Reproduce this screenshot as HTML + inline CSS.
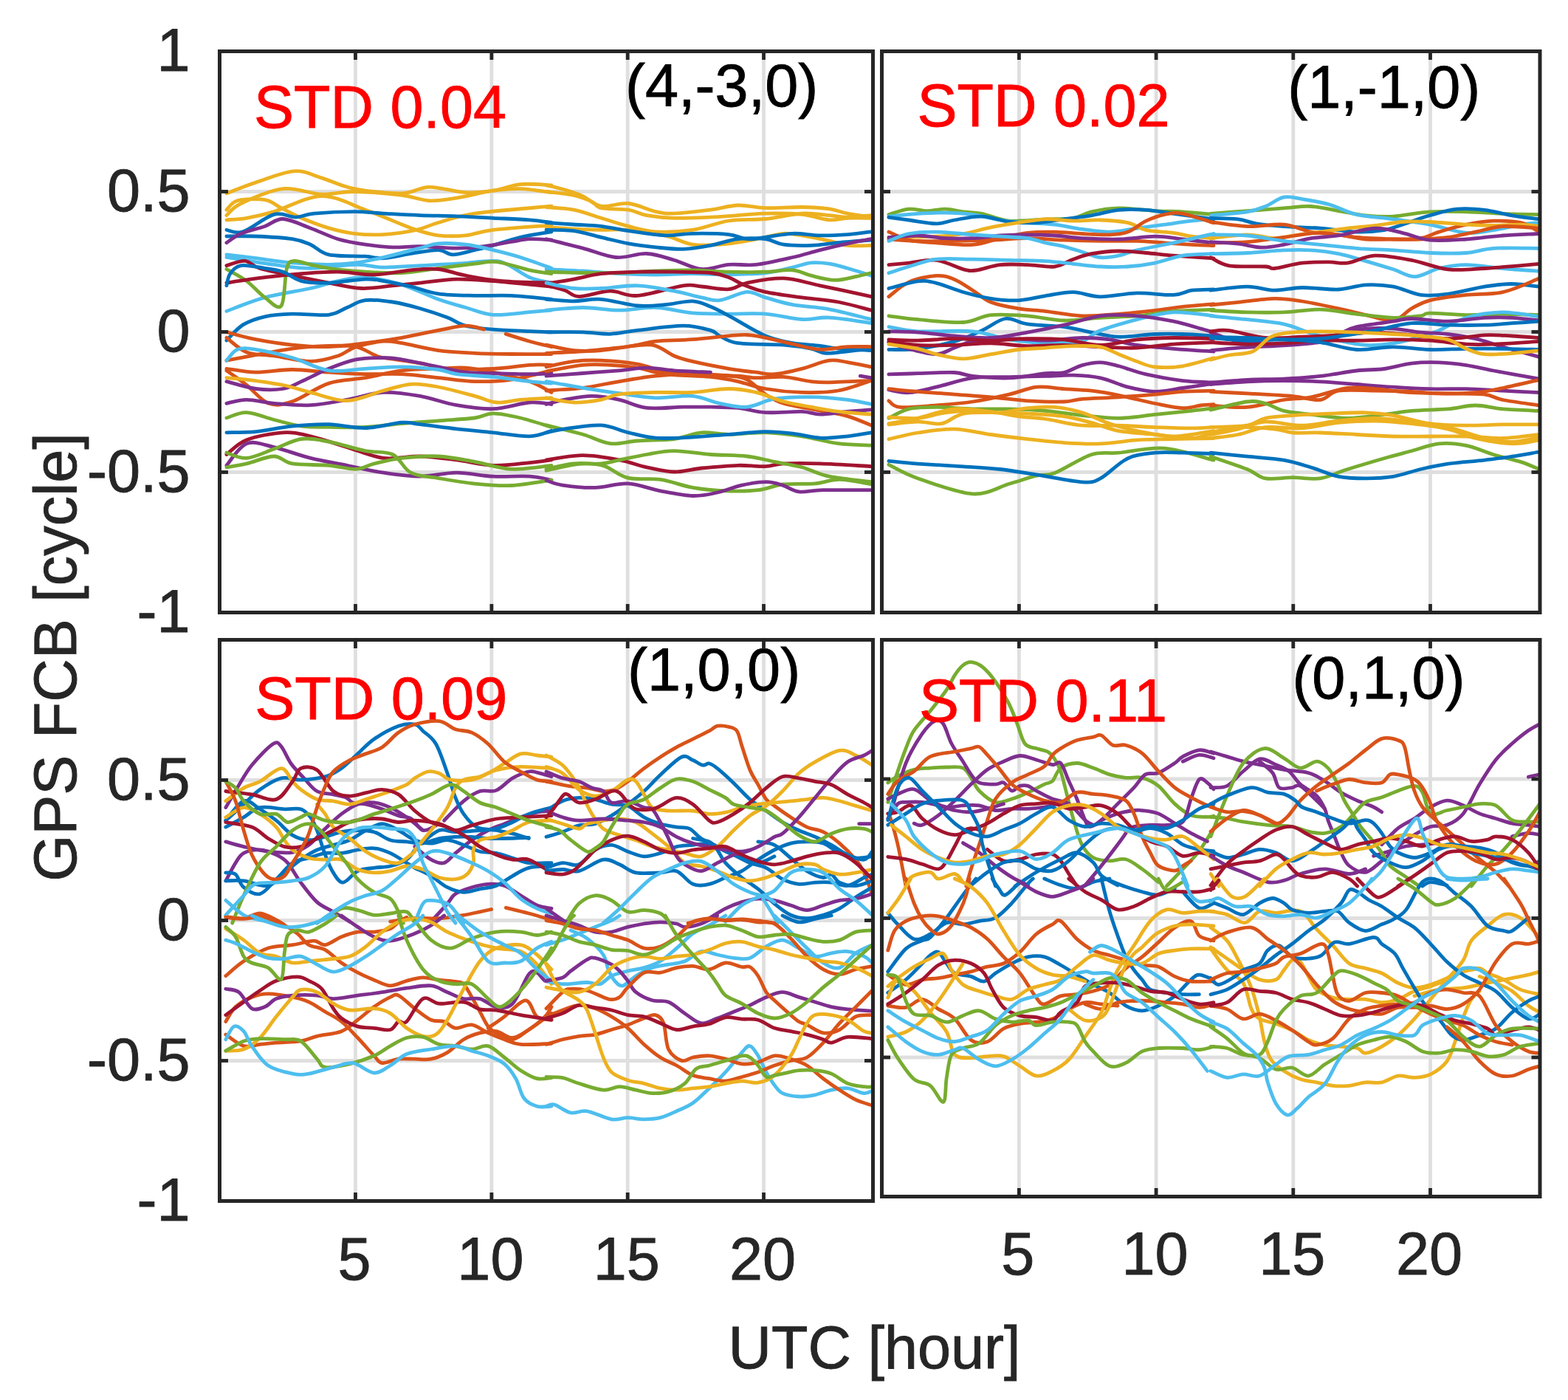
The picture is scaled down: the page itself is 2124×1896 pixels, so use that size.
<!DOCTYPE html><html><head><meta charset="utf-8"><style>html,body{margin:0;padding:0;background:#fff;overflow:hidden;width:2124px;height:1896px;}svg{display:block;}text{font-family:"Liberation Sans",Arial,Helvetica,sans-serif;font-size:81px;stroke-width:0.9px;}</style></head><body>
<svg width="2124" height="1896" viewBox="0 0 2124 1896">
<rect x="0" y="0" width="2124" height="1896" fill="#fff"/>
<clipPath id="clipTL"><rect x="297.5" y="69.5" width="885.0" height="760.0"/></clipPath>
<line x1="481.5" y1="69.5" x2="481.5" y2="829.5" stroke="#dfdfdf" stroke-width="4.8"/>
<line x1="665.9" y1="69.5" x2="665.9" y2="829.5" stroke="#dfdfdf" stroke-width="4.8"/>
<line x1="850.2" y1="69.5" x2="850.2" y2="829.5" stroke="#dfdfdf" stroke-width="4.8"/>
<line x1="1034.5" y1="69.5" x2="1034.5" y2="829.5" stroke="#dfdfdf" stroke-width="4.8"/>
<line x1="297.5" y1="259.5" x2="1182.5" y2="259.5" stroke="#dfdfdf" stroke-width="4.8"/>
<line x1="297.5" y1="449.5" x2="1182.5" y2="449.5" stroke="#dfdfdf" stroke-width="4.8"/>
<line x1="297.5" y1="639.5" x2="1182.5" y2="639.5" stroke="#dfdfdf" stroke-width="4.8"/>
<g clip-path="url(#clipTL)" fill="none" stroke-width="4.8" stroke-linejoin="round" stroke-linecap="round">
<path d="M306.9,261.9C313.5,259.5 331.2,252.1 346.5,247.1C361.7,242.1 383.5,232.8 398.4,231.8C413.2,230.7 421.9,236.9 435.5,240.9C449.1,244.9 461.8,252.2 480.0,255.7C498.1,259.2 527.4,262.3 544.3,261.9C561.2,261.5 566.9,253.5 581.3,253.3C595.8,253.1 616.4,259.9 630.8,260.7C645.2,261.5 655.5,260.1 667.9,258.2C680.2,256.4 691.8,250.8 705.0,249.6C718.2,248.3 740.0,250.6 747.0,250.8" stroke="#EDB120"/>
<path d="M306.9,291.6C310.2,288.9 313.9,281.5 326.7,275.5C339.4,269.5 365.4,257.8 383.5,255.7C401.7,253.7 419.4,262.5 435.5,263.2C451.5,263.8 461.8,259.2 480.0,259.5C498.1,259.7 527.4,262.3 544.3,264.4C561.2,266.5 569.0,271.2 581.3,271.8C593.7,272.4 604.0,270.4 618.4,268.1C632.9,265.8 653.5,260.3 667.9,258.2C682.3,256.2 691.8,255.3 705.0,255.7C718.2,256.2 740.0,259.9 747.0,260.7" stroke="#EDB120"/>
<path d="M306.9,297.8C311.4,297.4 323.4,297.2 334.1,295.3C344.8,293.4 354.3,291.6 371.2,286.6C388.1,281.7 414.9,266.0 435.5,265.6C456.1,265.2 476.7,277.8 494.8,284.2C512.9,290.6 532.7,299.4 544.3,304.0C555.8,308.5 555.8,308.9 564.0,311.4C572.3,313.8 582.6,317.6 593.7,318.8C604.8,320.0 618.4,320.0 630.8,318.8C643.2,317.6 648.5,313.6 667.9,311.4C687.3,309.1 733.8,306.2 747.0,305.2" stroke="#EDB120"/>
<path d="M306.9,284.2C309.4,282.1 313.1,274.1 321.7,271.8C330.4,269.5 348.9,268.9 358.8,270.6C368.7,272.2 372.8,277.6 381.1,281.7C389.3,285.8 397.6,290.8 408.3,295.3C419.0,299.8 433.4,305.4 445.4,308.9C457.3,312.4 467.6,314.9 480.0,316.3C492.3,317.8 505.5,318.4 519.5,317.6C533.5,316.7 551.7,314.1 564.0,311.4C576.4,308.7 580.5,305.2 593.7,301.5C606.9,297.8 617.6,292.8 643.2,289.1C668.7,285.4 729.7,280.9 747.0,279.2" stroke="#EDB120"/>
<path d="M306.9,311.4C310.6,311.8 318.4,317.4 329.1,313.8C339.9,310.3 359.2,293.7 371.2,290.4C383.1,287.1 391.8,294.3 400.8,294.1C409.9,293.9 412.4,290.4 425.6,289.1C438.8,287.9 464.3,286.6 480.0,286.6C495.6,286.6 504.7,288.3 519.5,289.1C534.4,289.9 552.5,291.0 569.0,291.6C585.5,292.2 601.9,292.2 618.4,292.8C634.9,293.4 651.4,294.5 667.9,295.3C684.4,296.1 704.1,296.7 717.3,297.8C730.5,298.8 742.1,300.9 747.0,301.5" stroke="#0072BD"/>
<path d="M306.9,320.0C313.5,320.0 331.6,319.4 346.5,320.0C361.3,320.6 383.5,321.9 395.9,323.7C408.3,325.6 412.4,327.7 420.6,331.2C428.9,334.7 433.0,342.1 445.4,344.8C457.7,347.4 482.4,346.4 494.8,347.2C507.2,348.1 509.2,350.3 519.5,349.7C529.8,349.1 544.3,345.4 556.6,343.5C569.0,341.7 584.2,338.4 593.7,338.6C603.2,338.8 605.2,344.8 613.5,344.8C621.7,344.8 634.1,340.6 643.2,338.6C652.2,336.5 657.6,335.3 667.9,332.4C678.2,329.5 691.8,324.4 705.0,321.3C718.2,318.2 740.0,315.1 747.0,313.8" stroke="#0072BD"/>
<path d="M306.9,328.7C310.2,326.6 318.0,320.0 326.7,316.3C335.3,312.6 349.3,309.7 358.8,306.4C368.3,303.1 373.2,296.1 383.5,296.5C393.8,297.0 408.3,304.4 420.6,308.9C433.0,313.4 445.4,320.0 457.7,323.7C470.1,327.4 482.4,329.3 494.8,331.2C507.2,333.0 519.5,334.5 531.9,334.9C544.3,335.3 554.6,333.4 569.0,333.6C583.4,333.8 604.0,336.1 618.4,336.1C632.9,336.1 643.2,335.1 655.5,333.6C667.9,332.2 682.3,329.1 692.6,327.4C702.9,325.8 708.3,324.1 717.3,323.7C726.4,323.3 742.1,324.8 747.0,325.0" stroke="#7E2F8E"/>
<path d="M306.9,344.8C313.5,345.6 331.6,347.8 346.5,349.7C361.3,351.6 379.4,354.4 395.9,355.9C412.4,357.3 430.9,358.4 445.4,358.4C459.8,358.4 470.1,357.5 482.4,355.9C494.8,354.2 505.1,351.8 519.5,348.5C534.0,345.2 556.6,339.2 569.0,336.1C581.3,333.0 583.4,330.7 593.7,329.9C604.0,329.1 618.4,329.7 630.8,331.2C643.2,332.6 655.5,335.7 667.9,338.6C680.2,341.5 691.8,344.3 705.0,348.5C718.2,352.6 740.0,360.8 747.0,363.3" stroke="#4DBEEE"/>
<path d="M306.9,348.5C317.6,350.1 352.2,355.9 371.2,358.4C390.1,360.8 402.1,363.3 420.6,363.3C439.2,363.3 466.0,358.6 482.4,358.4C498.9,358.1 505.1,361.9 519.5,362.1C534.0,362.3 552.5,360.4 569.0,359.6C585.5,358.8 601.9,358.1 618.4,357.1C634.9,356.1 656.3,353.2 667.9,353.4C679.4,353.6 679.4,354.6 687.7,358.4C695.9,362.1 707.4,371.5 717.3,375.7C727.2,379.8 742.1,381.8 747.0,383.1" stroke="#4DBEEE"/>
<path d="M306.9,421.4C315.5,418.3 339.9,408.0 358.8,402.9C377.8,397.7 404.1,394.2 420.6,390.5C437.1,386.8 445.4,383.1 457.7,380.6C470.1,378.1 480.4,374.8 494.8,375.7C509.2,376.5 527.8,380.6 544.3,385.6C560.7,390.5 579.3,400.2 593.7,405.3C608.1,410.5 618.4,413.0 630.8,416.5C643.2,420.0 653.5,425.3 667.9,426.3C682.3,427.4 704.1,423.7 717.3,422.6C730.5,421.6 742.1,420.6 747.0,420.2" stroke="#4DBEEE"/>
<path d="M306.9,364.5C311.4,367.2 325.4,374.2 334.1,380.6C342.7,387.0 351.0,397.3 358.8,402.9C366.6,408.4 376.1,420.6 381.1,414.0C386.0,407.4 385.6,373.4 388.5,363.3C391.4,353.2 393.0,354.2 398.4,353.4C403.7,352.6 412.8,356.7 420.6,358.4C428.5,360.0 433.0,361.7 445.4,363.3C457.7,364.9 478.3,367.2 494.8,368.2C511.3,369.3 527.8,370.3 544.3,369.5C560.7,368.7 577.2,365.4 593.7,363.3C610.2,361.2 630.0,358.6 643.2,357.1C656.3,355.7 660.5,353.2 672.8,354.6C685.2,356.1 705.0,363.1 717.3,365.8C729.7,368.4 742.1,369.9 747.0,370.7" stroke="#77AC30"/>
<path d="M306.9,359.6C311.0,358.6 324.2,352.8 331.6,353.4C339.0,354.0 340.7,360.0 351.4,363.3C362.1,366.6 380.2,369.9 395.9,373.2C411.6,376.5 429.7,380.2 445.4,383.1C461.0,386.0 475.4,389.9 489.9,390.5C504.3,391.1 518.7,388.0 531.9,386.8C545.1,385.6 554.6,384.5 569.0,383.1C583.4,381.6 601.9,378.5 618.4,378.1C634.9,377.7 646.5,379.0 667.9,380.6C689.3,382.3 733.8,386.8 747.0,388.0" stroke="#A2142F"/>
<path d="M306.9,383.1C315.5,381.8 341.9,377.7 358.8,375.7C375.7,373.6 391.8,372.0 408.3,370.7C424.7,369.5 441.2,368.0 457.7,368.2C474.2,368.4 490.7,372.4 507.2,372.0C523.7,371.5 542.2,367.0 556.6,365.8C571.0,364.5 581.3,363.3 593.7,364.5C606.1,365.8 616.4,370.5 630.8,373.2C645.2,375.9 660.9,379.0 680.2,380.6C699.6,382.3 735.9,382.7 747.0,383.1" stroke="#A2142F"/>
<path d="M306.9,386.8C307.7,384.1 308.5,375.2 311.8,370.7C315.1,366.2 318.8,360.8 326.7,359.6C334.5,358.4 349.3,361.9 358.8,363.3C368.3,364.7 375.3,365.4 383.5,368.2C391.8,371.1 398.0,378.1 408.3,380.6C418.6,383.1 430.9,383.5 445.4,383.1C459.8,382.7 482.4,378.5 494.8,378.1C507.2,377.7 509.2,379.0 519.5,380.6C529.8,382.3 544.3,385.1 556.6,388.0C569.0,390.9 579.3,395.9 593.7,397.9C608.1,400.0 626.7,400.0 643.2,400.4C659.6,400.8 675.3,399.6 692.6,400.4C709.9,401.2 737.9,404.5 747.0,405.3" stroke="#0072BD"/>
<path d="M306.9,461.0C310.6,457.5 320.5,445.3 329.1,439.9C337.8,434.6 347.7,431.3 358.8,428.8C369.9,426.3 381.5,425.5 395.9,425.1C410.3,424.7 433.0,427.8 445.4,426.3C457.7,424.9 461.8,419.8 470.1,416.5C478.3,413.2 484.5,407.8 494.8,406.6C505.1,405.3 519.5,407.2 531.9,409.0C544.3,410.9 556.6,414.2 569.0,417.7C581.3,421.2 595.8,426.1 606.1,430.1C616.4,434.0 620.5,438.5 630.8,441.2C641.1,443.9 653.5,444.9 667.9,446.1C682.3,447.4 704.1,448.0 717.3,448.6C730.5,449.2 742.1,449.6 747.0,449.8" stroke="#0072BD"/>
<path d="M306.9,449.8C313.5,451.5 331.6,456.8 346.5,459.7C361.3,462.6 379.4,465.5 395.9,467.1C412.4,468.8 428.9,470.0 445.4,469.6C461.8,469.2 478.3,466.7 494.8,464.7C511.3,462.6 527.8,460.1 544.3,457.3C560.7,454.4 579.3,450.0 593.7,447.4C608.1,444.7 620.5,441.4 630.8,441.2C641.1,441.0 651.4,445.3 655.5,446.1" stroke="#D95319"/>
<path d="M685.2,452.3C690.5,454.0 707.0,459.3 717.3,462.2C727.6,465.1 742.1,468.4 747.0,469.6" stroke="#D95319"/>
<path d="M306.9,457.3C311.4,460.6 323.4,472.9 334.1,477.0C344.8,481.2 356.8,479.9 371.2,482.0C385.6,484.0 406.2,489.4 420.6,489.4C435.1,489.4 447.4,485.3 457.7,482.0C468.0,478.7 472.1,472.9 482.4,469.6C492.7,466.3 509.2,463.0 519.5,462.2C529.8,461.4 531.9,462.6 544.3,464.7C556.6,466.7 577.2,472.3 593.7,474.6C610.2,476.8 626.7,477.4 643.2,478.3C659.6,479.1 675.3,479.3 692.6,479.5C709.9,479.7 737.9,479.5 747.0,479.5" stroke="#D95319"/>
<path d="M306.9,488.2C313.5,486.9 331.6,483.4 346.5,480.7C361.3,478.1 379.4,474.2 395.9,472.1C412.4,470.0 430.9,468.8 445.4,468.4C459.8,468.0 472.1,467.6 482.4,469.6C492.7,471.7 501.0,478.3 507.2,480.7C513.3,483.2 509.2,482.6 519.5,484.5C529.8,486.3 554.6,489.4 569.0,491.9C583.4,494.3 589.6,498.1 606.1,499.3C622.6,500.5 649.3,500.1 667.9,499.3C686.4,498.5 704.1,495.2 717.3,494.3C730.5,493.5 742.1,494.3 747.0,494.3" stroke="#D95319"/>
<path d="M306.9,499.3C313.5,500.1 331.6,504.0 346.5,504.2C361.3,504.4 379.4,500.5 395.9,500.5C412.4,500.5 428.9,503.2 445.4,504.2C461.8,505.3 478.3,506.3 494.8,506.7C511.3,507.1 527.8,505.9 544.3,506.7C560.7,507.5 577.2,510.0 593.7,511.7C610.2,513.3 626.7,516.2 643.2,516.6C659.6,517.0 675.3,516.6 692.6,514.1C709.9,511.7 737.9,503.8 747.0,501.8" stroke="#D95319"/>
<path d="M306.9,501.8C311.4,505.1 324.6,514.1 334.1,521.5C343.6,529.0 353.5,542.6 363.8,546.3C374.1,550.0 382.3,548.3 395.9,543.8C409.5,539.3 428.9,524.4 445.4,519.1C461.8,513.7 478.3,514.5 494.8,511.7C511.3,508.8 527.8,503.8 544.3,501.8C560.7,499.7 579.3,499.9 593.7,499.3C608.1,498.7 618.4,497.2 630.8,498.1C643.2,498.9 653.5,501.1 667.9,504.2C682.3,507.3 704.1,512.1 717.3,516.6C730.5,521.1 742.1,529.0 747.0,531.4" stroke="#D95319"/>
<path d="M306.9,516.6C313.5,518.2 333.7,524.8 346.5,526.5C359.2,528.1 373.2,528.1 383.5,526.5C393.8,524.8 398.0,521.1 408.3,516.6C418.6,512.1 433.0,504.2 445.4,499.3C457.7,494.3 470.1,489.4 482.4,486.9C494.8,484.5 509.2,484.5 519.5,484.5C529.8,484.5 531.9,484.9 544.3,486.9C556.6,489.0 579.3,493.9 593.7,496.8C608.1,499.7 618.4,502.8 630.8,504.2C643.2,505.7 653.5,505.1 667.9,505.5C682.3,505.9 704.1,506.7 717.3,506.7C730.5,506.7 742.1,505.7 747.0,505.5" stroke="#7E2F8E"/>
<path d="M306.9,546.3C311.4,545.4 323.4,541.3 334.1,541.3C344.8,541.3 356.8,545.0 371.2,546.3C385.6,547.5 404.1,549.6 420.6,548.7C437.1,547.9 453.6,544.2 470.1,541.3C486.6,538.4 503.0,532.3 519.5,531.4C536.0,530.6 552.5,533.5 569.0,536.4C585.5,539.3 601.9,545.9 618.4,548.7C634.9,551.6 651.4,554.3 667.9,553.7C684.4,553.1 704.1,546.1 717.3,545.0C730.5,544.0 742.1,547.1 747.0,547.5" stroke="#7E2F8E"/>
<path d="M306.9,488.2C309.4,485.7 315.1,475.8 321.7,473.3C328.3,470.9 334.1,471.5 346.5,473.3C358.8,475.2 379.4,479.7 395.9,484.5C412.4,489.2 428.9,499.3 445.4,501.8C461.8,504.2 478.3,500.1 494.8,499.3C511.3,498.5 527.8,496.6 544.3,496.8C560.7,497.0 581.3,498.9 593.7,500.5C606.1,502.2 606.1,505.1 618.4,506.7C630.8,508.4 651.4,508.8 667.9,510.4C684.4,512.1 704.1,515.2 717.3,516.6C730.5,518.0 742.1,518.7 747.0,519.1" stroke="#4DBEEE"/>
<path d="M306.9,511.7C311.4,512.1 321.3,512.5 334.1,514.1C346.9,515.8 369.1,518.7 383.5,521.5C398.0,524.4 406.2,527.9 420.6,531.4C435.1,534.9 453.6,543.0 470.1,542.6C486.6,542.1 505.1,532.7 519.5,529.0C534.0,525.3 544.3,521.1 556.6,520.3C569.0,519.5 579.3,521.3 593.7,524.0C608.1,526.7 630.0,532.9 643.2,536.4C656.3,539.9 662.5,544.2 672.8,545.0C683.1,545.9 692.6,542.4 705.0,541.3C717.3,540.3 740.0,539.3 747.0,538.8" stroke="#EDB120"/>
<path d="M306.9,566.0C311.4,564.8 323.4,558.2 334.1,558.6C344.8,559.0 358.8,565.4 371.2,568.5C383.5,571.6 395.9,575.5 408.3,577.2C420.6,578.8 430.9,578.2 445.4,578.4C459.8,578.6 478.3,579.2 494.8,578.4C511.3,577.6 527.8,574.9 544.3,573.5C560.7,572.0 577.2,571.0 593.7,569.8C610.2,568.5 630.8,567.7 643.2,566.0C655.5,564.4 657.6,559.9 667.9,559.9C678.2,559.9 691.8,563.0 705.0,566.0C718.2,569.1 740.0,576.4 747.0,578.4" stroke="#77AC30"/>
<path d="M306.9,585.8C313.5,585.6 331.6,586.0 346.5,584.6C361.3,583.1 379.4,578.8 395.9,577.2C412.4,575.5 428.9,574.3 445.4,574.7C461.8,575.1 478.3,580.1 494.8,579.6C511.3,579.2 531.9,573.1 544.3,572.2C556.6,571.4 556.6,573.3 569.0,574.7C581.3,576.1 601.9,579.0 618.4,580.9C634.9,582.7 651.4,584.2 667.9,585.8C684.4,587.5 704.1,591.2 717.3,590.8C730.5,590.4 742.1,584.6 747.0,583.4" stroke="#0072BD"/>
<path d="M306.9,615.5C311.4,612.2 321.3,600.7 334.1,595.7C346.9,590.8 369.1,586.7 383.5,585.8C398.0,585.0 406.2,587.5 420.6,590.8C435.1,594.1 453.6,600.7 470.1,605.6C486.6,610.6 503.0,618.4 519.5,620.4C536.0,622.5 552.5,617.6 569.0,618.0C585.5,618.4 601.9,620.9 618.4,622.9C634.9,625.0 651.4,629.7 667.9,630.3C684.4,631.0 704.1,627.9 717.3,626.6C730.5,625.4 742.1,623.5 747.0,622.9" stroke="#A2142F"/>
<path d="M306.9,630.3C311.4,625.4 323.4,604.8 334.1,600.7C344.8,596.5 356.8,602.3 371.2,605.6C385.6,608.9 404.1,616.3 420.6,620.4C437.1,624.6 453.6,627.0 470.1,630.3C486.6,633.6 503.0,637.8 519.5,640.2C536.0,642.7 552.5,645.2 569.0,645.2C585.5,645.2 601.9,640.2 618.4,640.2C634.9,640.2 651.4,644.3 667.9,645.2C684.4,646.0 704.1,644.3 717.3,645.2C730.5,646.0 742.1,649.3 747.0,650.1" stroke="#7E2F8E"/>
<path d="M306.9,613.0C311.4,614.3 323.4,621.3 334.1,620.4C344.8,619.6 358.8,612.4 371.2,608.1C383.5,603.8 395.9,596.1 408.3,594.5C420.6,592.8 430.9,595.5 445.4,598.2C459.8,600.9 480.4,607.7 494.8,610.6C509.2,613.4 521.6,610.6 531.9,615.5C542.2,620.4 546.3,634.9 556.6,640.2C566.9,645.6 579.3,645.2 593.7,647.6C608.1,650.1 626.7,653.4 643.2,655.1C659.6,656.7 675.3,658.4 692.6,657.5C709.9,656.7 737.9,651.4 747.0,650.1" stroke="#77AC30"/>
<path d="M306.9,632.8C311.4,632.0 323.4,630.3 334.1,627.9C344.8,625.4 360.9,618.0 371.2,618.0C381.5,618.0 383.5,625.8 395.9,627.9C408.3,629.9 430.9,629.1 445.4,630.3C459.8,631.6 472.1,635.7 482.4,635.3C492.7,634.9 496.9,630.3 507.2,627.9C517.5,625.4 529.8,622.1 544.3,620.4C558.7,618.8 577.2,617.1 593.7,618.0C610.2,618.8 626.7,622.5 643.2,625.4C659.6,628.3 675.3,634.5 692.6,635.3C709.9,636.1 737.9,631.2 747.0,630.3" stroke="#77AC30"/>
<path d="M740.0,250.8C744.1,251.8 756.5,254.5 764.7,257.0C773.0,259.5 781.2,261.9 789.5,265.6C797.7,269.3 803.9,277.6 814.2,279.2C824.5,280.9 838.9,274.3 851.3,275.5C863.6,276.8 878.1,284.4 888.4,286.6C898.7,288.9 900.7,289.5 913.1,289.1C925.4,288.7 948.1,286.0 962.5,284.2C977.0,282.3 987.3,278.4 999.6,278.0C1012.0,277.6 1022.3,281.3 1036.7,281.7C1051.1,282.1 1071.7,280.3 1086.2,280.5C1100.6,280.7 1112.9,281.5 1123.2,282.9C1133.5,284.4 1138.5,287.3 1148.0,289.1C1157.4,291.0 1174.8,293.2 1180.1,294.1" stroke="#EDB120"/>
<path d="M740.0,259.5C746.2,260.3 766.8,262.1 777.1,264.4C787.4,266.7 795.6,270.2 801.8,273.1C808.0,275.9 805.9,279.8 814.2,281.7C822.4,283.6 841.0,282.5 851.3,284.2C861.6,285.8 865.7,289.7 876.0,291.6C886.3,293.4 898.7,294.9 913.1,295.3C927.5,295.7 948.1,294.7 962.5,294.1C977.0,293.4 987.3,292.4 999.6,291.6C1012.0,290.8 1022.3,289.3 1036.7,289.1C1051.1,288.9 1071.7,288.9 1086.2,290.4C1100.6,291.8 1112.9,297.0 1123.2,297.8C1133.5,298.6 1138.5,295.7 1148.0,295.3C1157.4,294.9 1174.8,295.3 1180.1,295.3" stroke="#EDB120"/>
<path d="M740.0,280.5C746.2,281.1 764.7,281.7 777.1,284.2C789.5,286.6 801.8,291.6 814.2,295.3C826.5,299.0 838.9,303.3 851.3,306.4C863.6,309.5 873.9,313.0 888.4,313.8C902.8,314.7 921.3,313.8 937.8,311.4C954.3,308.9 970.8,301.5 987.3,299.0C1003.7,296.5 1020.2,298.2 1036.7,296.5C1053.2,294.9 1071.7,289.9 1086.2,289.1C1100.6,288.3 1112.9,290.8 1123.2,291.6C1133.5,292.4 1138.5,294.1 1148.0,294.1C1157.4,294.1 1174.8,292.0 1180.1,291.6" stroke="#EDB120"/>
<path d="M740.0,307.7C746.2,308.1 764.7,309.5 777.1,310.1C789.5,310.8 801.8,311.2 814.2,311.4C826.5,311.6 836.8,310.1 851.3,311.4C865.7,312.6 886.3,315.5 900.7,318.8C915.1,322.1 925.4,329.1 937.8,331.2C950.2,333.2 962.5,332.0 974.9,331.2C987.3,330.3 1001.7,327.9 1012.0,326.2C1022.3,324.6 1028.5,322.9 1036.7,321.3C1044.9,319.6 1053.2,316.7 1061.4,316.3C1069.7,315.9 1075.9,317.1 1086.2,318.8C1096.5,320.4 1112.9,323.9 1123.2,326.2C1133.5,328.5 1138.5,331.4 1148.0,332.4C1157.4,333.4 1174.8,332.4 1180.1,332.4" stroke="#EDB120"/>
<path d="M740.0,301.5C746.2,301.9 764.7,303.1 777.1,304.0C789.5,304.8 801.8,305.0 814.2,306.4C826.5,307.9 836.8,310.6 851.3,312.6C865.7,314.7 886.3,318.2 900.7,318.8C915.1,319.4 923.4,316.5 937.8,316.3C952.2,316.1 974.9,316.3 987.3,317.6C999.6,318.8 1003.7,323.1 1012.0,323.7C1020.2,324.4 1026.4,322.5 1036.7,321.3C1047.0,320.0 1061.4,316.7 1073.8,316.3C1086.2,315.9 1098.5,318.6 1110.9,318.8C1123.2,319.0 1136.4,318.4 1148.0,317.6C1159.5,316.7 1174.8,314.5 1180.1,313.8" stroke="#0072BD"/>
<path d="M740.0,311.4C746.2,311.6 764.7,311.0 777.1,312.6C789.5,314.3 801.8,318.4 814.2,321.3C826.5,324.1 838.9,327.7 851.3,329.9C863.6,332.2 876.0,333.6 888.4,334.9C900.7,336.1 913.1,337.7 925.4,337.3C937.8,336.9 950.2,334.7 962.5,332.4C974.9,330.1 987.3,325.2 999.6,323.7C1012.0,322.3 1026.4,322.5 1036.7,323.7C1047.0,325.0 1051.1,329.7 1061.4,331.2C1071.7,332.6 1086.2,332.8 1098.5,332.4C1110.9,332.0 1122.0,329.9 1135.6,328.7C1149.2,327.4 1172.7,325.6 1180.1,325.0" stroke="#0072BD"/>
<path d="M740.0,323.7C748.2,325.8 773.8,332.0 789.5,336.1C805.1,340.2 819.5,347.2 834.0,348.5C848.4,349.7 862.8,342.9 876.0,343.5C889.2,344.1 900.7,348.7 913.1,352.2C925.4,355.7 937.8,363.5 950.2,364.5C962.5,365.6 974.9,359.4 987.3,358.4C999.6,357.3 1009.9,360.0 1024.3,358.4C1038.8,356.7 1059.4,351.8 1073.8,348.5C1088.2,345.2 1098.5,341.7 1110.9,338.6C1123.2,335.5 1136.4,332.4 1148.0,329.9C1159.5,327.4 1174.8,324.8 1180.1,323.7" stroke="#7E2F8E"/>
<path d="M740.0,364.5C748.2,364.9 773.0,366.0 789.5,367.0C805.9,368.0 822.4,369.9 838.9,370.7C855.4,371.5 871.9,372.0 888.4,372.0C904.8,372.0 921.3,370.7 937.8,370.7C954.3,370.7 970.8,372.2 987.3,372.0C1003.7,371.7 1022.3,371.1 1036.7,369.5C1051.1,367.8 1063.5,364.3 1073.8,362.1C1084.1,359.8 1090.3,356.7 1098.5,355.9C1106.8,355.1 1115.0,355.9 1123.2,357.1C1131.5,358.4 1138.5,360.6 1148.0,363.3C1157.4,366.0 1174.8,371.5 1180.1,373.2" stroke="#4DBEEE"/>
<path d="M740.0,368.2C748.2,368.4 773.0,369.3 789.5,369.5C805.9,369.7 822.4,369.9 838.9,369.5C855.4,369.1 871.9,367.6 888.4,367.0C904.8,366.4 921.3,365.6 937.8,365.8C954.3,366.0 970.8,367.8 987.3,368.2C1003.7,368.7 1022.3,368.7 1036.7,368.2C1051.1,367.8 1063.5,364.9 1073.8,365.8C1084.1,366.6 1089.0,370.9 1098.5,373.2C1108.0,375.5 1120.4,379.2 1130.7,379.4C1141.0,379.6 1152.1,376.1 1160.3,374.4C1168.6,372.8 1176.8,370.3 1180.1,369.5" stroke="#77AC30"/>
<path d="M740.0,384.3C746.2,383.3 764.7,380.4 777.1,378.1C789.5,375.9 799.8,372.4 814.2,370.7C828.6,369.1 847.1,368.7 863.6,368.2C880.1,367.8 896.6,368.0 913.1,368.2C929.6,368.4 950.2,368.2 962.5,369.5C974.9,370.7 979.8,373.0 987.3,375.7C994.7,378.3 998.8,382.3 1007.0,385.6C1015.3,388.8 1023.5,392.6 1036.7,395.4C1049.9,398.3 1069.7,400.6 1086.2,402.9C1102.6,405.1 1119.9,406.2 1135.6,409.0C1151.3,411.9 1172.7,418.3 1180.1,420.2" stroke="#A2142F"/>
<path d="M740.0,386.8C744.1,387.8 757.3,390.5 764.7,393.0C772.1,395.4 774.2,401.4 784.5,401.6C794.8,401.8 813.4,394.4 826.5,394.2C839.7,394.0 847.1,401.6 863.6,400.4C880.1,399.2 911.0,388.8 925.4,386.8C939.9,384.7 939.9,387.2 950.2,388.0C960.5,388.8 977.0,392.6 987.3,391.7C997.6,390.9 999.6,385.6 1012.0,383.1C1024.3,380.6 1044.9,376.3 1061.4,376.9C1077.9,377.5 1091.1,382.7 1110.9,386.8C1130.7,390.9 1168.6,399.2 1180.1,401.6" stroke="#A2142F"/>
<path d="M740.0,383.1C746.2,384.3 764.7,389.3 777.1,390.5C789.5,391.7 799.8,391.1 814.2,390.5C828.6,389.9 847.1,386.2 863.6,386.8C880.1,387.4 898.7,391.5 913.1,394.2C927.5,396.9 939.9,400.8 950.2,402.9C960.5,404.9 964.6,407.8 974.9,406.6C985.2,405.3 1001.7,396.1 1012.0,395.4C1022.3,394.8 1026.4,400.0 1036.7,402.9C1047.0,405.7 1059.4,410.1 1073.8,412.7C1088.2,415.4 1105.5,415.6 1123.2,418.9C1141.0,422.2 1170.6,430.3 1180.1,432.5" stroke="#4DBEEE"/>
<path d="M740.0,420.2C748.2,419.5 773.0,416.5 789.5,416.5C805.9,416.5 822.4,420.2 838.9,420.2C855.4,420.2 871.9,415.8 888.4,416.5C904.8,417.1 921.3,422.4 937.8,423.9C954.3,425.3 970.8,424.9 987.3,425.1C1003.7,425.3 1020.2,423.9 1036.7,425.1C1053.2,426.3 1071.7,431.7 1086.2,432.5C1100.6,433.4 1107.6,429.2 1123.2,430.1C1138.9,430.9 1170.6,436.2 1180.1,437.5" stroke="#4DBEEE"/>
<path d="M740.0,405.3C746.2,405.7 764.7,407.8 777.1,407.8C789.5,407.8 799.8,404.3 814.2,405.3C828.6,406.4 849.2,412.7 863.6,414.0C878.1,415.2 888.4,413.8 900.7,412.7C913.1,411.7 927.5,407.4 937.8,407.8C948.1,408.2 954.3,411.9 962.5,415.2C970.8,418.5 974.9,421.0 987.3,427.6C999.6,434.2 1022.3,448.6 1036.7,454.8C1051.1,461.0 1061.4,462.4 1073.8,464.7C1086.2,466.9 1100.6,467.1 1110.9,468.4C1121.2,469.6 1124.1,471.1 1135.6,472.1C1147.1,473.1 1172.7,474.2 1180.1,474.6" stroke="#0072BD"/>
<path d="M740.0,449.8C748.2,449.8 775.0,449.4 789.5,449.8C803.9,450.2 814.2,452.7 826.5,452.3C838.9,451.9 847.1,449.2 863.6,447.4C880.1,445.5 909.0,441.2 925.4,441.2C941.9,441.2 954.3,445.1 962.5,447.4C970.8,449.6 968.7,451.9 974.9,454.8C981.1,457.7 985.2,462.6 999.6,464.7C1014.0,466.7 1044.9,465.9 1061.4,467.1C1077.9,468.4 1089.0,470.2 1098.5,472.1C1108.0,473.9 1110.1,477.7 1118.3,478.3C1126.5,478.9 1137.7,476.8 1148.0,475.8C1158.3,474.8 1174.8,472.7 1180.1,472.1" stroke="#0072BD"/>
<path d="M740.0,467.1C746.2,468.4 764.7,473.3 777.1,474.6C789.5,475.8 799.8,475.8 814.2,474.6C828.6,473.3 851.3,469.2 863.6,467.1C876.0,465.1 876.0,463.4 888.4,462.2C900.7,461.0 921.3,461.0 937.8,459.7C954.3,458.5 974.9,455.8 987.3,454.8C999.6,453.8 1003.7,453.1 1012.0,453.5C1020.2,454.0 1026.4,455.2 1036.7,457.3C1047.0,459.3 1061.4,463.2 1073.8,465.9C1086.2,468.6 1098.5,472.7 1110.9,473.3C1123.2,473.9 1136.4,470.2 1148.0,469.6C1159.5,469.0 1174.8,469.6 1180.1,469.6" stroke="#D95319"/>
<path d="M740.0,478.3C748.2,477.9 773.0,477.0 789.5,475.8C805.9,474.6 823.2,472.3 838.9,470.9C854.6,469.4 871.0,465.3 883.4,467.1C895.8,469.0 904.0,478.3 913.1,482.0C922.1,485.7 925.4,486.5 937.8,489.4C950.2,492.3 972.8,496.8 987.3,499.3C1001.7,501.8 1014.0,503.0 1024.3,504.2C1034.6,505.5 1038.8,507.5 1049.1,506.7C1059.4,505.9 1073.8,502.4 1086.2,499.3C1098.5,496.2 1112.9,489.6 1123.2,488.2C1133.5,486.7 1138.5,489.2 1148.0,490.6C1157.4,492.1 1174.8,495.8 1180.1,496.8" stroke="#D95319"/>
<path d="M740.0,496.8C746.2,495.6 764.7,490.8 777.1,489.4C789.5,488.0 799.8,487.5 814.2,488.2C828.6,488.8 849.2,490.6 863.6,493.1C878.1,495.6 886.3,500.7 900.7,503.0C915.1,505.3 933.7,505.7 950.2,506.7C966.7,507.7 987.3,508.4 999.6,509.2C1012.0,510.0 1014.0,511.4 1024.3,511.7C1034.6,511.9 1049.1,509.6 1061.4,510.4C1073.8,511.2 1088.2,515.4 1098.5,516.6C1108.8,517.8 1109.6,518.0 1123.2,517.8C1136.8,517.6 1170.6,515.8 1180.1,515.4" stroke="#D95319"/>
<path d="M740.0,503.0C748.2,501.6 775.0,495.8 789.5,494.3C803.9,492.9 814.2,493.7 826.5,494.3C838.9,495.0 851.3,496.0 863.6,498.1C876.0,500.1 884.2,504.6 900.7,506.7C917.2,508.8 946.0,508.8 962.5,510.4C979.0,512.1 987.3,513.9 999.6,516.6C1012.0,519.3 1022.3,524.0 1036.7,526.5C1051.1,529.0 1069.7,531.0 1086.2,531.4C1102.6,531.8 1119.9,531.6 1135.6,529.0C1151.3,526.3 1172.7,517.6 1180.1,515.4" stroke="#D95319"/>
<path d="M740.0,529.0C748.2,528.3 773.0,527.3 789.5,525.3C805.9,523.2 822.4,519.3 838.9,516.6C855.4,513.9 871.9,510.8 888.4,509.2C904.8,507.5 921.3,506.7 937.8,506.7C954.3,506.7 974.9,507.9 987.3,509.2C999.6,510.4 1003.7,510.0 1012.0,514.1C1020.2,518.2 1028.5,528.5 1036.7,533.9C1044.9,539.3 1049.1,542.6 1061.4,546.3C1073.8,550.0 1096.5,553.3 1110.9,556.2C1125.3,559.0 1136.4,560.3 1148.0,563.6C1159.5,566.9 1174.8,573.9 1180.1,575.9" stroke="#D95319"/>
<path d="M740.0,509.2C748.2,508.6 773.0,506.7 789.5,505.5C805.9,504.2 824.5,503.0 838.9,501.8C853.3,500.5 863.6,498.1 876.0,498.1C888.4,498.1 898.7,500.7 913.1,501.8C927.5,502.8 954.3,503.8 962.5,504.2" stroke="#7E2F8E"/>
<path d="M1165.3,509.2 L1180.1,511.7" stroke="#7E2F8E"/>
<path d="M740.0,547.5C744.1,546.5 754.4,543.2 764.7,541.3C775.0,539.5 789.5,536.4 801.8,536.4C814.2,536.4 826.5,538.6 838.9,541.3C851.3,544.0 861.6,550.8 876.0,552.4C890.4,554.1 911.0,551.4 925.4,551.2C939.9,551.0 950.2,551.0 962.5,551.2C974.9,551.4 987.3,551.2 999.6,552.4C1012.0,553.7 1022.3,557.8 1036.7,558.6C1051.1,559.5 1073.8,557.0 1086.2,557.4C1098.5,557.8 1100.6,561.1 1110.9,561.1C1121.2,561.1 1136.4,558.4 1148.0,557.4C1159.5,556.4 1174.8,555.3 1180.1,554.9" stroke="#7E2F8E"/>
<path d="M740.0,516.6C748.2,518.0 773.0,522.6 789.5,525.3C805.9,527.9 822.4,530.4 838.9,532.7C855.4,534.9 871.9,538.2 888.4,538.8C904.8,539.5 923.4,535.1 937.8,536.4C952.2,537.6 962.5,543.8 974.9,546.3C987.3,548.7 999.6,552.2 1012.0,551.2C1024.3,550.2 1034.6,542.4 1049.1,540.1C1063.5,537.8 1082.0,537.4 1098.5,537.6C1115.0,537.8 1134.4,539.7 1148.0,541.3C1161.6,543.0 1174.8,546.5 1180.1,547.5" stroke="#4DBEEE"/>
<path d="M740.0,538.8C746.2,539.9 764.7,544.6 777.1,545.0C789.5,545.4 803.9,543.2 814.2,541.3C824.5,539.5 826.5,535.6 838.9,533.9C851.3,532.3 871.9,531.8 888.4,531.4C904.8,531.0 921.3,532.3 937.8,531.4C954.3,530.6 972.8,526.5 987.3,526.5C1001.7,526.5 1012.0,528.5 1024.3,531.4C1036.7,534.3 1049.1,540.5 1061.4,543.8C1073.8,547.1 1086.2,548.9 1098.5,551.2C1110.9,553.5 1122.0,555.7 1135.6,557.4C1149.2,559.0 1172.7,560.5 1180.1,561.1" stroke="#EDB120"/>
<path d="M740.0,575.9C748.2,578.0 775.0,584.2 789.5,588.3C803.9,592.4 814.2,599.2 826.5,600.7C838.9,602.1 849.2,598.0 863.6,597.0C878.1,595.9 898.7,596.3 913.1,594.5C927.5,592.6 937.8,586.9 950.2,585.8C962.5,584.8 972.8,588.3 987.3,588.3C1001.7,588.3 1020.2,585.4 1036.7,585.8C1053.2,586.2 1069.7,588.3 1086.2,590.8C1102.6,593.2 1119.9,598.6 1135.6,600.7C1151.3,602.7 1172.7,602.7 1180.1,603.1" stroke="#77AC30"/>
<path d="M740.0,585.8C744.1,585.0 752.4,582.5 764.7,580.9C777.1,579.2 799.8,575.1 814.2,575.9C828.6,576.8 838.9,582.9 851.3,585.8C863.6,588.7 873.9,592.2 888.4,593.2C902.8,594.3 921.3,592.8 937.8,592.0C954.3,591.2 970.8,589.5 987.3,588.3C1003.7,587.1 1022.3,584.8 1036.7,584.6C1051.1,584.4 1061.4,585.6 1073.8,587.1C1086.2,588.5 1098.5,592.6 1110.9,593.2C1123.2,593.9 1136.4,592.0 1148.0,590.8C1159.5,589.5 1174.8,586.7 1180.1,585.8" stroke="#0072BD"/>
<path d="M740.0,622.9C748.2,621.9 773.0,616.7 789.5,616.7C805.9,616.7 824.5,620.2 838.9,622.9C853.3,625.6 863.6,630.1 876.0,632.8C888.4,635.5 900.7,638.8 913.1,639.0C925.4,639.2 935.7,635.5 950.2,634.0C964.6,632.6 985.2,630.7 999.6,630.3C1014.0,629.9 1026.4,632.0 1036.7,631.6C1047.0,631.2 1049.1,628.5 1061.4,627.9C1073.8,627.2 1091.1,627.2 1110.9,627.9C1130.7,628.5 1168.6,631.0 1180.1,631.6" stroke="#A2142F"/>
<path d="M740.0,635.3C746.2,634.0 764.7,629.1 777.1,627.9C789.5,626.6 803.9,628.7 814.2,627.9C824.5,627.0 828.6,625.0 838.9,622.9C849.2,620.9 863.6,617.6 876.0,615.5C888.4,613.4 898.7,610.6 913.1,610.6C927.5,610.6 946.0,614.3 962.5,615.5C979.0,616.7 997.6,616.3 1012.0,618.0C1026.4,619.6 1036.7,622.9 1049.1,625.4C1061.4,627.9 1073.8,629.5 1086.2,632.8C1098.5,636.1 1107.6,641.9 1123.2,645.2C1138.9,648.5 1170.6,651.4 1180.1,652.6" stroke="#77AC30"/>
<path d="M740.0,637.2C747.4,635.8 771.3,629.5 784.1,628.4C797.0,627.3 806.2,627.5 817.2,630.6C828.3,633.8 837.5,644.1 850.4,647.2C863.2,650.3 879.8,647.2 894.5,649.4C909.2,651.6 923.9,657.8 938.6,660.4C953.3,663.0 968.1,664.3 982.8,664.8C997.5,665.4 1014.0,665.2 1026.9,663.7C1039.8,662.3 1047.1,657.5 1060.0,656.0C1072.9,654.5 1091.3,656.0 1104.2,654.9C1117.0,653.8 1124.4,649.2 1137.3,649.4C1150.1,649.6 1174.0,654.9 1181.4,656.0" stroke="#77AC30"/>
<path d="M740.0,650.5C743.7,651.6 751.0,655.5 762.1,657.1C773.1,658.8 791.5,660.8 806.2,660.4C820.9,660.1 835.6,654.2 850.4,654.9C865.1,655.6 879.8,662.1 894.5,664.8C909.2,667.6 925.8,671.1 938.6,671.5C951.5,671.8 960.7,669.4 971.7,667.0C982.8,664.6 993.8,659.5 1004.8,657.1C1015.9,654.7 1028.8,652.7 1037.9,652.7C1047.1,652.7 1052.7,654.9 1060.0,657.1C1067.4,659.3 1072.9,664.8 1082.1,665.9C1091.3,667.0 1098.6,664.1 1115.2,663.7C1131.7,663.4 1170.4,663.7 1181.4,663.7" stroke="#7E2F8E"/>
</g>
<text x="344" y="173.4" fill="#ff0000" stroke="#ff0000" stroke-width="0.9">STD 0.04</text>
<text x="847.1" y="144" fill="#000" stroke="#000" stroke-width="0.9">(4,-3,0)</text>
<line x1="481.5" y1="829.5" x2="481.5" y2="818.0" stroke="#262626" stroke-width="4.8"/>
<line x1="481.5" y1="69.5" x2="481.5" y2="81.0" stroke="#262626" stroke-width="4.8"/>
<line x1="665.9" y1="829.5" x2="665.9" y2="818.0" stroke="#262626" stroke-width="4.8"/>
<line x1="665.9" y1="69.5" x2="665.9" y2="81.0" stroke="#262626" stroke-width="4.8"/>
<line x1="850.2" y1="829.5" x2="850.2" y2="818.0" stroke="#262626" stroke-width="4.8"/>
<line x1="850.2" y1="69.5" x2="850.2" y2="81.0" stroke="#262626" stroke-width="4.8"/>
<line x1="1034.5" y1="829.5" x2="1034.5" y2="818.0" stroke="#262626" stroke-width="4.8"/>
<line x1="1034.5" y1="69.5" x2="1034.5" y2="81.0" stroke="#262626" stroke-width="4.8"/>
<line x1="297.5" y1="69.5" x2="309.0" y2="69.5" stroke="#262626" stroke-width="4.8"/>
<line x1="1182.5" y1="69.5" x2="1171.0" y2="69.5" stroke="#262626" stroke-width="4.8"/>
<line x1="297.5" y1="259.5" x2="309.0" y2="259.5" stroke="#262626" stroke-width="4.8"/>
<line x1="1182.5" y1="259.5" x2="1171.0" y2="259.5" stroke="#262626" stroke-width="4.8"/>
<line x1="297.5" y1="449.5" x2="309.0" y2="449.5" stroke="#262626" stroke-width="4.8"/>
<line x1="1182.5" y1="449.5" x2="1171.0" y2="449.5" stroke="#262626" stroke-width="4.8"/>
<line x1="297.5" y1="639.5" x2="309.0" y2="639.5" stroke="#262626" stroke-width="4.8"/>
<line x1="1182.5" y1="639.5" x2="1171.0" y2="639.5" stroke="#262626" stroke-width="4.8"/>
<line x1="297.5" y1="829.5" x2="309.0" y2="829.5" stroke="#262626" stroke-width="4.8"/>
<line x1="1182.5" y1="829.5" x2="1171.0" y2="829.5" stroke="#262626" stroke-width="4.8"/>
<rect x="297.5" y="69.5" width="885.0" height="760.0" fill="none" stroke="#262626" stroke-width="5" stroke-linejoin="miter"/>
<clipPath id="clipTR"><rect x="1194.5" y="69.5" width="891.5" height="760.0"/></clipPath>
<line x1="1380.4" y1="69.5" x2="1380.4" y2="829.5" stroke="#dfdfdf" stroke-width="4.8"/>
<line x1="1566.1" y1="69.5" x2="1566.1" y2="829.5" stroke="#dfdfdf" stroke-width="4.8"/>
<line x1="1751.8" y1="69.5" x2="1751.8" y2="829.5" stroke="#dfdfdf" stroke-width="4.8"/>
<line x1="1937.5" y1="69.5" x2="1937.5" y2="829.5" stroke="#dfdfdf" stroke-width="4.8"/>
<line x1="1194.5" y1="259.5" x2="2086.0" y2="259.5" stroke="#dfdfdf" stroke-width="4.8"/>
<line x1="1194.5" y1="449.5" x2="2086.0" y2="449.5" stroke="#dfdfdf" stroke-width="4.8"/>
<line x1="1194.5" y1="639.5" x2="2086.0" y2="639.5" stroke="#dfdfdf" stroke-width="4.8"/>
<g clip-path="url(#clipTR)" fill="none" stroke-width="4.8" stroke-linejoin="round" stroke-linecap="round">
<path d="M1203.9,290.6C1208.4,289.3 1222.4,284.0 1231.1,283.2C1239.7,282.3 1247.6,285.6 1255.8,285.6C1264.1,285.6 1272.3,283.0 1280.5,283.2C1288.8,283.4 1297.0,285.8 1305.3,286.9C1313.5,287.9 1319.7,287.3 1330.0,289.3C1340.3,291.4 1352.7,298.0 1367.1,299.2C1381.5,300.5 1402.1,297.4 1416.5,296.8C1431.0,296.1 1443.3,297.2 1453.6,295.5C1463.9,293.9 1468.0,289.1 1478.3,286.9C1488.6,284.6 1501.0,282.1 1515.4,281.9C1529.9,281.7 1550.5,284.8 1564.9,285.6C1579.3,286.5 1588.8,286.0 1602.0,286.9C1615.2,287.7 1637.0,290.0 1644.0,290.6" stroke="#77AC30"/>
<path d="M1203.9,293.1C1210.5,292.4 1230.7,290.2 1243.5,289.3C1256.2,288.5 1268.2,287.9 1280.5,288.1C1292.9,288.3 1305.3,288.9 1317.6,290.6C1330.0,292.2 1342.4,296.1 1354.7,298.0C1367.1,299.8 1379.4,300.7 1391.8,301.7C1404.2,302.7 1416.5,302.7 1428.9,304.2C1441.3,305.6 1453.6,308.7 1466.0,310.4C1478.3,312.0 1490.7,314.3 1503.1,314.1C1515.4,313.9 1527.8,310.8 1540.2,309.1C1552.5,307.5 1564.9,305.8 1577.2,304.2C1589.6,302.5 1603.2,300.5 1614.3,299.2C1625.5,298.0 1639.1,297.2 1644.0,296.8" stroke="#4DBEEE"/>
<path d="M1203.9,294.3C1208.4,294.9 1220.4,296.6 1231.1,298.0C1241.8,299.4 1257.9,302.9 1268.2,302.9C1278.5,302.9 1282.6,299.6 1292.9,298.0C1303.2,296.3 1317.6,292.6 1330.0,293.1C1342.4,293.5 1354.7,299.0 1367.1,300.5C1379.4,301.9 1391.8,302.3 1404.2,301.7C1416.5,301.1 1428.9,298.4 1441.3,296.8C1453.6,295.1 1466.0,293.9 1478.3,291.8C1490.7,289.8 1503.1,285.6 1515.4,284.4C1527.8,283.2 1540.2,283.6 1552.5,284.4C1564.9,285.2 1574.4,287.3 1589.6,289.3C1604.9,291.4 1634.9,295.5 1644.0,296.8" stroke="#0072BD"/>
<path d="M1203.9,321.5C1214.6,321.3 1251.3,321.1 1268.2,320.2C1285.1,319.4 1292.9,318.6 1305.3,316.5C1317.6,314.5 1330.0,310.4 1342.4,307.9C1354.7,305.4 1367.1,303.6 1379.4,301.7C1391.8,299.8 1404.2,297.2 1416.5,296.8C1428.9,296.3 1441.3,299.0 1453.6,299.2C1466.0,299.4 1478.3,297.6 1490.7,298.0C1503.1,298.4 1517.5,299.4 1527.8,301.7C1538.1,304.0 1542.2,309.3 1552.5,311.6C1562.8,313.9 1579.3,313.9 1589.6,315.3C1599.9,316.7 1605.3,319.0 1614.3,320.2C1623.4,321.5 1639.1,322.3 1644.0,322.7" stroke="#EDB120"/>
<path d="M1203.9,314.1C1208.4,315.9 1220.4,322.7 1231.1,325.2C1241.8,327.7 1253.8,327.9 1268.2,328.9C1282.6,329.9 1303.2,332.4 1317.6,331.4C1332.1,330.3 1342.4,325.4 1354.7,322.7C1367.1,320.0 1379.4,316.7 1391.8,315.3C1404.2,313.9 1416.5,313.9 1428.9,314.1C1441.3,314.3 1453.6,315.9 1466.0,316.5C1478.3,317.2 1492.8,318.2 1503.1,317.8C1513.4,317.4 1519.6,317.2 1527.8,314.1C1536.0,311.0 1544.3,303.1 1552.5,299.2C1560.8,295.3 1569.0,292.2 1577.2,290.6C1585.5,288.9 1590.8,287.5 1602.0,289.3C1613.1,291.2 1637.0,299.6 1644.0,301.7" stroke="#D95319"/>
<path d="M1203.9,324.0C1210.5,324.4 1228.6,326.0 1243.5,326.4C1258.3,326.8 1276.4,326.6 1292.9,326.4C1309.4,326.2 1325.9,325.8 1342.4,325.2C1358.8,324.6 1375.3,322.7 1391.8,322.7C1408.3,322.7 1424.8,324.6 1441.3,325.2C1457.7,325.8 1474.2,326.2 1490.7,326.4C1507.2,326.6 1525.7,326.0 1540.2,326.4C1554.6,326.8 1564.9,328.1 1577.2,328.9C1589.6,329.7 1603.2,330.8 1614.3,331.4C1625.5,332.0 1639.1,332.4 1644.0,332.6" stroke="#D95319"/>
<path d="M1203.9,321.5C1210.5,321.1 1230.7,318.8 1243.5,319.0C1256.2,319.2 1268.2,322.1 1280.5,322.7C1292.9,323.3 1305.3,323.3 1317.6,322.7C1330.0,322.1 1342.4,319.8 1354.7,319.0C1367.1,318.2 1379.4,317.8 1391.8,317.8C1404.2,317.8 1416.5,318.2 1428.9,319.0C1441.3,319.8 1451.6,321.9 1466.0,322.7C1480.4,323.5 1498.9,324.4 1515.4,324.0C1531.9,323.5 1550.5,320.2 1564.9,320.2C1579.3,320.2 1588.8,322.5 1602.0,324.0C1615.2,325.4 1637.0,328.1 1644.0,328.9" stroke="#7E2F8E"/>
<path d="M1203.9,326.4C1208.4,324.8 1220.4,318.6 1231.1,316.5C1241.8,314.5 1253.8,313.9 1268.2,314.1C1282.6,314.3 1303.2,316.7 1317.6,317.8C1332.1,318.8 1342.4,319.4 1354.7,320.2C1367.1,321.1 1381.5,321.3 1391.8,322.7C1402.1,324.2 1408.3,327.0 1416.5,328.9C1424.8,330.8 1433.0,331.8 1441.3,333.8C1449.5,335.9 1457.7,338.8 1466.0,341.3C1474.2,343.7 1482.5,347.9 1490.7,348.7C1498.9,349.5 1507.2,347.9 1515.4,346.2C1523.7,344.6 1527.8,341.7 1540.2,338.8C1552.5,335.9 1572.3,332.6 1589.6,328.9C1606.9,325.2 1634.9,318.6 1644.0,316.5" stroke="#4DBEEE"/>
<path d="M1203.9,358.6C1208.4,358.2 1220.4,357.1 1231.1,356.1C1241.8,355.1 1255.8,350.9 1268.2,352.4C1280.5,353.8 1296.2,362.5 1305.3,364.8C1314.3,367.0 1314.3,367.0 1322.6,366.0C1330.8,365.0 1343.2,359.8 1354.7,358.6C1366.3,357.3 1379.4,358.2 1391.8,358.6C1404.2,359.0 1418.6,362.3 1428.9,361.0C1439.2,359.8 1445.4,354.0 1453.6,351.2C1461.9,348.3 1468.0,345.6 1478.3,343.7C1488.6,341.9 1503.1,340.2 1515.4,340.0C1527.8,339.8 1540.2,341.5 1552.5,342.5C1564.9,343.5 1574.4,345.0 1589.6,346.2C1604.9,347.4 1634.9,349.3 1644.0,349.9" stroke="#A2142F"/>
<path d="M1203.9,369.7C1208.4,368.3 1220.4,364.1 1231.1,361.0C1241.8,358.0 1253.8,352.8 1268.2,351.2C1282.6,349.5 1301.1,350.9 1317.6,351.2C1334.1,351.4 1350.6,352.0 1367.1,352.4C1383.6,352.8 1402.1,352.8 1416.5,353.6C1431.0,354.5 1441.3,356.1 1453.6,357.3C1466.0,358.6 1478.3,360.4 1490.7,361.0C1503.1,361.7 1515.4,361.9 1527.8,361.0C1540.2,360.2 1552.5,358.6 1564.9,356.1C1577.2,353.6 1588.8,348.3 1602.0,346.2C1615.2,344.1 1637.0,344.1 1644.0,343.7" stroke="#4DBEEE"/>
<path d="M1203.9,401.8C1208.4,398.5 1220.4,386.8 1231.1,382.1C1241.8,377.3 1257.9,374.0 1268.2,373.4C1278.5,372.8 1284.7,375.1 1292.9,378.4C1301.1,381.7 1309.4,388.0 1317.6,393.2C1325.9,398.3 1332.1,405.1 1342.4,409.3C1352.7,413.4 1367.1,415.9 1379.4,417.9C1391.8,420.0 1402.1,420.0 1416.5,421.6C1431.0,423.3 1449.5,427.2 1466.0,427.8C1482.5,428.4 1498.9,426.6 1515.4,425.3C1531.9,424.1 1550.5,422.0 1564.9,420.4C1579.3,418.7 1588.8,416.9 1602.0,415.4C1615.2,414.0 1637.0,412.4 1644.0,411.7" stroke="#D95319"/>
<path d="M1203.9,390.7C1210.5,389.1 1232.7,382.1 1243.5,380.8C1254.2,379.6 1257.9,380.8 1268.2,383.3C1278.5,385.8 1292.9,392.2 1305.3,395.7C1317.6,399.2 1330.0,402.5 1342.4,404.3C1354.7,406.2 1367.1,407.4 1379.4,406.8C1391.8,406.2 1404.2,402.5 1416.5,400.6C1428.9,398.8 1441.3,395.5 1453.6,395.7C1466.0,395.9 1476.3,401.6 1490.7,401.8C1505.1,402.0 1523.7,397.3 1540.2,396.9C1556.6,396.5 1577.2,400.0 1589.6,399.4C1602.0,398.8 1605.3,394.4 1614.3,393.2C1623.4,392.0 1639.1,392.2 1644.0,392.0" stroke="#0072BD"/>
<path d="M1203.9,427.8C1210.5,428.6 1226.6,431.3 1243.5,432.7C1260.3,434.2 1288.8,437.5 1305.3,436.5C1321.7,435.4 1327.9,428.0 1342.4,426.6C1356.8,425.1 1375.3,426.6 1391.8,427.8C1408.3,429.0 1424.8,433.6 1441.3,434.0C1457.7,434.4 1474.2,431.3 1490.7,430.3C1507.2,429.2 1523.7,429.2 1540.2,427.8C1556.6,426.4 1572.3,423.1 1589.6,421.6C1606.9,420.2 1634.9,419.6 1644.0,419.2" stroke="#77AC30"/>
<path d="M1203.9,473.5C1210.5,473.3 1228.6,474.2 1243.5,472.3C1258.3,470.5 1278.5,466.5 1292.9,462.4C1307.3,458.3 1318.5,452.7 1330.0,447.6C1341.5,442.4 1351.8,433.0 1362.1,431.5C1372.4,430.1 1378.6,437.1 1391.8,438.9C1405.0,440.8 1426.8,440.8 1441.3,442.6C1455.7,444.5 1466.0,447.8 1478.3,450.1C1490.7,452.3 1501.0,455.8 1515.4,456.2C1529.9,456.7 1550.5,453.1 1564.9,452.5C1579.3,451.9 1588.8,452.1 1602.0,452.5C1615.2,452.9 1637.0,454.6 1644.0,455.0" stroke="#0072BD"/>
<path d="M1203.9,442.6C1210.5,443.7 1224.5,447.8 1243.5,448.8C1262.4,449.9 1297.0,447.0 1317.6,448.8C1338.2,450.7 1350.6,457.3 1367.1,459.9C1383.6,462.6 1404.2,464.3 1416.5,464.9C1428.9,465.5 1433.0,464.1 1441.3,463.7C1449.5,463.2 1457.7,465.1 1466.0,462.4C1474.2,459.7 1478.3,452.5 1490.7,447.6C1503.1,442.6 1523.7,436.9 1540.2,432.7C1556.6,428.6 1572.3,423.7 1589.6,422.9C1606.9,422.0 1634.9,427.0 1644.0,427.8" stroke="#4DBEEE"/>
<path d="M1203.9,448.8C1210.5,449.0 1228.6,449.0 1243.5,450.1C1258.3,451.1 1276.4,453.8 1292.9,455.0C1309.4,456.2 1325.9,458.3 1342.4,457.5C1358.8,456.7 1375.3,452.9 1391.8,450.1C1408.3,447.2 1424.8,443.9 1441.3,440.2C1457.7,436.5 1474.2,429.9 1490.7,427.8C1507.2,425.7 1523.7,426.6 1540.2,427.8C1556.6,429.0 1575.2,432.3 1589.6,435.2C1604.0,438.1 1617.6,442.6 1626.7,445.1C1635.8,447.6 1641.1,449.2 1644.0,450.1" stroke="#7E2F8E"/>
<path d="M1203.9,463.7C1208.4,465.1 1220.4,469.6 1231.1,472.3C1241.8,475.0 1257.9,479.9 1268.2,479.7C1278.5,479.5 1284.7,474.0 1292.9,471.1C1301.1,468.2 1305.3,464.5 1317.6,462.4C1330.0,460.4 1350.6,458.9 1367.1,458.7C1383.6,458.5 1400.0,461.4 1416.5,461.2C1433.0,461.0 1451.6,457.7 1466.0,457.5C1480.4,457.3 1490.7,458.3 1503.1,459.9C1515.4,461.6 1525.7,465.3 1540.2,467.4C1554.6,469.4 1572.3,470.9 1589.6,472.3C1606.9,473.8 1634.9,475.4 1644.0,476.0" stroke="#7E2F8E"/>
<path d="M1203.9,459.9C1210.5,460.2 1228.6,461.4 1243.5,461.2C1258.3,461.0 1276.4,458.7 1292.9,458.7C1309.4,458.7 1325.9,461.2 1342.4,461.2C1358.8,461.2 1375.3,458.9 1391.8,458.7C1408.3,458.5 1424.8,458.5 1441.3,459.9C1457.7,461.4 1474.2,467.4 1490.7,467.4C1507.2,467.4 1523.7,461.6 1540.2,459.9C1556.6,458.3 1572.3,457.7 1589.6,457.5C1606.9,457.3 1634.9,458.5 1644.0,458.7" stroke="#A2142F"/>
<path d="M1203.9,462.4C1210.5,463.2 1228.6,466.5 1243.5,467.4C1258.3,468.2 1276.4,467.8 1292.9,467.4C1309.4,467.0 1325.9,464.7 1342.4,464.9C1358.8,465.1 1375.3,468.2 1391.8,468.6C1408.3,469.0 1424.8,467.2 1441.3,467.4C1457.7,467.6 1474.2,469.2 1490.7,469.8C1507.2,470.5 1523.7,471.7 1540.2,471.1C1556.6,470.5 1572.3,467.4 1589.6,466.1C1606.9,464.9 1634.9,464.1 1644.0,463.7" stroke="#A2142F"/>
<path d="M1203.9,466.1C1210.5,467.2 1232.7,470.0 1243.5,472.3C1254.2,474.6 1257.9,477.5 1268.2,479.7C1278.5,482.0 1292.9,485.9 1305.3,485.9C1317.6,485.9 1330.0,481.8 1342.4,479.7C1354.7,477.7 1367.1,475.0 1379.4,473.5C1391.8,472.1 1404.2,471.9 1416.5,471.1C1428.9,470.2 1441.3,468.8 1453.6,468.6C1466.0,468.4 1480.4,468.0 1490.7,469.8C1501.0,471.7 1507.2,476.4 1515.4,479.7C1523.7,483.0 1531.9,486.7 1540.2,489.6C1548.4,492.5 1554.6,496.0 1564.9,497.0C1575.2,498.1 1588.8,497.9 1602.0,495.8C1615.2,493.7 1637.0,486.5 1644.0,484.7" stroke="#EDB120"/>
<path d="M1203.9,506.9C1210.5,506.7 1228.6,506.1 1243.5,505.7C1258.3,505.3 1280.5,503.8 1292.9,504.5C1305.3,505.1 1305.3,508.2 1317.6,509.4C1330.0,510.6 1350.6,512.5 1367.1,511.9C1383.6,511.3 1404.2,506.9 1416.5,505.7C1428.9,504.5 1433.0,506.3 1441.3,504.5C1449.5,502.6 1457.7,496.8 1466.0,494.6C1474.2,492.3 1482.5,490.6 1490.7,490.9C1498.9,491.1 1505.1,493.1 1515.4,495.8C1525.7,498.5 1538.1,503.6 1552.5,506.9C1566.9,510.2 1586.7,513.7 1602.0,515.6C1617.2,517.4 1637.0,517.6 1644.0,518.1" stroke="#7E2F8E"/>
<path d="M1203.9,527.9C1208.4,528.6 1220.4,532.3 1231.1,531.7C1241.8,531.0 1253.8,527.5 1268.2,524.2C1282.6,520.9 1301.1,514.1 1317.6,511.9C1334.1,509.6 1350.6,511.0 1367.1,510.6C1383.6,510.2 1402.1,509.8 1416.5,509.4C1431.0,509.0 1441.3,507.8 1453.6,508.2C1466.0,508.6 1478.3,509.2 1490.7,511.9C1503.1,514.5 1515.4,521.1 1527.8,524.2C1540.2,527.3 1552.5,530.2 1564.9,530.4C1577.2,530.6 1588.8,527.3 1602.0,525.5C1615.2,523.6 1637.0,520.3 1644.0,519.3" stroke="#7E2F8E"/>
<path d="M1203.9,526.7C1210.5,527.3 1228.6,529.2 1243.5,530.4C1258.3,531.7 1276.4,532.9 1292.9,534.1C1309.4,535.4 1325.9,536.4 1342.4,537.8C1358.8,539.3 1375.3,541.7 1391.8,542.8C1408.3,543.8 1428.9,544.4 1441.3,544.0C1453.6,543.6 1453.6,541.3 1466.0,540.3C1478.3,539.3 1498.9,538.9 1515.4,537.8C1531.9,536.8 1550.5,535.4 1564.9,534.1C1579.3,532.9 1588.8,531.2 1602.0,530.4C1615.2,529.6 1637.0,529.4 1644.0,529.2" stroke="#D95319"/>
<path d="M1203.9,542.8C1206.4,544.2 1208.0,550.4 1218.7,551.4C1229.4,552.5 1251.7,550.2 1268.2,549.0C1284.7,547.7 1301.1,546.5 1317.6,544.0C1334.1,541.5 1352.7,537.4 1367.1,534.1C1381.5,530.8 1391.8,525.5 1404.2,524.2C1416.5,523.0 1428.9,525.9 1441.3,526.7C1453.6,527.5 1466.0,527.7 1478.3,529.2C1490.7,530.6 1501.0,532.5 1515.4,535.4C1529.9,538.2 1550.5,543.6 1564.9,546.5C1579.3,549.4 1591.7,552.3 1602.0,552.7C1612.3,553.1 1619.7,549.8 1626.7,549.0C1633.7,548.1 1641.1,547.9 1644.0,547.7" stroke="#D95319"/>
<path d="M1203.9,566.3C1208.4,564.2 1220.4,556.4 1231.1,553.9C1241.8,551.4 1253.8,551.4 1268.2,551.4C1282.6,551.4 1301.1,553.5 1317.6,553.9C1334.1,554.3 1350.6,553.5 1367.1,553.9C1383.6,554.3 1400.0,554.9 1416.5,556.4C1433.0,557.8 1449.5,560.9 1466.0,562.6C1482.5,564.2 1498.9,566.5 1515.4,566.3C1531.9,566.1 1548.4,563.0 1564.9,561.3C1581.4,559.7 1601.1,557.8 1614.3,556.4C1627.5,554.9 1639.1,553.3 1644.0,552.7" stroke="#77AC30"/>
<path d="M1203.9,565.0C1210.5,565.2 1230.7,567.3 1243.5,566.3C1256.2,565.2 1268.2,560.5 1280.5,558.8C1292.9,557.2 1305.3,556.4 1317.6,556.4C1330.0,556.4 1342.4,559.5 1354.7,558.8C1367.1,558.2 1379.4,553.9 1391.8,552.7C1404.2,551.4 1416.5,550.4 1428.9,551.4C1441.3,552.5 1453.6,555.1 1466.0,558.8C1478.3,562.6 1490.7,569.6 1503.1,573.7C1515.4,577.8 1525.7,580.7 1540.2,583.6C1554.6,586.5 1572.3,591.0 1589.6,591.0C1606.9,591.0 1634.9,584.8 1644.0,583.6" stroke="#EDB120"/>
<path d="M1203.9,573.7C1210.5,572.4 1228.6,569.6 1243.5,566.3C1258.3,563.0 1276.4,555.3 1292.9,553.9C1309.4,552.5 1327.9,556.0 1342.4,557.6C1356.8,559.3 1367.1,562.1 1379.4,563.8C1391.8,565.4 1402.1,565.4 1416.5,567.5C1431.0,569.6 1449.5,574.7 1466.0,576.2C1482.5,577.6 1498.9,575.7 1515.4,576.2C1531.9,576.6 1548.4,578.0 1564.9,578.6C1581.4,579.2 1601.1,579.9 1614.3,579.9C1627.5,579.9 1639.1,578.8 1644.0,578.6" stroke="#EDB120"/>
<path d="M1203.9,574.9C1210.5,574.3 1231.5,571.4 1243.5,571.2C1255.4,571.0 1265.3,575.5 1275.6,573.7C1285.9,571.8 1292.1,562.6 1305.3,560.1C1318.5,557.6 1340.3,558.8 1354.7,558.8C1369.1,558.8 1377.4,559.3 1391.8,560.1C1406.2,560.9 1426.8,561.7 1441.3,563.8C1455.7,565.9 1466.0,569.2 1478.3,572.4C1490.7,575.7 1501.0,580.9 1515.4,583.6C1529.9,586.3 1548.4,586.9 1564.9,588.5C1581.4,590.2 1601.1,593.9 1614.3,593.5C1627.5,593.1 1639.1,587.3 1644.0,586.0" stroke="#EDB120"/>
<path d="M1203.9,594.7C1210.5,593.3 1228.6,588.3 1243.5,586.0C1258.3,583.8 1276.4,580.7 1292.9,581.1C1309.4,581.5 1325.9,586.3 1342.4,588.5C1358.8,590.8 1375.3,592.8 1391.8,594.7C1408.3,596.6 1424.8,598.6 1441.3,599.6C1457.7,600.7 1474.2,601.5 1490.7,600.9C1507.2,600.3 1523.7,597.0 1540.2,595.9C1556.6,594.9 1572.3,595.1 1589.6,594.7C1606.9,594.3 1634.9,593.7 1644.0,593.5" stroke="#EDB120"/>
<path d="M1203.9,629.3C1210.5,632.4 1224.5,641.3 1243.5,647.9C1262.4,654.5 1297.0,667.6 1317.6,668.9C1338.2,670.1 1352.7,659.4 1367.1,655.3C1381.5,651.2 1393.9,646.6 1404.2,644.2C1414.5,641.7 1416.5,645.2 1428.9,640.4C1441.3,635.7 1463.9,620.3 1478.3,615.7C1492.8,611.2 1498.9,614.7 1515.4,613.2C1531.9,611.8 1555.8,605.4 1577.2,607.1C1598.7,608.7 1632.9,620.5 1644.0,623.1" stroke="#77AC30"/>
<path d="M1203.9,624.4C1210.5,625.0 1226.6,626.8 1243.5,628.1C1260.3,629.3 1286.7,630.6 1305.3,631.8C1323.8,633.0 1338.2,633.6 1354.7,635.5C1371.2,637.4 1385.6,640.0 1404.2,642.9C1422.7,645.8 1451.6,652.0 1466.0,652.8C1480.4,653.6 1480.4,653.2 1490.7,647.9C1501.0,642.5 1515.4,626.4 1527.8,620.7C1540.2,614.9 1552.5,614.5 1564.9,613.2C1577.2,612.0 1588.8,613.0 1602.0,613.2C1615.2,613.5 1637.0,614.3 1644.0,614.5" stroke="#0072BD"/>
<path d="M1640.0,289.3C1648.2,288.7 1673.0,286.9 1689.5,285.6C1705.9,284.4 1724.5,283.0 1738.9,281.9C1753.3,280.9 1763.6,278.8 1776.0,279.5C1788.4,280.1 1800.7,283.6 1813.1,285.6C1825.4,287.7 1837.8,290.6 1850.2,291.8C1862.5,293.1 1872.8,293.9 1887.3,293.1C1901.7,292.2 1920.2,287.9 1936.7,286.9C1953.2,285.8 1969.7,286.5 1986.2,286.9C2002.6,287.3 2019.1,288.7 2035.6,289.3C2052.1,290.0 2076.8,290.4 2085.1,290.6" stroke="#77AC30"/>
<path d="M1640.0,291.8C1648.2,291.0 1677.1,288.9 1689.5,286.9C1701.8,284.8 1705.9,282.7 1714.2,279.5C1722.4,276.2 1730.7,268.7 1738.9,267.1C1747.1,265.4 1753.3,267.9 1763.6,269.6C1773.9,271.2 1788.4,273.5 1800.7,277.0C1813.1,280.5 1823.4,287.3 1837.8,290.6C1852.2,293.9 1870.8,294.5 1887.3,296.8C1903.7,299.0 1920.2,301.1 1936.7,304.2C1953.2,307.3 1971.7,314.1 1986.2,315.3C2000.6,316.5 2010.9,313.4 2023.2,311.6C2035.6,309.7 2050.0,305.8 2060.3,304.2C2070.6,302.5 2080.9,302.1 2085.1,301.7" stroke="#4DBEEE"/>
<path d="M1640.0,295.5C1646.2,295.7 1666.8,295.5 1677.1,296.8C1687.4,298.0 1691.5,301.3 1701.8,302.9C1712.1,304.6 1724.5,305.6 1738.9,306.6C1753.3,307.7 1771.9,307.9 1788.4,309.1C1804.8,310.4 1823.4,313.7 1837.8,314.1C1852.2,314.5 1864.6,313.2 1874.9,311.6C1885.2,309.9 1889.3,307.5 1899.6,304.2C1909.9,300.9 1924.3,295.3 1936.7,291.8C1949.1,288.3 1961.4,284.4 1973.8,283.2C1986.2,281.9 1998.5,283.0 2010.9,284.4C2023.2,285.8 2035.6,289.8 2048.0,291.8C2060.3,293.9 2078.9,295.9 2085.1,296.8" stroke="#0072BD"/>
<path d="M1640.0,300.5C1648.2,301.5 1673.0,306.0 1689.5,306.6C1705.9,307.3 1724.5,302.9 1738.9,304.2C1753.3,305.4 1763.6,311.8 1776.0,314.1C1788.4,316.3 1800.7,316.1 1813.1,317.8C1825.4,319.4 1837.8,322.9 1850.2,324.0C1862.5,325.0 1874.9,324.2 1887.3,324.0C1899.6,323.8 1914.0,324.4 1924.3,322.7C1934.6,321.1 1938.8,317.2 1949.1,314.1C1959.4,311.0 1973.8,306.6 1986.2,304.2C1998.5,301.7 2010.9,299.6 2023.2,299.2C2035.6,298.8 2050.0,299.2 2060.3,301.7C2070.6,304.2 2080.9,312.0 2085.1,314.1" stroke="#D95319"/>
<path d="M1640.0,322.7C1648.2,321.9 1675.0,317.8 1689.5,317.8C1703.9,317.8 1716.2,322.5 1726.5,322.7C1736.8,322.9 1741.0,320.5 1751.3,319.0C1761.6,317.6 1776.0,315.7 1788.4,314.1C1800.7,312.4 1813.1,310.6 1825.4,309.1C1837.8,307.7 1850.2,306.9 1862.5,305.4C1874.9,304.0 1887.3,301.3 1899.6,300.5C1912.0,299.6 1922.3,299.8 1936.7,300.5C1951.1,301.1 1971.7,303.4 1986.2,304.2C2000.6,305.0 2010.9,305.4 2023.2,305.4C2035.6,305.4 2050.0,304.0 2060.3,304.2C2070.6,304.4 2080.9,306.2 2085.1,306.6" stroke="#EDB120"/>
<path d="M1640.0,328.9C1648.2,328.7 1673.0,328.9 1689.5,327.7C1705.9,326.4 1722.4,323.5 1738.9,321.5C1755.4,319.4 1771.9,315.3 1788.4,315.3C1804.8,315.3 1821.3,320.0 1837.8,321.5C1854.3,322.9 1872.8,323.5 1887.3,324.0C1901.7,324.4 1912.0,324.4 1924.3,324.0C1936.7,323.5 1949.1,323.1 1961.4,321.5C1973.8,319.8 1986.2,316.5 1998.5,314.1C2010.9,311.6 2021.2,307.5 2035.6,306.6C2050.0,305.8 2076.8,308.7 2085.1,309.1" stroke="#D95319"/>
<path d="M1640.0,327.7C1646.2,328.1 1665.5,328.9 1677.1,330.1C1688.6,331.4 1698.9,334.9 1709.2,335.1C1719.5,335.3 1727.8,333.4 1738.9,331.4C1750.0,329.3 1763.6,324.8 1776.0,322.7C1788.4,320.7 1798.7,321.3 1813.1,319.0C1827.5,316.7 1848.1,309.7 1862.5,309.1C1877.0,308.5 1887.3,312.6 1899.6,315.3C1912.0,318.0 1922.3,323.8 1936.7,325.2C1951.1,326.6 1969.7,325.0 1986.2,324.0C2002.6,322.9 2019.1,320.2 2035.6,319.0C2052.1,317.8 2076.8,317.0 2085.1,316.5" stroke="#7E2F8E"/>
<path d="M1640.0,317.8C1648.2,318.0 1673.0,317.6 1689.5,319.0C1705.9,320.5 1722.4,324.4 1738.9,326.4C1755.4,328.5 1771.9,329.7 1788.4,331.4C1804.8,333.0 1821.3,335.1 1837.8,336.3C1854.3,337.6 1870.8,337.8 1887.3,338.8C1903.7,339.8 1920.2,341.9 1936.7,342.5C1953.2,343.1 1971.7,343.5 1986.2,342.5C2000.6,341.5 2006.8,337.4 2023.2,336.3C2039.7,335.3 2074.8,336.3 2085.1,336.3" stroke="#4DBEEE"/>
<path d="M1640.0,343.7C1648.2,343.5 1673.0,343.3 1689.5,342.5C1705.9,341.7 1724.5,339.4 1738.9,338.8C1753.3,338.2 1763.6,338.0 1776.0,338.8C1788.4,339.6 1800.7,341.3 1813.1,343.7C1825.4,346.2 1837.8,350.1 1850.2,353.6C1862.5,357.1 1876.1,361.3 1887.3,364.8C1898.4,368.3 1906.6,374.9 1916.9,374.6C1927.2,374.4 1937.5,366.2 1949.1,363.5C1960.6,360.8 1971.7,358.6 1986.2,358.6C2000.6,358.6 2019.1,362.1 2035.6,363.5C2052.1,365.0 2076.8,366.6 2085.1,367.2" stroke="#4DBEEE"/>
<path d="M1640.0,348.7C1644.1,350.5 1652.4,357.7 1664.7,359.8C1677.1,361.9 1703.9,360.4 1714.2,361.0C1724.5,361.7 1718.3,364.3 1726.5,363.5C1734.8,362.7 1751.3,357.5 1763.6,356.1C1776.0,354.7 1790.4,354.9 1800.7,354.9C1811.0,354.9 1815.1,357.5 1825.4,356.1C1835.7,354.7 1848.1,346.8 1862.5,346.2C1877.0,345.6 1895.5,349.3 1912.0,352.4C1928.5,355.5 1944.9,362.9 1961.4,364.8C1977.9,366.6 1990.3,364.8 2010.9,363.5C2031.5,362.3 2072.7,358.4 2085.1,357.3" stroke="#A2142F"/>
<path d="M1640.0,393.2C1648.2,392.4 1675.0,388.2 1689.5,388.2C1703.9,388.2 1714.2,393.0 1726.5,393.2C1738.9,393.4 1749.2,389.7 1763.6,389.5C1778.1,389.3 1798.7,392.6 1813.1,392.0C1827.5,391.3 1837.8,386.4 1850.2,385.8C1862.5,385.2 1874.9,386.0 1887.3,388.2C1899.6,390.5 1912.0,397.7 1924.3,399.4C1936.7,401.0 1947.0,400.0 1961.4,398.1C1975.9,396.3 1996.5,390.5 2010.9,388.2C2025.3,386.0 2035.6,384.5 2048.0,384.5C2060.3,384.5 2078.9,387.6 2085.1,388.2" stroke="#0072BD"/>
<path d="M1640.0,413.0C1646.2,412.4 1662.7,410.7 1677.1,409.3C1691.5,407.8 1712.1,404.5 1726.5,404.3C1741.0,404.1 1749.2,405.8 1763.6,408.0C1778.1,410.3 1798.7,414.8 1813.1,417.9C1827.5,421.0 1837.8,423.9 1850.2,426.6C1862.5,429.2 1877.0,435.4 1887.3,434.0C1897.6,432.5 1903.7,422.4 1912.0,417.9C1920.2,413.4 1924.3,409.9 1936.7,406.8C1949.1,403.7 1969.7,401.2 1986.2,399.4C2002.6,397.5 2019.1,399.4 2035.6,395.7C2052.1,392.0 2076.8,380.2 2085.1,377.1" stroke="#D95319"/>
<path d="M1640.0,420.4C1648.2,420.8 1673.0,422.4 1689.5,422.9C1705.9,423.3 1722.4,423.5 1738.9,422.9C1755.4,422.2 1771.9,418.7 1788.4,419.2C1804.8,419.6 1821.3,423.5 1837.8,425.3C1854.3,427.2 1872.8,429.9 1887.3,430.3C1901.7,430.7 1916.1,428.8 1924.3,427.8C1932.6,426.8 1926.4,424.3 1936.7,424.1C1947.0,423.9 1969.7,426.4 1986.2,426.6C2002.6,426.8 2019.1,425.3 2035.6,425.3C2052.1,425.3 2076.8,426.4 2085.1,426.6" stroke="#77AC30"/>
<path d="M1640.0,427.8C1648.2,428.6 1673.0,430.9 1689.5,432.7C1705.9,434.6 1724.5,435.8 1738.9,438.9C1753.3,442.0 1763.6,447.6 1776.0,451.3C1788.4,455.0 1800.7,458.5 1813.1,461.2C1825.4,463.9 1837.8,466.7 1850.2,467.4C1862.5,468.0 1874.9,466.7 1887.3,464.9C1899.6,463.0 1914.0,459.1 1924.3,456.2C1934.6,453.4 1938.8,451.9 1949.1,447.6C1959.4,443.3 1971.7,434.4 1986.2,430.3C2000.6,426.2 2019.1,423.1 2035.6,422.9C2052.1,422.7 2076.8,428.0 2085.1,429.0" stroke="#4DBEEE"/>
<path d="M1640.0,450.1C1646.2,452.1 1662.7,459.7 1677.1,462.4C1691.5,465.1 1710.1,465.9 1726.5,466.1C1743.0,466.3 1761.6,465.9 1776.0,463.7C1790.4,461.4 1802.8,456.0 1813.1,452.5C1823.4,449.0 1825.4,445.5 1837.8,442.6C1850.2,439.8 1874.9,437.1 1887.3,435.2C1899.6,433.4 1899.6,431.5 1912.0,431.5C1924.3,431.5 1944.9,435.4 1961.4,435.2C1977.9,435.0 1996.5,431.1 2010.9,430.3C2025.3,429.5 2035.6,429.7 2048.0,430.3C2060.3,430.9 2078.9,433.4 2085.1,434.0" stroke="#7E2F8E"/>
<path d="M1640.0,474.8C1646.2,474.2 1662.7,472.1 1677.1,471.1C1691.5,470.0 1712.1,469.4 1726.5,468.6C1741.0,467.8 1751.3,467.4 1763.6,466.1C1776.0,464.9 1790.4,463.9 1800.7,461.2C1811.0,458.5 1817.2,452.7 1825.4,450.1C1833.7,447.4 1839.9,445.9 1850.2,445.1C1860.5,444.3 1874.9,444.3 1887.3,445.1C1899.6,445.9 1912.0,448.8 1924.3,450.1C1936.7,451.3 1949.1,451.1 1961.4,452.5C1973.8,454.0 1986.2,455.8 1998.5,458.7C2010.9,461.6 2021.2,465.7 2035.6,469.8C2050.0,474.0 2076.8,481.2 2085.1,483.4" stroke="#7E2F8E"/>
<path d="M1640.0,448.8C1644.1,448.6 1652.4,446.1 1664.7,447.6C1677.1,449.0 1697.7,456.0 1714.2,457.5C1730.7,458.9 1747.1,456.9 1763.6,456.2C1780.1,455.6 1796.6,454.8 1813.1,453.8C1829.6,452.7 1846.0,450.1 1862.5,450.1C1879.0,450.1 1895.5,452.3 1912.0,453.8C1928.5,455.2 1944.9,458.7 1961.4,458.7C1977.9,458.7 1996.5,454.4 2010.9,453.8C2025.3,453.1 2035.6,454.4 2048.0,455.0C2060.3,455.6 2078.9,457.1 2085.1,457.5" stroke="#A2142F"/>
<path d="M1640.0,463.7C1648.2,464.1 1673.0,465.9 1689.5,466.1C1705.9,466.3 1722.4,465.7 1738.9,464.9C1755.4,464.1 1771.9,461.8 1788.4,461.2C1804.8,460.6 1821.3,461.4 1837.8,461.2C1854.3,461.0 1870.8,459.9 1887.3,459.9C1903.7,459.9 1920.2,460.2 1936.7,461.2C1953.2,462.2 1971.7,465.3 1986.2,466.1C2000.6,467.0 2006.8,466.7 2023.2,466.1C2039.7,465.5 2074.8,463.0 2085.1,462.4" stroke="#A2142F"/>
<path d="M1640.0,457.5C1648.2,458.1 1673.0,460.8 1689.5,461.2C1705.9,461.6 1722.4,459.5 1738.9,459.9C1755.4,460.4 1771.9,461.4 1788.4,463.7C1804.8,465.9 1821.3,472.5 1837.8,473.5C1854.3,474.6 1870.8,469.8 1887.3,469.8C1903.7,469.8 1920.2,473.1 1936.7,473.5C1953.2,474.0 1969.7,472.5 1986.2,472.3C2002.6,472.1 2019.1,472.1 2035.6,472.3C2052.1,472.5 2076.8,473.3 2085.1,473.5" stroke="#0072BD"/>
<path d="M1640.0,456.2C1648.2,456.4 1673.0,456.9 1689.5,457.5C1705.9,458.1 1722.4,459.7 1738.9,459.9C1755.4,460.2 1773.9,459.7 1788.4,458.7C1802.8,457.7 1813.1,455.6 1825.4,453.8C1837.8,451.9 1848.1,450.3 1862.5,447.6C1877.0,444.9 1895.5,438.9 1912.0,437.7C1928.5,436.5 1944.9,439.8 1961.4,440.2C1977.9,440.6 1996.5,440.6 2010.9,440.2C2025.3,439.8 2035.6,438.5 2048.0,437.7C2060.3,436.9 2078.9,435.6 2085.1,435.2" stroke="#0072BD"/>
<path d="M1640.0,487.1C1644.1,486.1 1655.2,482.8 1664.7,481.0C1674.2,479.1 1687.4,480.1 1696.9,476.0C1706.3,471.9 1712.5,460.6 1721.6,456.2C1730.7,451.9 1740.1,451.3 1751.3,450.1C1762.4,448.8 1773.9,448.8 1788.4,448.8C1802.8,448.8 1821.3,449.4 1837.8,450.1C1854.3,450.7 1872.8,451.7 1887.3,452.5C1901.7,453.4 1912.0,453.8 1924.3,455.0C1936.7,456.2 1951.1,457.1 1961.4,459.9C1971.7,462.8 1977.9,469.0 1986.2,472.3C1994.4,475.6 2000.6,478.7 2010.9,479.7C2021.2,480.8 2035.6,479.3 2048.0,478.5C2060.3,477.7 2078.9,475.4 2085.1,474.8" stroke="#EDB120"/>
<path d="M1640.0,518.1C1648.2,517.4 1673.0,515.2 1689.5,514.3C1705.9,513.5 1722.4,513.9 1738.9,513.1C1755.4,512.3 1771.9,511.3 1788.4,509.4C1804.8,507.5 1823.4,503.6 1837.8,502.0C1852.2,500.3 1862.5,501.2 1874.9,499.5C1887.3,497.9 1899.6,493.5 1912.0,492.1C1924.3,490.6 1936.7,490.4 1949.1,490.9C1961.4,491.3 1973.8,492.7 1986.2,494.6C1998.5,496.4 2006.8,498.9 2023.2,502.0C2039.7,505.1 2074.8,511.3 2085.1,513.1" stroke="#7E2F8E"/>
<path d="M1640.0,520.5C1648.2,519.9 1673.0,517.6 1689.5,516.8C1705.9,516.0 1722.4,515.6 1738.9,515.6C1755.4,515.6 1771.9,516.0 1788.4,516.8C1804.8,517.6 1821.3,519.3 1837.8,520.5C1854.3,521.8 1870.8,523.2 1887.3,524.2C1903.7,525.3 1920.2,526.3 1936.7,526.7C1953.2,527.1 1969.7,526.3 1986.2,526.7C2002.6,527.1 2019.1,528.4 2035.6,529.2C2052.1,530.0 2076.8,531.2 2085.1,531.7" stroke="#7E2F8E"/>
<path d="M1640.0,530.4C1648.2,530.8 1670.9,531.9 1689.5,532.9C1708.0,533.9 1734.8,535.2 1751.3,536.6C1767.7,538.0 1778.1,542.8 1788.4,541.5C1798.7,540.3 1800.7,531.2 1813.1,529.2C1825.4,527.1 1846.0,529.0 1862.5,529.2C1879.0,529.4 1897.6,529.8 1912.0,530.4C1926.4,531.0 1934.6,532.7 1949.1,532.9C1963.5,533.1 1984.1,532.9 1998.5,531.7C2012.9,530.4 2021.2,528.4 2035.6,525.5C2050.0,522.6 2076.8,516.2 2085.1,514.3" stroke="#D95319"/>
<path d="M1640.0,549.0C1648.2,549.4 1673.0,552.7 1689.5,551.4C1705.9,550.2 1724.5,543.8 1738.9,541.5C1753.3,539.3 1761.6,540.5 1776.0,537.8C1790.4,535.2 1811.0,527.3 1825.4,525.5C1839.9,523.6 1848.1,525.7 1862.5,526.7C1877.0,527.7 1895.5,530.6 1912.0,531.7C1928.5,532.7 1944.9,532.5 1961.4,532.9C1977.9,533.3 1998.5,532.7 2010.9,534.1C2023.2,535.6 2023.2,539.1 2035.6,541.5C2048.0,544.0 2076.8,547.7 2085.1,549.0" stroke="#D95319"/>
<path d="M1640.0,555.1C1648.2,553.3 1677.1,545.5 1689.5,544.0C1701.8,542.6 1705.9,544.4 1714.2,546.5C1722.4,548.5 1728.6,553.9 1738.9,556.4C1749.2,558.8 1761.6,559.7 1776.0,561.3C1790.4,563.0 1809.0,566.3 1825.4,566.3C1841.9,566.3 1860.5,563.0 1874.9,561.3C1889.3,559.7 1897.6,557.6 1912.0,556.4C1926.4,555.1 1947.0,555.1 1961.4,553.9C1975.9,552.7 1986.2,549.0 1998.5,549.0C2010.9,549.0 2021.2,552.7 2035.6,553.9C2050.0,555.1 2076.8,556.0 2085.1,556.4" stroke="#77AC30"/>
<path d="M1640.0,578.6C1648.2,578.2 1677.1,578.2 1689.5,576.2C1701.8,574.1 1703.9,568.5 1714.2,566.3C1724.5,564.0 1736.8,563.6 1751.3,562.6C1765.7,561.5 1784.2,560.7 1800.7,560.1C1817.2,559.5 1835.7,558.4 1850.2,558.8C1864.6,559.3 1872.8,560.1 1887.3,562.6C1901.7,565.0 1920.2,571.4 1936.7,573.7C1953.2,576.0 1969.7,576.0 1986.2,576.2C2002.6,576.4 2019.1,575.1 2035.6,574.9C2052.1,574.7 2076.8,574.9 2085.1,574.9" stroke="#EDB120"/>
<path d="M1640.0,588.5C1646.2,587.3 1664.7,584.0 1677.1,581.1C1689.5,578.2 1699.8,572.0 1714.2,571.2C1728.6,570.4 1747.1,576.4 1763.6,576.2C1780.1,576.0 1796.6,571.6 1813.1,570.0C1829.6,568.3 1846.0,566.1 1862.5,566.3C1879.0,566.5 1895.5,569.2 1912.0,571.2C1928.5,573.3 1944.9,574.9 1961.4,578.6C1977.9,582.3 1996.5,590.2 2010.9,593.5C2025.3,596.8 2035.6,598.6 2048.0,598.4C2060.3,598.2 2078.9,593.3 2085.1,592.2" stroke="#EDB120"/>
<path d="M1640.0,586.0C1646.2,584.8 1662.7,579.5 1677.1,578.6C1691.5,577.8 1714.2,579.9 1726.5,581.1C1738.9,582.3 1741.0,585.2 1751.3,586.0C1761.6,586.9 1773.9,585.6 1788.4,586.0C1802.8,586.5 1821.3,587.7 1837.8,588.5C1854.3,589.3 1870.8,590.6 1887.3,591.0C1903.7,591.4 1920.2,591.0 1936.7,591.0C1953.2,591.0 1969.7,590.6 1986.2,591.0C2002.6,591.4 2019.1,593.9 2035.6,593.5C2052.1,593.1 2076.8,589.3 2085.1,588.5" stroke="#EDB120"/>
<path d="M1640.0,593.5C1646.2,592.6 1664.7,591.0 1677.1,588.5C1689.5,586.0 1699.8,580.1 1714.2,578.6C1728.6,577.2 1747.1,580.9 1763.6,579.9C1780.1,578.8 1796.6,574.1 1813.1,572.4C1829.6,570.8 1846.0,569.8 1862.5,570.0C1879.0,570.2 1895.5,571.8 1912.0,573.7C1928.5,575.5 1947.0,577.8 1961.4,581.1C1975.9,584.4 1984.1,590.2 1998.5,593.5C2012.9,596.8 2033.5,600.5 2048.0,600.9C2062.4,601.3 2078.9,596.8 2085.1,595.9" stroke="#EDB120"/>
<path d="M1640.0,618.2C1648.2,621.1 1677.1,630.6 1689.5,635.5C1701.8,640.4 1703.9,646.0 1714.2,647.9C1724.5,649.7 1738.9,646.6 1751.3,646.6C1763.6,646.6 1776.0,649.7 1788.4,647.9C1800.7,646.0 1811.0,640.0 1825.4,635.5C1839.9,631.0 1860.5,624.8 1874.9,620.7C1889.3,616.5 1899.6,614.1 1912.0,610.8C1924.3,607.5 1936.7,602.1 1949.1,600.9C1961.4,599.6 1973.8,600.9 1986.2,603.4C1998.5,605.8 2010.9,612.0 2023.2,615.7C2035.6,619.4 2050.0,622.3 2060.3,625.6C2070.6,628.9 2080.9,633.9 2085.1,635.5" stroke="#77AC30"/>
<path d="M1640.0,613.2C1648.2,614.1 1673.0,616.5 1689.5,618.2C1705.9,619.8 1724.5,620.7 1738.9,623.1C1753.3,625.6 1763.6,629.3 1776.0,633.0C1788.4,636.7 1800.7,642.9 1813.1,645.4C1825.4,647.9 1837.8,647.9 1850.2,647.9C1862.5,647.9 1874.9,647.4 1887.3,645.4C1899.6,643.3 1912.0,638.4 1924.3,635.5C1936.7,632.6 1947.0,630.1 1961.4,628.1C1975.9,626.0 1996.5,624.8 2010.9,623.1C2025.3,621.5 2035.6,620.0 2048.0,618.2C2060.3,616.3 2078.9,613.0 2085.1,612.0" stroke="#0072BD"/>
</g>
<text x="1242.4" y="171" fill="#ff0000" stroke="#ff0000" stroke-width="0.9">STD 0.02</text>
<text x="1744.2" y="146.2" fill="#000" stroke="#000" stroke-width="0.9">(1,-1,0)</text>
<line x1="1380.4" y1="829.5" x2="1380.4" y2="818.0" stroke="#262626" stroke-width="4.8"/>
<line x1="1380.4" y1="69.5" x2="1380.4" y2="81.0" stroke="#262626" stroke-width="4.8"/>
<line x1="1566.1" y1="829.5" x2="1566.1" y2="818.0" stroke="#262626" stroke-width="4.8"/>
<line x1="1566.1" y1="69.5" x2="1566.1" y2="81.0" stroke="#262626" stroke-width="4.8"/>
<line x1="1751.8" y1="829.5" x2="1751.8" y2="818.0" stroke="#262626" stroke-width="4.8"/>
<line x1="1751.8" y1="69.5" x2="1751.8" y2="81.0" stroke="#262626" stroke-width="4.8"/>
<line x1="1937.5" y1="829.5" x2="1937.5" y2="818.0" stroke="#262626" stroke-width="4.8"/>
<line x1="1937.5" y1="69.5" x2="1937.5" y2="81.0" stroke="#262626" stroke-width="4.8"/>
<line x1="1194.5" y1="69.5" x2="1206.0" y2="69.5" stroke="#262626" stroke-width="4.8"/>
<line x1="2086.0" y1="69.5" x2="2074.5" y2="69.5" stroke="#262626" stroke-width="4.8"/>
<line x1="1194.5" y1="259.5" x2="1206.0" y2="259.5" stroke="#262626" stroke-width="4.8"/>
<line x1="2086.0" y1="259.5" x2="2074.5" y2="259.5" stroke="#262626" stroke-width="4.8"/>
<line x1="1194.5" y1="449.5" x2="1206.0" y2="449.5" stroke="#262626" stroke-width="4.8"/>
<line x1="2086.0" y1="449.5" x2="2074.5" y2="449.5" stroke="#262626" stroke-width="4.8"/>
<line x1="1194.5" y1="639.5" x2="1206.0" y2="639.5" stroke="#262626" stroke-width="4.8"/>
<line x1="2086.0" y1="639.5" x2="2074.5" y2="639.5" stroke="#262626" stroke-width="4.8"/>
<line x1="1194.5" y1="829.5" x2="1206.0" y2="829.5" stroke="#262626" stroke-width="4.8"/>
<line x1="2086.0" y1="829.5" x2="2074.5" y2="829.5" stroke="#262626" stroke-width="4.8"/>
<rect x="1194.5" y="69.5" width="891.5" height="760.0" fill="none" stroke="#262626" stroke-width="5" stroke-linejoin="miter"/>
<clipPath id="clipBL"><rect x="297.5" y="866.5" width="885.0" height="760.0"/></clipPath>
<line x1="481.5" y1="866.5" x2="481.5" y2="1626.5" stroke="#dfdfdf" stroke-width="4.8"/>
<line x1="665.9" y1="866.5" x2="665.9" y2="1626.5" stroke="#dfdfdf" stroke-width="4.8"/>
<line x1="850.2" y1="866.5" x2="850.2" y2="1626.5" stroke="#dfdfdf" stroke-width="4.8"/>
<line x1="1034.5" y1="866.5" x2="1034.5" y2="1626.5" stroke="#dfdfdf" stroke-width="4.8"/>
<line x1="297.5" y1="1056.5" x2="1182.5" y2="1056.5" stroke="#dfdfdf" stroke-width="4.8"/>
<line x1="297.5" y1="1246.5" x2="1182.5" y2="1246.5" stroke="#dfdfdf" stroke-width="4.8"/>
<line x1="297.5" y1="1436.5" x2="1182.5" y2="1436.5" stroke="#dfdfdf" stroke-width="4.8"/>
<g clip-path="url(#clipBL)" fill="none" stroke-width="4.8" stroke-linejoin="round" stroke-linecap="round">
<path d="M305.8,1093.6C308.4,1089.2 315.4,1076.7 321.3,1067.1C327.2,1057.5 333.0,1046.1 341.1,1036.2C349.2,1026.3 363.2,1011.7 369.8,1007.5C376.5,1003.3 376.8,1006.4 380.9,1010.8C384.9,1015.2 389.0,1026.8 394.1,1034.0C399.3,1041.2 405.9,1047.6 411.8,1053.9C417.7,1060.1 422.8,1067.8 429.4,1071.5C436.0,1075.2 444.9,1074.5 451.5,1075.9C458.1,1077.4 464.7,1078.5 469.1,1080.4C473.6,1082.2 473.6,1085.5 478.0,1087.0C482.4,1088.4 489.0,1087.7 495.6,1089.2C502.3,1090.7 510.3,1093.2 517.7,1095.8C525.1,1098.4 533.2,1102.4 539.8,1104.6C546.4,1106.8 551.9,1105.7 557.4,1109.0C562.9,1112.4 567.4,1123.0 572.9,1124.5C578.4,1126.0 587.6,1119.0 590.5,1117.9" stroke="#7E2F8E"/>
<path d="M601.6,1111.2C606.0,1106.8 620.0,1091.4 628.1,1084.8C636.1,1078.1 642.8,1073.9 650.1,1071.5C657.5,1069.1 664.8,1073.4 672.2,1070.4C679.5,1067.5 686.9,1058.1 694.3,1053.9C701.6,1049.6 710.8,1046.3 716.3,1045.0C721.9,1043.8 722.3,1045.0 727.4,1046.1C732.5,1047.2 743.7,1050.7 747.0,1051.7" stroke="#7E2F8E"/>
<path d="M305.8,1139.9C309.9,1141.0 320.5,1144.4 330.1,1146.6C339.7,1148.8 352.2,1151.9 363.2,1153.2C374.2,1154.5 387.1,1155.8 396.3,1154.3C405.5,1152.8 411.0,1149.7 418.4,1144.4C425.7,1139.0 433.1,1129.3 440.5,1122.3C447.8,1115.3 455.2,1107.9 462.5,1102.4C469.9,1096.9 477.2,1091.8 484.6,1089.2C492.0,1086.6 499.3,1086.2 506.7,1087.0C514.0,1087.7 521.4,1090.3 528.7,1093.6C536.1,1096.9 543.5,1101.7 550.8,1106.8C558.2,1112.0 569.2,1121.5 572.9,1124.5" stroke="#7E2F8E"/>
<path d="M305.8,1192.9C308.0,1188.9 315.0,1174.9 319.1,1168.6C323.1,1162.4 324.6,1158.3 330.1,1155.4C335.6,1152.4 344.8,1150.6 352.2,1151.0C359.5,1151.3 368.0,1154.7 374.2,1157.6C380.5,1160.5 384.2,1162.4 389.7,1168.6C395.2,1174.9 400.7,1186.3 407.4,1195.1C414.0,1203.9 422.1,1215.0 429.4,1221.6C436.8,1228.2 444.1,1230.4 451.5,1234.8C458.8,1239.3 469.9,1245.9 473.6,1248.1" stroke="#7E2F8E"/>
<path d="M561.8,1146.6C565.5,1149.5 577.3,1160.5 583.9,1164.2C590.5,1167.9 596.1,1170.1 601.6,1168.6C607.1,1167.2 610.8,1160.5 617.0,1155.4C623.3,1150.2 631.7,1142.9 639.1,1137.7C646.4,1132.6 653.8,1128.2 661.2,1124.5C668.5,1120.8 675.9,1118.6 683.2,1115.7C690.6,1112.7 697.9,1109.4 705.3,1106.8C712.7,1104.3 720.4,1101.7 727.4,1100.2C734.3,1098.7 743.7,1098.4 747.0,1098.0" stroke="#7E2F8E"/>
<path d="M583.9,1248.1C587.6,1244.0 600.5,1230.1 606.0,1223.8C611.5,1217.6 611.5,1214.2 617.0,1210.6C622.5,1206.9 631.7,1203.9 639.1,1201.7C646.4,1199.5 653.8,1197.7 661.2,1197.3C668.5,1197.0 675.9,1197.0 683.2,1199.5C690.6,1202.1 697.9,1208.4 705.3,1212.8C712.7,1217.2 720.4,1223.1 727.4,1226.0C734.3,1229.0 743.7,1229.7 747.0,1230.4" stroke="#7E2F8E"/>
<path d="M305.8,1111.2C309.9,1107.6 322.4,1096.2 330.1,1089.2C337.8,1082.2 343.7,1075.2 352.2,1069.3C360.6,1063.4 371.7,1056.1 380.9,1053.9C390.1,1051.7 397.4,1056.4 407.4,1056.1C417.3,1055.7 431.3,1054.2 440.5,1051.7C449.7,1049.1 455.2,1045.8 462.5,1040.6C469.9,1035.5 477.2,1027.4 484.6,1020.8C492.0,1014.1 497.5,1007.2 506.7,1000.9C515.9,994.6 530.6,986.6 539.8,983.2C549.0,979.9 556.3,979.9 561.8,981.0C567.4,982.1 568.1,985.4 572.9,989.9C577.7,994.3 585.0,998.0 590.5,1007.5C596.1,1017.1 601.6,1035.1 606.0,1047.2C610.4,1059.4 613.3,1071.2 617.0,1080.4C620.7,1089.5 623.3,1095.8 628.1,1102.4C632.8,1109.0 638.4,1116.4 645.7,1120.1C653.1,1123.8 664.1,1123.0 672.2,1124.5C680.3,1126.0 686.9,1127.1 694.3,1128.9C701.6,1130.7 712.7,1134.4 716.3,1135.5" stroke="#0072BD"/>
<path d="M305.8,1120.1C309.9,1117.9 322.4,1111.2 330.1,1106.8C337.8,1102.4 343.0,1095.4 352.2,1093.6C361.4,1091.8 376.1,1095.4 385.3,1095.8C394.5,1096.2 401.5,1094.0 407.4,1095.8C413.2,1097.6 416.9,1102.1 420.6,1106.8C424.3,1111.6 426.1,1116.0 429.4,1124.5C432.7,1133.0 436.8,1148.0 440.5,1157.6C444.1,1167.2 447.4,1175.6 451.5,1181.9C455.5,1188.1 459.2,1195.5 464.7,1195.1C470.3,1194.7 477.6,1183.0 484.6,1179.7C491.6,1176.4 499.3,1176.4 506.7,1175.3C514.0,1174.1 521.4,1174.9 528.7,1173.0C536.1,1171.2 545.3,1167.9 550.8,1164.2C556.3,1160.5 560.0,1153.2 561.8,1151.0" stroke="#0072BD"/>
<path d="M305.8,1192.9C309.9,1192.9 320.5,1191.8 330.1,1192.9C339.7,1194.0 354.0,1201.4 363.2,1199.5C372.4,1197.7 377.9,1187.8 385.3,1181.9C392.6,1176.0 400.0,1169.4 407.4,1164.2C414.7,1159.1 422.1,1154.3 429.4,1151.0C436.8,1147.7 444.1,1146.6 451.5,1144.4C458.8,1142.1 466.2,1141.0 473.6,1137.7C480.9,1134.4 488.3,1128.2 495.6,1124.5C503.0,1120.8 510.3,1115.7 517.7,1115.7C525.1,1115.7 532.4,1120.8 539.8,1124.5C547.1,1128.2 554.5,1134.8 561.8,1137.7C569.2,1140.7 576.6,1142.1 583.9,1142.1C591.3,1142.1 598.6,1137.4 606.0,1137.7C613.3,1138.1 620.7,1141.8 628.1,1144.4C635.4,1146.9 642.8,1151.3 650.1,1153.2C657.5,1155.0 664.8,1153.9 672.2,1155.4C679.5,1156.9 686.9,1159.8 694.3,1162.0C701.6,1164.2 707.5,1167.5 716.3,1168.6C725.1,1169.7 741.9,1168.6 747.0,1168.6" stroke="#0072BD"/>
<path d="M305.8,1181.9C308.0,1182.2 315.0,1180.8 319.1,1184.1C323.1,1187.4 324.6,1197.3 330.1,1201.7C335.6,1206.2 344.8,1212.4 352.2,1210.6C359.5,1208.7 366.9,1197.7 374.2,1190.7C381.6,1183.7 389.0,1173.4 396.3,1168.6C403.7,1163.8 411.0,1164.2 418.4,1162.0C425.7,1159.8 433.1,1156.5 440.5,1155.4C447.8,1154.3 455.2,1156.1 462.5,1155.4C469.9,1154.7 477.2,1152.1 484.6,1151.0C492.0,1149.9 499.3,1148.0 506.7,1148.8C514.0,1149.5 521.4,1152.1 528.7,1155.4C536.1,1158.7 545.3,1165.3 550.8,1168.6C556.3,1171.9 556.3,1172.3 561.8,1175.3C567.4,1178.2 576.6,1181.9 583.9,1186.3C591.3,1190.7 598.6,1198.1 606.0,1201.7C613.3,1205.4 620.7,1208.0 628.1,1208.4C635.4,1208.7 642.8,1205.4 650.1,1203.9C657.5,1202.5 664.8,1202.5 672.2,1199.5C679.5,1196.6 686.9,1190.3 694.3,1186.3C701.6,1182.2 707.5,1177.5 716.3,1175.3C725.1,1173.0 741.9,1173.4 747.0,1173.0" stroke="#0072BD"/>
<path d="M305.8,1111.2C309.9,1106.8 322.4,1087.3 330.1,1084.8C337.8,1082.2 344.8,1091.4 352.2,1095.8C359.5,1100.2 366.9,1105.4 374.2,1111.2C381.6,1117.1 389.0,1126.7 396.3,1131.1C403.7,1135.5 411.0,1137.4 418.4,1137.7C425.7,1138.1 433.1,1135.2 440.5,1133.3C447.8,1131.5 455.2,1128.2 462.5,1126.7C469.9,1125.2 477.2,1124.5 484.6,1124.5C492.0,1124.5 499.3,1124.5 506.7,1126.7C514.0,1128.9 521.4,1135.5 528.7,1137.7C536.1,1139.9 543.5,1139.2 550.8,1139.9C558.2,1140.7 565.5,1142.9 572.9,1142.1C580.2,1141.4 587.6,1137.0 594.9,1135.5C602.3,1134.1 609.7,1133.7 617.0,1133.3C624.4,1133.0 631.7,1133.0 639.1,1133.3C646.4,1133.7 653.8,1135.2 661.2,1135.5C668.5,1135.9 674.0,1135.7 683.2,1135.5C692.4,1135.3 710.8,1134.6 716.3,1134.4" stroke="#0072BD"/>
<path d="M570.7,1142.1C574.7,1139.2 587.2,1127.1 594.9,1124.5C602.7,1121.9 607.8,1126.7 617.0,1126.7C626.2,1126.7 640.9,1125.2 650.1,1124.5C659.3,1123.8 664.8,1124.1 672.2,1122.3C679.5,1120.4 686.9,1116.8 694.3,1113.5C701.6,1110.1 707.5,1105.7 716.3,1102.4C725.1,1099.1 741.9,1095.1 747.0,1093.6" stroke="#0072BD"/>
<path d="M305.8,1084.8C309.9,1081.8 322.4,1071.5 330.1,1067.1C337.8,1062.7 343.7,1062.7 352.2,1058.3C360.6,1053.9 373.5,1040.6 380.9,1040.6C388.2,1040.6 391.9,1053.5 396.3,1058.3C400.7,1063.1 401.8,1065.3 407.4,1069.3C412.9,1073.4 422.1,1080.0 429.4,1082.6C436.8,1085.1 444.1,1083.7 451.5,1084.8C458.8,1085.9 466.2,1089.5 473.6,1089.2C480.9,1088.8 486.4,1085.5 495.6,1082.6C504.8,1079.6 519.5,1074.8 528.7,1071.5C537.9,1068.2 545.3,1065.6 550.8,1062.7C556.3,1059.8 557.1,1056.8 561.8,1053.9C566.6,1050.9 574.0,1046.1 579.5,1045.0C585.0,1043.9 589.8,1045.4 594.9,1047.2C600.1,1049.1 603.0,1054.6 610.4,1056.1C617.8,1057.5 630.6,1057.5 639.1,1056.1C647.5,1054.6 653.8,1050.9 661.2,1047.2C668.5,1043.6 675.9,1038.4 683.2,1034.0C690.6,1029.6 697.9,1022.6 705.3,1020.8C712.7,1018.9 720.4,1022.2 727.4,1023.0C734.3,1023.7 743.7,1024.8 747.0,1025.2" stroke="#EDB120"/>
<path d="M305.8,1106.8C309.9,1104.6 322.4,1094.3 330.1,1093.6C337.8,1092.9 344.8,1098.0 352.2,1102.4C359.5,1106.8 368.7,1114.2 374.2,1120.1C379.8,1126.0 381.6,1132.6 385.3,1137.7C389.0,1142.9 390.8,1146.9 396.3,1151.0C401.8,1155.0 411.0,1159.8 418.4,1162.0C425.7,1164.2 433.1,1163.8 440.5,1164.2C447.8,1164.6 455.2,1162.0 462.5,1164.2C469.9,1166.4 477.2,1174.5 484.6,1177.5C492.0,1180.4 499.3,1181.5 506.7,1181.9C514.0,1182.2 521.4,1181.1 528.7,1179.7C536.1,1178.2 543.5,1173.4 550.8,1173.0C558.2,1172.7 565.5,1174.9 572.9,1177.5C580.2,1180.0 587.6,1186.3 594.9,1188.5C602.3,1190.7 610.8,1191.4 617.0,1190.7C623.3,1190.0 628.4,1187.8 632.5,1184.1C636.5,1180.4 639.8,1174.1 641.3,1168.6C642.8,1163.1 639.8,1156.1 641.3,1151.0C642.8,1145.8 645.0,1140.7 650.1,1137.7C655.3,1134.8 664.8,1135.5 672.2,1133.3C679.5,1131.1 686.9,1127.8 694.3,1124.5C701.6,1121.2 707.5,1115.7 716.3,1113.5C725.1,1111.2 741.9,1111.6 747.0,1111.2" stroke="#EDB120"/>
<path d="M561.8,1151.0C565.5,1146.6 576.6,1134.1 583.9,1124.5C591.3,1114.9 600.5,1103.2 606.0,1093.6C611.5,1084.0 613.3,1073.4 617.0,1067.1C620.7,1060.9 622.5,1058.6 628.1,1056.1C633.6,1053.5 642.8,1053.9 650.1,1051.7C657.5,1049.5 663.0,1045.0 672.2,1042.8C681.4,1040.6 692.8,1038.8 705.3,1038.4C717.8,1038.0 740.1,1040.3 747.0,1040.6" stroke="#EDB120"/>
<path d="M429.4,1089.2C431.3,1091.4 436.8,1097.3 440.5,1102.4C444.1,1107.6 446.0,1114.6 451.5,1120.1C457.0,1125.6 466.2,1130.0 473.6,1135.5C480.9,1141.0 488.3,1148.4 495.6,1153.2C503.0,1158.0 510.3,1161.6 517.7,1164.2C525.1,1166.8 532.4,1170.5 539.8,1168.6C547.1,1166.8 558.2,1155.8 561.8,1153.2" stroke="#EDB120"/>
<path d="M305.8,1071.5C311.7,1072.3 329.7,1074.1 341.1,1075.9C352.5,1077.8 365.0,1085.5 374.2,1082.6C383.4,1079.6 390.8,1065.3 396.3,1058.3C401.8,1051.3 401.8,1043.2 407.4,1040.6C412.9,1038.0 422.1,1037.7 429.4,1042.8C436.8,1048.0 444.1,1065.6 451.5,1071.5C458.8,1077.4 466.2,1077.8 473.6,1078.1C480.9,1078.5 488.3,1075.2 495.6,1073.7C503.0,1072.3 510.3,1068.9 517.7,1069.3C525.1,1069.7 532.4,1071.2 539.8,1075.9C547.1,1080.7 554.5,1091.8 561.8,1098.0C569.2,1104.3 576.6,1109.8 583.9,1113.5C591.3,1117.1 598.6,1117.1 606.0,1120.1C613.3,1123.0 620.7,1126.7 628.1,1131.1C635.4,1135.5 642.8,1142.1 650.1,1146.6C657.5,1151.0 664.8,1154.7 672.2,1157.6C679.5,1160.5 686.9,1163.1 694.3,1164.2C701.6,1165.3 707.5,1161.3 716.3,1164.2C725.1,1167.2 741.9,1178.9 747.0,1181.9" stroke="#A2142F"/>
<path d="M305.8,1113.5C311.7,1114.6 331.6,1116.4 341.1,1120.1C350.7,1123.8 355.9,1131.1 363.2,1135.5C370.6,1139.9 377.9,1144.7 385.3,1146.6C392.6,1148.4 400.0,1148.4 407.4,1146.6C414.7,1144.7 422.1,1139.2 429.4,1135.5C436.8,1131.8 444.1,1128.2 451.5,1124.5C458.8,1120.8 466.2,1116.0 473.6,1113.5C480.9,1110.9 488.3,1109.8 495.6,1109.0C503.0,1108.3 510.3,1108.3 517.7,1109.0C525.1,1109.8 532.4,1113.1 539.8,1113.5C547.1,1113.8 552.6,1110.9 561.8,1111.2C571.0,1111.6 585.8,1113.5 594.9,1115.7C604.1,1117.9 609.7,1124.1 617.0,1124.5C624.4,1124.9 629.9,1120.4 639.1,1117.9C648.3,1115.3 661.2,1110.9 672.2,1109.0C683.2,1107.2 692.8,1107.6 705.3,1106.8C717.8,1106.1 740.1,1105.0 747.0,1104.6" stroke="#A2142F"/>
<path d="M305.8,1058.3C308.0,1062.7 315.0,1073.7 319.1,1084.8C323.1,1095.8 326.4,1112.4 330.1,1124.5C333.8,1136.6 336.7,1148.0 341.1,1157.6C345.6,1167.2 351.8,1176.4 356.6,1181.9C361.4,1187.4 365.0,1190.0 369.8,1190.7C374.6,1191.4 380.9,1190.0 385.3,1186.3C389.7,1182.6 392.6,1174.5 396.3,1168.6C400.0,1162.7 403.7,1157.6 407.4,1151.0C411.0,1144.4 414.7,1138.5 418.4,1128.9C422.1,1119.3 425.7,1104.3 429.4,1093.6C433.1,1082.9 436.8,1073.0 440.5,1064.9C444.1,1056.8 446.0,1050.9 451.5,1045.0C457.0,1039.2 466.2,1033.6 473.6,1029.6C480.9,1025.5 488.3,1023.7 495.6,1020.8C503.0,1017.8 510.3,1016.7 517.7,1011.9C525.1,1007.2 532.4,997.2 539.8,992.1C547.1,986.9 552.6,983.6 561.8,981.0C571.0,978.5 585.8,975.5 594.9,976.6C604.1,977.7 609.7,985.1 617.0,987.7C624.4,990.2 631.7,988.8 639.1,992.1C646.4,995.4 653.8,1000.9 661.2,1007.5C668.5,1014.1 675.9,1025.5 683.2,1031.8C690.6,1038.0 697.9,1041.0 705.3,1045.0C712.7,1049.1 720.4,1053.9 727.4,1056.1C734.3,1058.3 743.7,1057.9 747.0,1058.3" stroke="#D95319"/>
<path d="M305.8,1241.5C309.9,1241.8 322.4,1244.4 330.1,1243.7C337.8,1242.9 344.8,1236.7 352.2,1237.0C359.5,1237.4 368.7,1243.3 374.2,1245.9C379.8,1248.5 383.4,1251.4 385.3,1252.5" stroke="#D95319"/>
<path d="M528.7,1248.1C534.3,1247.3 550.8,1244.4 561.8,1243.7C572.9,1242.9 583.9,1244.4 594.9,1243.7C606.0,1242.9 618.9,1240.7 628.1,1239.3C637.2,1237.8 643.9,1236.1 650.1,1234.8C656.4,1233.6 663.0,1232.1 665.6,1231.5" stroke="#D95319"/>
<path d="M685.4,1229.3C690.6,1230.6 706.1,1234.3 716.3,1237.0C726.6,1239.8 741.9,1244.4 747.0,1245.9" stroke="#D95319"/>
<path d="M305.8,1058.3C308.0,1059.8 315.0,1062.7 319.1,1067.1C323.1,1071.5 324.6,1078.9 330.1,1084.8C335.6,1090.7 344.8,1099.5 352.2,1102.4C359.5,1105.4 368.0,1100.6 374.2,1102.4C380.5,1104.3 384.2,1112.7 389.7,1113.5C395.2,1114.2 402.6,1108.7 407.4,1106.8C412.1,1105.0 412.9,1101.7 418.4,1102.4C423.9,1103.2 431.3,1109.4 440.5,1111.2C449.7,1113.1 462.5,1114.9 473.6,1113.5C484.6,1112.0 497.5,1105.4 506.7,1102.4C515.9,1099.5 519.5,1098.7 528.7,1095.8C537.9,1092.9 552.6,1088.1 561.8,1084.8C571.0,1081.5 575.8,1079.6 583.9,1075.9C592.0,1072.3 603.0,1063.4 610.4,1062.7C617.8,1062.0 621.4,1067.5 628.1,1071.5C634.7,1075.6 642.8,1083.3 650.1,1087.0C657.5,1090.7 664.8,1091.0 672.2,1093.6C679.5,1096.2 686.9,1099.5 694.3,1102.4C701.6,1105.4 707.5,1108.3 716.3,1111.2C725.1,1114.2 741.9,1118.6 747.0,1120.1" stroke="#77AC30"/>
<path d="M314.7,1250.1C317.2,1243.9 323.9,1226.3 330.1,1212.8C336.4,1199.2 344.8,1179.7 352.2,1168.6C359.5,1157.6 366.9,1153.9 374.2,1146.6C381.6,1139.2 389.0,1129.6 396.3,1124.5C403.7,1119.3 412.1,1115.7 418.4,1115.7C424.6,1115.7 428.3,1119.3 433.8,1124.5C439.4,1129.6 445.6,1139.2 451.5,1146.6C457.4,1153.9 463.6,1161.3 469.1,1168.6C474.7,1176.0 478.3,1184.1 484.6,1190.7C490.8,1197.3 499.3,1203.9 506.7,1208.4C514.0,1212.8 523.2,1212.8 528.7,1217.2C534.3,1221.6 536.8,1229.4 539.8,1234.8C542.7,1240.3 545.3,1247.5 546.4,1250.1" stroke="#77AC30"/>
<path d="M429.4,1250.1C434.9,1246.8 453.3,1233.3 462.5,1230.4C471.7,1227.5 477.2,1231.2 484.6,1232.6C492.0,1234.1 499.3,1238.5 506.7,1239.3C514.0,1240.0 521.4,1237.8 528.7,1237.0C536.1,1236.3 545.3,1232.7 550.8,1234.8C556.3,1237.0 560.0,1247.5 561.8,1250.1" stroke="#77AC30"/>
<path d="M305.8,1239.3C309.9,1234.8 323.5,1219.8 330.1,1212.8C336.7,1205.8 338.2,1200.3 345.6,1197.3C352.9,1194.4 365.8,1195.9 374.2,1195.1C382.7,1194.4 389.0,1194.0 396.3,1192.9C403.7,1191.8 411.0,1191.8 418.4,1188.5C425.7,1185.2 433.1,1181.5 440.5,1173.0C447.8,1164.6 455.2,1146.2 462.5,1137.7C469.9,1129.3 477.2,1125.2 484.6,1122.3C492.0,1119.3 499.3,1120.1 506.7,1120.1C514.0,1120.1 521.4,1121.5 528.7,1122.3C536.1,1123.0 545.3,1122.3 550.8,1124.5C556.3,1126.7 559.3,1131.8 561.8,1135.5C564.4,1139.2 564.4,1141.0 566.3,1146.6C568.1,1152.1 569.9,1161.3 572.9,1168.6C575.8,1176.0 580.2,1183.3 583.9,1190.7C587.6,1198.1 591.3,1205.4 594.9,1212.8C598.6,1220.1 602.3,1228.6 606.0,1234.8C609.7,1241.1 615.2,1247.5 617.0,1250.1" stroke="#4DBEEE"/>
<path d="M305.8,1219.4C309.9,1222.7 322.4,1234.8 330.1,1239.3C337.8,1243.7 344.8,1244.1 352.2,1245.9C359.5,1247.7 370.6,1249.4 374.2,1250.1" stroke="#4DBEEE"/>
<path d="M429.4,1250.1C433.1,1247.5 444.1,1239.6 451.5,1234.8C458.8,1230.1 466.2,1225.3 473.6,1221.6C480.9,1217.9 488.3,1215.3 495.6,1212.8C503.0,1210.2 510.3,1210.2 517.7,1206.2C525.1,1202.1 532.4,1194.7 539.8,1188.5C547.1,1182.2 554.5,1174.5 561.8,1168.6C569.2,1162.7 576.6,1155.4 583.9,1153.2C591.3,1151.0 596.8,1152.8 606.0,1155.4C615.2,1158.0 629.9,1164.6 639.1,1168.6C648.3,1172.7 653.8,1175.3 661.2,1179.7C668.5,1184.1 675.9,1188.9 683.2,1195.1C690.6,1201.4 697.9,1211.3 705.3,1217.2C712.7,1223.1 720.4,1227.1 727.4,1230.4C734.3,1233.7 743.7,1235.9 747.0,1237.0" stroke="#4DBEEE"/>
<path d="M561.8,1250.1C563.7,1245.7 569.2,1228.9 572.9,1223.8C576.6,1218.7 578.4,1219.4 583.9,1219.4C589.4,1219.4 600.5,1221.2 606.0,1223.8C611.5,1226.4 613.3,1230.5 617.0,1234.8C620.7,1239.2 626.2,1247.5 628.1,1250.1" stroke="#4DBEEE"/>
<path d="M305.8,1242.2C309.9,1242.6 322.4,1244.8 330.1,1244.4C337.8,1244.0 348.5,1240.7 352.2,1240.0" stroke="#D95319"/>
<path d="M305.8,1321.7C309.9,1318.3 320.5,1308.0 330.1,1301.8C339.7,1295.5 352.2,1287.8 363.2,1284.1C374.2,1280.5 386.0,1281.4 396.3,1279.7C406.6,1278.1 417.7,1274.2 425.0,1274.2C432.4,1274.2 434.2,1280.6 440.5,1279.7C446.7,1278.8 455.2,1271.6 462.5,1268.7C469.9,1265.7 477.2,1263.2 484.6,1262.1C492.0,1261.0 499.3,1262.8 506.7,1262.1C514.0,1261.3 523.2,1259.9 528.7,1257.7C534.3,1255.4 536.1,1251.4 539.8,1248.8C543.5,1246.3 549.0,1243.3 550.8,1242.2" stroke="#D95319"/>
<path d="M352.2,1240.0C357.7,1242.2 376.8,1249.2 385.3,1253.2C393.7,1257.3 397.4,1259.9 402.9,1264.3C408.5,1268.7 412.1,1276.0 418.4,1279.7C424.6,1283.4 433.1,1282.3 440.5,1286.3C447.8,1290.4 455.2,1298.9 462.5,1304.0C469.9,1309.2 477.2,1313.4 484.6,1317.2C492.0,1321.1 499.3,1324.2 506.7,1327.2C514.0,1330.1 521.4,1334.7 528.7,1334.9C536.1,1335.1 543.5,1330.1 550.8,1328.3C558.2,1326.4 565.5,1324.1 572.9,1323.9C580.2,1323.7 587.6,1326.3 594.9,1327.2C602.3,1328.1 611.5,1328.5 617.0,1329.4C622.5,1330.3 624.4,1329.2 628.1,1332.7C631.7,1336.2 635.4,1344.1 639.1,1350.4C642.8,1356.6 646.4,1363.6 650.1,1370.2C653.8,1376.8 657.5,1385.3 661.2,1390.1C664.8,1394.9 666.7,1396.0 672.2,1398.9C677.7,1401.8 686.9,1408.5 694.3,1407.7C701.6,1407.0 709.0,1399.3 716.3,1394.5C723.7,1389.7 733.3,1382.7 738.4,1379.0C743.5,1375.4 745.6,1373.5 747.0,1372.4" stroke="#D95319"/>
<path d="M305.8,1383.5C308.0,1380.1 313.2,1369.1 319.1,1363.6C325.0,1358.1 333.8,1353.3 341.1,1350.4C348.5,1347.4 354.0,1345.9 363.2,1345.9C372.4,1345.9 387.1,1348.5 396.3,1350.4C405.5,1352.2 411.0,1353.7 418.4,1357.0C425.7,1360.3 433.1,1365.8 440.5,1370.2C447.8,1374.6 455.2,1377.6 462.5,1383.5C469.9,1389.3 477.2,1397.8 484.6,1405.5C492.0,1413.3 501.1,1424.1 506.7,1429.8C512.2,1435.5 512.2,1439.0 517.7,1439.7C523.2,1440.5 532.4,1435.1 539.8,1434.2C547.1,1433.3 554.5,1434.2 561.8,1434.2C569.2,1434.2 576.6,1435.7 583.9,1434.2C591.3,1432.7 598.6,1429.8 606.0,1425.4C613.3,1421.0 620.7,1412.1 628.1,1407.7C635.4,1403.3 642.8,1400.7 650.1,1398.9C657.5,1397.1 664.8,1395.6 672.2,1396.7C679.5,1397.8 686.9,1405.9 694.3,1405.5C701.6,1405.2 709.0,1399.3 716.3,1394.5C723.7,1389.7 733.3,1382.0 738.4,1376.8C743.5,1371.7 745.6,1365.8 747.0,1363.6" stroke="#D95319"/>
<path d="M305.8,1401.1C309.9,1403.7 322.4,1414.4 330.1,1416.6C337.8,1418.8 344.8,1415.1 352.2,1414.4C359.5,1413.6 365.0,1412.9 374.2,1412.1C383.4,1411.4 398.2,1411.4 407.4,1409.9C416.5,1408.5 420.2,1405.5 429.4,1403.3C438.6,1401.1 453.3,1400.4 462.5,1396.7C471.7,1393.0 477.2,1386.8 484.6,1381.2C492.0,1375.7 499.3,1368.7 506.7,1363.6C514.0,1358.4 523.2,1352.9 528.7,1350.4C534.3,1347.8 534.3,1345.6 539.8,1348.1C545.3,1350.7 554.5,1360.3 561.8,1365.8C569.2,1371.3 577.3,1378.3 583.9,1381.2C590.5,1384.2 596.1,1381.6 601.6,1383.5C607.1,1385.3 610.8,1391.5 617.0,1392.3C623.3,1393.0 631.7,1386.8 639.1,1387.9C646.4,1389.0 653.8,1395.6 661.2,1398.9C668.5,1402.2 675.9,1405.2 683.2,1407.7C690.6,1410.3 694.7,1413.4 705.3,1414.4C715.9,1415.3 740.1,1413.4 747.0,1413.3" stroke="#D95319"/>
<path d="M661.2,1392.3C664.8,1389.7 674.8,1383.1 683.2,1376.8C691.7,1370.6 704.6,1354.8 711.9,1354.8C719.3,1354.8 721.5,1372.4 727.4,1376.8C733.2,1381.2 743.7,1380.5 747.0,1381.2" stroke="#D95319"/>
<path d="M305.8,1374.6C309.9,1371.7 322.4,1362.5 330.1,1357.0C337.8,1351.5 344.8,1346.3 352.2,1341.5C359.5,1336.7 365.8,1331.4 374.2,1328.3C382.7,1325.2 395.6,1322.8 402.9,1322.8C410.3,1322.8 412.9,1325.5 418.4,1328.3C423.9,1331.0 430.5,1333.1 436.0,1339.3C441.6,1345.6 447.1,1359.2 451.5,1365.8C455.9,1372.4 457.0,1375.0 462.5,1379.0C468.0,1383.1 477.2,1387.9 484.6,1390.1C492.0,1392.3 499.3,1391.5 506.7,1392.3C514.0,1393.0 523.2,1396.0 528.7,1394.5C534.3,1393.0 536.1,1385.3 539.8,1383.5C543.5,1381.6 545.3,1388.6 550.8,1383.5C556.3,1378.3 565.5,1356.6 572.9,1352.6C580.2,1348.5 585.8,1358.4 594.9,1359.2C604.1,1359.9 618.9,1355.7 628.1,1357.0C637.2,1358.3 642.8,1365.1 650.1,1366.9C657.5,1368.7 663.0,1366.7 672.2,1368.0C681.4,1369.3 692.8,1372.4 705.3,1374.6C717.8,1376.8 740.1,1380.1 747.0,1381.2" stroke="#A2142F"/>
<path d="M305.8,1339.3C308.8,1340.1 317.6,1339.3 323.5,1343.7C329.4,1348.1 335.3,1362.5 341.1,1365.8C347.0,1369.1 353.3,1365.8 358.8,1363.6C364.3,1361.4 368.0,1355.1 374.2,1352.6C380.5,1350.0 387.1,1348.9 396.3,1348.1C405.5,1347.4 420.2,1347.4 429.4,1348.1C438.6,1348.9 442.3,1352.6 451.5,1352.6C460.7,1352.6 473.6,1349.6 484.6,1348.1C495.6,1346.7 506.7,1345.4 517.7,1343.7C528.7,1342.1 539.8,1339.7 550.8,1338.2C561.8,1336.7 574.7,1334.0 583.9,1334.9C593.1,1335.8 598.6,1340.8 606.0,1343.7C613.3,1346.7 620.7,1351.1 628.1,1352.6C635.4,1354.0 642.8,1350.7 650.1,1352.6C657.5,1354.4 664.8,1362.5 672.2,1363.6C679.5,1364.7 686.9,1366.5 694.3,1359.2C701.6,1351.8 710.8,1326.4 716.3,1319.5C721.9,1312.5 723.7,1315.8 727.4,1317.2C731.0,1318.7 735.1,1326.4 738.4,1328.3C741.7,1330.1 745.6,1328.3 747.0,1328.3" stroke="#7E2F8E"/>
<path d="M462.5,1240.0C466.2,1242.6 477.2,1250.7 484.6,1255.4C492.0,1260.2 499.3,1265.6 506.7,1268.7C514.0,1271.8 519.5,1274.9 528.7,1274.2C537.9,1273.5 552.6,1267.8 561.8,1264.3C571.0,1260.8 577.3,1257.3 583.9,1253.2C590.5,1249.2 598.6,1242.2 601.6,1240.0" stroke="#7E2F8E"/>
<path d="M305.8,1257.7C309.9,1260.2 322.4,1267.6 330.1,1273.1C337.8,1278.6 344.8,1287.1 352.2,1290.8C359.5,1294.4 366.9,1293.0 374.2,1295.2C381.6,1297.4 389.0,1302.9 396.3,1304.0C403.7,1305.1 411.0,1302.5 418.4,1301.8C425.7,1301.1 431.3,1300.7 440.5,1299.6C449.7,1298.5 464.4,1298.1 473.6,1295.2C482.8,1292.2 488.3,1287.5 495.6,1281.9C503.0,1276.4 510.3,1267.6 517.7,1262.1C525.1,1256.6 532.4,1251.8 539.8,1248.8C547.1,1245.9 554.5,1244.4 561.8,1244.4C569.2,1244.4 576.6,1245.9 583.9,1248.8C591.3,1251.8 596.8,1257.7 606.0,1262.1C615.2,1266.5 628.1,1271.6 639.1,1275.3C650.1,1279.0 661.2,1281.9 672.2,1284.1C683.2,1286.3 696.1,1284.9 705.3,1288.6C714.5,1292.2 720.4,1298.9 727.4,1306.2C734.3,1313.6 743.7,1328.3 747.0,1332.7" stroke="#EDB120"/>
<path d="M305.8,1423.2C309.9,1422.8 322.4,1423.9 330.1,1421.0C337.8,1418.0 344.8,1412.9 352.2,1405.5C359.5,1398.2 366.9,1386.0 374.2,1376.8C381.6,1367.6 390.8,1356.4 396.3,1350.4C401.8,1344.3 401.8,1341.5 407.4,1340.4C412.9,1339.3 422.1,1340.6 429.4,1343.7C436.8,1346.9 444.1,1355.1 451.5,1359.2C458.8,1363.2 464.4,1366.9 473.6,1368.0C482.8,1369.1 497.5,1365.1 506.7,1365.8C515.9,1366.5 521.4,1368.0 528.7,1372.4C536.1,1376.8 543.5,1387.1 550.8,1392.3C558.2,1397.4 566.3,1401.8 572.9,1403.3C579.5,1404.8 585.0,1404.8 590.5,1401.1C596.1,1397.4 599.7,1391.5 606.0,1381.2C612.2,1370.9 620.7,1352.6 628.1,1339.3C635.4,1326.1 642.8,1311.0 650.1,1301.8C657.5,1292.6 663.0,1287.8 672.2,1284.1C681.4,1280.5 696.1,1278.3 705.3,1279.7C714.5,1281.2 720.4,1287.5 727.4,1293.0C734.3,1298.5 743.7,1309.5 747.0,1312.8" stroke="#EDB120"/>
<path d="M305.8,1255.4C308.0,1257.7 315.0,1262.1 319.1,1268.7C323.1,1275.3 326.4,1289.3 330.1,1295.2C333.8,1301.1 335.6,1301.4 341.1,1304.0C346.7,1306.6 356.6,1306.9 363.2,1310.6C369.8,1314.3 377.2,1329.4 380.9,1326.1C384.5,1322.8 383.8,1300.7 385.3,1290.8C386.8,1280.8 386.8,1271.6 389.7,1266.5C392.6,1261.3 398.2,1260.6 402.9,1259.9C407.7,1259.1 412.1,1263.5 418.4,1262.1C424.6,1260.6 434.2,1254.7 440.5,1251.0C446.7,1247.4 453.3,1241.8 455.9,1240.0" stroke="#77AC30"/>
<path d="M539.8,1240.0C541.6,1245.5 545.3,1261.0 550.8,1273.1C556.3,1285.2 565.5,1303.6 572.9,1312.8C580.2,1322.0 587.6,1325.0 594.9,1328.3C602.3,1331.6 609.7,1332.0 617.0,1332.7C624.4,1333.4 631.7,1329.4 639.1,1332.7C646.4,1336.0 654.9,1347.4 661.2,1352.6C667.4,1357.7 671.1,1363.6 676.6,1363.6C682.1,1363.6 687.6,1358.4 694.3,1352.6C700.9,1346.7 709.0,1337.5 716.3,1328.3C723.7,1319.1 733.3,1304.7 738.4,1297.4C743.5,1290.0 745.6,1286.3 747.0,1284.1" stroke="#77AC30"/>
<path d="M561.8,1246.6C565.5,1251.0 575.8,1266.9 583.9,1273.1C592.0,1279.4 601.2,1284.5 610.4,1284.1C619.6,1283.8 628.8,1274.6 639.1,1270.9C649.4,1267.2 661.2,1263.5 672.2,1262.1C683.2,1260.6 696.1,1261.3 705.3,1262.1C714.5,1262.8 720.4,1266.5 727.4,1266.5C734.3,1266.5 743.7,1262.8 747.0,1262.1" stroke="#77AC30"/>
<path d="M305.8,1423.2C309.9,1421.0 322.4,1412.7 330.1,1409.9C337.8,1407.2 343.0,1407.0 352.2,1406.6C361.4,1406.3 376.1,1407.2 385.3,1407.7C394.5,1408.3 400.0,1405.5 407.4,1409.9C414.7,1414.4 423.9,1428.3 429.4,1434.2C434.9,1440.1 433.1,1444.1 440.5,1445.3C447.8,1446.4 462.5,1443.4 473.6,1440.8C484.6,1438.3 497.5,1433.8 506.7,1429.8C515.9,1425.8 521.4,1420.6 528.7,1416.6C536.1,1412.5 543.5,1407.5 550.8,1405.5C558.2,1403.5 565.5,1403.0 572.9,1404.4C580.2,1405.9 587.6,1412.3 594.9,1414.4C602.3,1416.4 609.7,1415.5 617.0,1416.6C624.4,1417.7 631.7,1421.0 639.1,1421.0C646.4,1421.0 653.8,1414.7 661.2,1416.6C668.5,1418.4 675.9,1426.5 683.2,1432.0C690.6,1437.5 697.9,1444.9 705.3,1449.7C712.7,1454.4 720.4,1459.0 727.4,1460.7C734.3,1462.4 743.7,1459.8 747.0,1459.6" stroke="#77AC30"/>
<path d="M305.8,1273.1C308.0,1273.8 313.2,1274.9 319.1,1277.5C325.0,1280.1 333.8,1285.2 341.1,1288.6C348.5,1291.9 355.9,1295.7 363.2,1297.4C370.6,1299.0 377.9,1298.9 385.3,1298.5C392.6,1298.1 400.0,1293.9 407.4,1295.2C414.7,1296.5 422.1,1302.7 429.4,1306.2C436.8,1309.7 444.1,1315.8 451.5,1316.1C458.8,1316.5 466.2,1311.9 473.6,1308.4C480.9,1304.9 488.3,1300.0 495.6,1295.2C503.0,1290.4 510.3,1284.9 517.7,1279.7C525.1,1274.6 532.4,1269.1 539.8,1264.3C547.1,1259.5 556.3,1255.1 561.8,1251.0C567.4,1247.0 571.0,1241.8 572.9,1240.0" stroke="#4DBEEE"/>
<path d="M341.1,1240.0C344.8,1241.5 355.9,1246.3 363.2,1248.8C370.6,1251.4 377.9,1254.5 385.3,1255.4C392.6,1256.4 400.0,1255.4 407.4,1254.3C414.7,1253.2 422.1,1251.2 429.4,1248.8C436.8,1246.4 447.8,1241.5 451.5,1240.0" stroke="#4DBEEE"/>
<path d="M305.8,1407.7C307.7,1404.8 312.8,1391.9 316.9,1390.1C320.9,1388.2 326.1,1392.3 330.1,1396.7C334.2,1401.1 335.6,1408.8 341.1,1416.6C346.7,1424.3 354.0,1436.8 363.2,1443.0C372.4,1449.3 387.1,1452.2 396.3,1454.1C405.5,1455.9 409.2,1455.6 418.4,1454.1C427.6,1452.6 441.6,1447.6 451.5,1445.3C461.4,1442.9 468.8,1438.4 478.0,1439.7C487.2,1441.0 498.2,1452.4 506.7,1453.0C515.1,1453.5 521.4,1447.3 528.7,1443.0C536.1,1438.8 541.6,1431.3 550.8,1427.6C560.0,1423.9 572.9,1422.8 583.9,1421.0C594.9,1419.1 607.8,1416.2 617.0,1416.6C626.2,1416.9 631.7,1421.0 639.1,1423.2C646.4,1425.4 653.8,1426.9 661.2,1429.8C668.5,1432.7 677.0,1435.7 683.2,1440.8C689.5,1446.0 694.3,1453.0 698.7,1460.7C703.1,1468.4 704.9,1480.9 709.7,1487.2C714.5,1493.4 721.2,1496.4 727.4,1498.2C733.6,1500.1 743.7,1498.2 747.0,1498.2" stroke="#4DBEEE"/>
<path d="M617.0,1240.0C620.7,1244.8 631.7,1258.4 639.1,1268.7C646.4,1279.0 653.8,1295.9 661.2,1301.8C668.5,1307.7 675.9,1304.0 683.2,1304.0C690.6,1304.0 697.9,1305.1 705.3,1301.8C712.7,1298.5 720.4,1288.6 727.4,1284.1C734.3,1279.7 743.7,1276.8 747.0,1275.3" stroke="#4DBEEE"/>
<path d="M623.6,1242.2C628.1,1245.5 640.2,1255.8 650.1,1262.1C660.1,1268.3 674.0,1274.9 683.2,1279.7C692.4,1284.5 697.9,1285.2 705.3,1290.8C712.7,1296.3 720.4,1306.6 727.4,1312.8C734.3,1319.1 743.7,1325.7 747.0,1328.3" stroke="#4DBEEE"/>
<path d="M740.0,1058.3C745.5,1059.4 763.9,1063.4 773.1,1064.9C782.3,1066.4 787.8,1066.0 795.2,1067.1C802.5,1068.2 811.0,1071.2 817.2,1071.5C823.5,1071.9 827.2,1071.5 832.7,1069.3C838.2,1067.1 843.7,1063.1 850.4,1058.3C857.0,1053.5 865.1,1046.1 872.4,1040.6C879.8,1035.1 887.1,1030.0 894.5,1025.2C901.8,1020.4 909.2,1016.0 916.6,1011.9C923.9,1007.9 931.3,1004.6 938.6,1000.9C946.0,997.2 955.2,992.8 960.7,989.9C966.2,986.9 967.3,984.2 971.7,983.2C976.2,982.3 982.8,983.2 987.2,984.3C991.6,985.4 995.3,985.6 998.2,989.9C1001.2,994.1 1001.9,1000.9 1004.8,1009.7C1007.8,1018.6 1012.2,1034.0 1015.9,1042.8C1019.6,1051.7 1023.2,1056.1 1026.9,1062.7C1030.6,1069.3 1034.3,1077.8 1037.9,1082.6C1041.6,1087.3 1043.5,1087.3 1049.0,1091.4C1054.5,1095.4 1063.7,1102.1 1071.1,1106.8C1078.4,1111.6 1085.8,1116.8 1093.1,1120.1C1100.5,1123.4 1107.8,1123.0 1115.2,1126.7C1122.5,1130.4 1129.9,1135.9 1137.3,1142.1C1144.6,1148.4 1153.8,1157.6 1159.3,1164.2C1164.9,1170.8 1166.7,1174.1 1170.4,1181.9C1174.0,1189.6 1179.6,1205.8 1181.4,1210.6" stroke="#D95319"/>
<path d="M740.0,1098.0C743.7,1095.8 754.7,1087.7 762.1,1084.8C769.4,1081.8 776.8,1080.7 784.1,1080.4C791.5,1080.0 798.9,1081.1 806.2,1082.6C813.6,1084.0 820.9,1087.7 828.3,1089.2C835.6,1090.7 843.0,1088.4 850.4,1091.4C857.7,1094.3 865.1,1102.8 872.4,1106.8C879.8,1110.9 887.1,1113.5 894.5,1115.7C901.8,1117.9 909.9,1119.0 916.6,1120.1C923.2,1121.2 928.7,1119.7 934.2,1122.3C939.7,1124.9 943.4,1131.5 949.7,1135.5C955.9,1139.6 966.2,1143.6 971.7,1146.6C977.3,1149.5 977.3,1150.6 982.8,1153.2C988.3,1155.8 997.5,1159.4 1004.8,1162.0C1012.2,1164.6 1019.6,1169.0 1026.9,1168.6C1034.3,1168.3 1045.3,1161.3 1049.0,1159.8" stroke="#0072BD"/>
<path d="M740.0,1133.3C743.7,1132.2 754.7,1129.3 762.1,1126.7C769.4,1124.1 776.8,1119.7 784.1,1117.9C791.5,1116.0 798.9,1117.9 806.2,1115.7C813.6,1113.5 820.9,1109.0 828.3,1104.6C835.6,1100.2 843.0,1094.7 850.4,1089.2C857.7,1083.7 865.1,1078.1 872.4,1071.5C879.8,1064.9 886.0,1057.2 894.5,1049.5C903.0,1041.7 915.8,1028.5 923.2,1025.2C930.5,1021.9 933.8,1027.8 938.6,1029.6C943.4,1031.4 948.2,1035.5 951.9,1036.2C955.6,1036.9 957.4,1033.3 960.7,1034.0C964.0,1034.7 966.2,1036.2 971.7,1040.6C977.3,1045.0 986.5,1053.5 993.8,1060.5C1001.2,1067.5 1008.5,1076.3 1015.9,1082.6C1023.2,1088.8 1030.6,1092.9 1037.9,1098.0C1045.3,1103.2 1052.7,1109.0 1060.0,1113.5C1067.4,1117.9 1074.7,1121.2 1082.1,1124.5C1089.4,1127.8 1096.8,1130.0 1104.2,1133.3C1111.5,1136.6 1118.9,1140.3 1126.2,1144.4C1133.6,1148.4 1140.9,1154.3 1148.3,1157.6C1155.7,1160.9 1164.9,1165.0 1170.4,1164.2C1175.9,1163.5 1179.6,1155.0 1181.4,1153.2" stroke="#0072BD"/>
<path d="M740.0,1175.3C743.7,1174.1 754.7,1169.4 762.1,1168.6C769.4,1167.9 776.8,1173.8 784.1,1170.8C791.5,1167.9 798.9,1155.4 806.2,1151.0C813.6,1146.6 820.9,1144.0 828.3,1144.4C835.6,1144.7 843.0,1150.6 850.4,1153.2C857.7,1155.8 865.1,1159.4 872.4,1159.8C879.8,1160.2 887.1,1157.6 894.5,1155.4C901.8,1153.2 909.2,1148.4 916.6,1146.6C923.9,1144.7 931.3,1145.1 938.6,1144.4C946.0,1143.6 955.2,1141.8 960.7,1142.1C966.2,1142.5 966.2,1144.0 971.7,1146.6C977.3,1149.1 986.5,1153.9 993.8,1157.6C1001.2,1161.3 1008.5,1165.7 1015.9,1168.6C1023.2,1171.6 1030.6,1171.6 1037.9,1175.3C1045.3,1178.9 1052.7,1187.0 1060.0,1190.7C1067.4,1194.4 1074.7,1196.6 1082.1,1197.3C1089.4,1198.1 1096.8,1195.5 1104.2,1195.1C1111.5,1194.7 1118.9,1194.4 1126.2,1195.1C1133.6,1195.9 1140.9,1200.6 1148.3,1199.5C1155.7,1198.4 1164.9,1191.1 1170.4,1188.5C1175.9,1185.9 1179.6,1184.8 1181.4,1184.1" stroke="#0072BD"/>
<path d="M740.0,1179.7C743.7,1179.3 754.7,1177.5 762.1,1177.5C769.4,1177.5 774.9,1181.9 784.1,1179.7C793.3,1177.5 808.0,1165.7 817.2,1164.2C826.4,1162.7 832.0,1167.9 839.3,1170.8C846.7,1173.8 852.2,1180.0 861.4,1181.9C870.6,1183.7 885.3,1182.2 894.5,1181.9C903.7,1181.5 909.2,1177.1 916.6,1179.7C923.9,1182.2 931.3,1194.4 938.6,1197.3C946.0,1200.3 953.3,1198.8 960.7,1197.3C968.1,1195.9 975.4,1191.4 982.8,1188.5C990.1,1185.6 997.5,1183.7 1004.8,1179.7C1012.2,1175.6 1019.6,1169.0 1026.9,1164.2C1034.3,1159.4 1041.6,1154.7 1049.0,1151.0C1056.3,1147.3 1063.7,1144.0 1071.1,1142.1C1078.4,1140.3 1085.8,1139.9 1093.1,1139.9C1100.5,1139.9 1107.8,1139.6 1115.2,1142.1C1122.5,1144.7 1129.9,1152.1 1137.3,1155.4C1144.6,1158.7 1152.0,1161.3 1159.3,1162.0C1166.7,1162.7 1177.7,1160.2 1181.4,1159.8" stroke="#0072BD"/>
<path d="M938.6,1135.5C942.3,1136.3 955.2,1137.4 960.7,1139.9C966.2,1142.5 968.1,1146.2 971.7,1151.0C975.4,1155.8 977.3,1162.4 982.8,1168.6C988.3,1174.9 997.5,1182.6 1004.8,1188.5C1012.2,1194.4 1019.6,1198.1 1026.9,1203.9C1034.3,1209.8 1041.6,1217.9 1049.0,1223.8C1056.3,1229.7 1063.7,1235.9 1071.1,1239.3C1078.4,1242.6 1085.8,1243.7 1093.1,1243.7C1100.5,1243.7 1107.8,1241.5 1115.2,1239.3C1122.5,1237.0 1129.9,1234.5 1137.3,1230.4C1144.6,1226.4 1152.0,1219.8 1159.3,1215.0C1166.7,1210.2 1177.7,1203.9 1181.4,1201.7" stroke="#0072BD"/>
<path d="M1026.9,1139.9C1030.6,1140.7 1041.6,1140.7 1049.0,1144.4C1056.3,1148.0 1063.7,1156.1 1071.1,1162.0C1078.4,1167.9 1085.8,1175.3 1093.1,1179.7C1100.5,1184.1 1109.7,1187.8 1115.2,1188.5C1120.7,1189.2 1122.5,1183.0 1126.2,1184.1C1129.9,1185.2 1131.7,1192.5 1137.3,1195.1C1142.8,1197.7 1152.0,1199.9 1159.3,1199.5C1166.7,1199.2 1177.7,1194.0 1181.4,1192.9" stroke="#0072BD"/>
<path d="M740.0,1023.0C743.7,1025.2 755.4,1030.3 762.1,1036.2C768.7,1042.1 775.3,1051.7 779.7,1058.3C784.1,1064.9 784.9,1068.6 788.6,1075.9C792.2,1083.3 797.0,1094.7 801.8,1102.4C806.6,1110.1 811.0,1117.5 817.2,1122.3C823.5,1127.1 832.0,1128.5 839.3,1131.1C846.7,1133.7 854.0,1135.2 861.4,1137.7C868.7,1140.3 876.1,1144.4 883.5,1146.6C890.8,1148.8 898.2,1149.5 905.5,1151.0C912.9,1152.4 920.2,1153.9 927.6,1155.4C935.0,1156.9 942.3,1161.3 949.7,1159.8C957.0,1158.3 964.4,1152.4 971.7,1146.6C979.1,1140.7 986.5,1131.5 993.8,1124.5C1001.2,1117.5 1008.5,1110.1 1015.9,1104.6C1023.2,1099.1 1030.6,1096.9 1037.9,1091.4C1045.3,1085.9 1052.7,1078.9 1060.0,1071.5C1067.4,1064.2 1074.7,1053.9 1082.1,1047.2C1089.4,1040.6 1095.0,1036.9 1104.2,1031.8C1113.4,1026.6 1128.1,1017.8 1137.3,1016.3C1146.5,1014.9 1152.0,1019.7 1159.3,1023.0C1166.7,1026.3 1177.7,1034.0 1181.4,1036.2" stroke="#EDB120"/>
<path d="M740.0,1038.4C743.7,1039.9 754.7,1042.1 762.1,1047.2C769.4,1052.4 776.8,1064.2 784.1,1069.3C791.5,1074.5 798.9,1077.8 806.2,1078.1C813.6,1078.5 820.9,1075.2 828.3,1071.5C835.6,1067.8 844.8,1058.3 850.4,1056.1C855.9,1053.9 857.7,1055.0 861.4,1058.3C865.1,1061.6 868.7,1070.1 872.4,1075.9C876.1,1081.8 877.9,1089.9 883.5,1093.6C889.0,1097.3 896.3,1097.3 905.5,1098.0C914.7,1098.7 929.4,1097.3 938.6,1098.0C947.8,1098.7 953.3,1102.1 960.7,1102.4C968.1,1102.8 975.4,1101.7 982.8,1100.2C990.1,1098.7 997.5,1095.4 1004.8,1093.6C1012.2,1091.8 1019.6,1090.3 1026.9,1089.2C1034.3,1088.1 1041.6,1087.7 1049.0,1087.0C1056.3,1086.2 1063.7,1085.5 1071.1,1084.8C1078.4,1084.0 1085.8,1083.3 1093.1,1082.6C1100.5,1081.8 1107.8,1080.0 1115.2,1080.4C1122.5,1080.7 1129.9,1082.9 1137.3,1084.8C1144.6,1086.6 1152.0,1089.2 1159.3,1091.4C1166.7,1093.6 1177.7,1096.9 1181.4,1098.0" stroke="#EDB120"/>
<path d="M740.0,1109.0C743.7,1110.1 754.7,1113.5 762.1,1115.7C769.4,1117.9 778.6,1122.3 784.1,1122.3C789.7,1122.3 789.7,1117.5 795.2,1115.7C800.7,1113.8 809.9,1112.4 817.2,1111.2C824.6,1110.1 832.0,1108.7 839.3,1109.0C846.7,1109.4 854.0,1110.1 861.4,1113.5C868.7,1116.8 876.1,1123.4 883.5,1128.9C890.8,1134.4 898.2,1139.9 905.5,1146.6C912.9,1153.2 920.2,1164.2 927.6,1168.6C935.0,1173.0 942.3,1171.2 949.7,1173.0C957.0,1174.9 964.4,1177.1 971.7,1179.7C979.1,1182.2 986.5,1186.3 993.8,1188.5C1001.2,1190.7 1008.5,1192.9 1015.9,1192.9C1023.2,1192.9 1030.6,1190.7 1037.9,1188.5C1045.3,1186.3 1052.7,1182.6 1060.0,1179.7C1067.4,1176.7 1074.7,1172.3 1082.1,1170.8C1089.4,1169.4 1098.6,1169.7 1104.2,1170.8C1109.7,1171.9 1109.7,1175.3 1115.2,1177.5C1120.7,1179.7 1129.9,1183.3 1137.3,1184.1C1144.6,1184.8 1152.0,1183.0 1159.3,1181.9C1166.7,1180.8 1177.7,1178.2 1181.4,1177.5" stroke="#EDB120"/>
<path d="M740.0,1045.0C743.7,1046.5 754.7,1051.7 762.1,1053.9C769.4,1056.1 777.5,1056.1 784.1,1058.3C790.8,1060.5 796.3,1064.9 801.8,1067.1C807.3,1069.3 812.8,1068.2 817.2,1071.5C821.7,1074.8 822.8,1084.8 828.3,1087.0C833.8,1089.2 843.0,1083.7 850.4,1084.8C857.7,1085.9 866.9,1091.8 872.4,1093.6C877.9,1095.4 879.8,1092.5 883.5,1095.8C887.1,1099.1 890.8,1106.8 894.5,1113.5C898.2,1120.1 901.8,1127.8 905.5,1135.5C909.2,1143.3 912.9,1153.9 916.6,1159.8C920.2,1165.7 922.1,1167.5 927.6,1170.8C933.1,1174.1 942.3,1180.0 949.7,1179.7C957.0,1179.3 964.4,1172.3 971.7,1168.6C979.1,1165.0 988.3,1159.8 993.8,1157.6C999.3,1155.4 999.3,1157.2 1004.8,1155.4C1010.4,1153.6 1019.6,1150.2 1026.9,1146.6C1034.3,1142.9 1043.5,1136.3 1049.0,1133.3C1054.5,1130.4 1054.5,1133.3 1060.0,1128.9C1065.5,1124.5 1074.7,1114.9 1082.1,1106.8C1089.4,1098.7 1096.8,1089.2 1104.2,1080.4C1111.5,1071.5 1118.9,1062.0 1126.2,1053.9C1133.6,1045.8 1140.9,1036.9 1148.3,1031.8C1155.7,1026.6 1164.9,1025.5 1170.4,1023.0C1175.9,1020.4 1179.6,1017.5 1181.4,1016.3" stroke="#7E2F8E"/>
<path d="M740.0,1098.0C743.7,1099.5 754.7,1104.6 762.1,1106.8C769.4,1109.0 774.9,1110.9 784.1,1111.2C793.3,1111.6 806.2,1109.0 817.2,1109.0C828.3,1109.0 841.2,1110.5 850.4,1111.2C859.5,1112.0 865.1,1112.0 872.4,1113.5C879.8,1114.9 887.1,1116.8 894.5,1120.1C901.8,1123.4 909.2,1129.6 916.6,1133.3C923.9,1137.0 931.3,1139.9 938.6,1142.1C946.0,1144.4 953.3,1145.1 960.7,1146.6C968.1,1148.0 975.4,1149.9 982.8,1151.0C990.1,1152.1 999.3,1153.2 1004.8,1153.2C1010.4,1153.2 1014.0,1151.3 1015.9,1151.0" stroke="#7E2F8E"/>
<path d="M960.7,1243.7C964.4,1241.5 975.4,1234.1 982.8,1230.4C990.1,1226.7 997.5,1223.8 1004.8,1221.6C1012.2,1219.4 1019.6,1217.6 1026.9,1217.2C1034.3,1216.8 1041.6,1217.9 1049.0,1219.4C1056.3,1220.9 1063.7,1223.8 1071.1,1226.0C1078.4,1228.2 1085.8,1232.6 1093.1,1232.6C1100.5,1232.6 1107.8,1228.2 1115.2,1226.0C1122.5,1223.8 1129.9,1220.9 1137.3,1219.4C1144.6,1217.9 1152.0,1218.7 1159.3,1217.2C1166.7,1215.7 1177.7,1211.7 1181.4,1210.6" stroke="#7E2F8E"/>
<path d="M1163.7,1115.7 L1181.4,1115.7" stroke="#7E2F8E"/>
<path d="M740.0,1230.4 L762.1,1245.9" stroke="#7E2F8E"/>
<path d="M740.0,1106.8C741.8,1104.6 747.4,1098.4 751.0,1093.6C754.7,1088.8 759.1,1081.1 762.1,1078.1C765.0,1075.2 765.0,1074.5 768.7,1075.9C772.4,1077.4 777.9,1085.9 784.1,1087.0C790.4,1088.1 798.9,1085.1 806.2,1082.6C813.6,1080.0 822.8,1073.0 828.3,1071.5C833.8,1070.1 835.6,1071.2 839.3,1073.7C843.0,1076.3 846.7,1083.3 850.4,1087.0C854.0,1090.7 855.9,1094.3 861.4,1095.8C866.9,1097.3 877.9,1096.5 883.5,1095.8C889.0,1095.1 889.0,1094.0 894.5,1091.4C900.0,1088.8 909.2,1080.7 916.6,1080.4C923.9,1080.0 931.3,1084.0 938.6,1089.2C946.0,1094.3 955.2,1107.2 960.7,1111.2C966.2,1115.3 966.2,1114.9 971.7,1113.5C977.3,1112.0 986.5,1106.8 993.8,1102.4C1001.2,1098.0 1008.5,1092.9 1015.9,1087.0C1023.2,1081.1 1030.6,1073.0 1037.9,1067.1C1045.3,1061.2 1052.7,1053.9 1060.0,1051.7C1067.4,1049.5 1074.7,1052.8 1082.1,1053.9C1089.4,1055.0 1096.8,1056.8 1104.2,1058.3C1111.5,1059.8 1118.9,1059.8 1126.2,1062.7C1133.6,1065.6 1140.9,1071.9 1148.3,1075.9C1155.7,1080.0 1164.9,1084.0 1170.4,1087.0C1175.9,1089.9 1179.6,1092.5 1181.4,1093.6" stroke="#A2142F"/>
<path d="M740.0,1181.9C743.7,1182.2 755.8,1184.6 762.1,1184.1C768.3,1183.5 772.0,1182.2 777.5,1178.6C783.0,1174.9 790.4,1166.6 795.2,1162.0C800.0,1157.4 800.7,1155.0 806.2,1151.0C811.7,1146.9 820.9,1140.9 828.3,1137.7C835.6,1134.6 843.0,1131.8 850.4,1132.2C857.7,1132.6 865.1,1136.8 872.4,1139.9C879.8,1143.1 887.1,1148.4 894.5,1151.0C901.8,1153.6 909.2,1155.4 916.6,1155.4C923.9,1155.4 931.3,1152.1 938.6,1151.0C946.0,1149.9 953.3,1149.5 960.7,1148.8C968.1,1148.0 975.4,1145.1 982.8,1146.6C990.1,1148.0 997.5,1154.3 1004.8,1157.6C1012.2,1160.9 1019.6,1164.2 1026.9,1166.4C1034.3,1168.6 1041.6,1170.8 1049.0,1170.8C1056.3,1170.8 1063.7,1168.3 1071.1,1166.4C1078.4,1164.6 1085.8,1161.6 1093.1,1159.8C1100.5,1158.0 1107.8,1156.1 1115.2,1155.4C1122.5,1154.7 1129.9,1153.2 1137.3,1155.4C1144.6,1157.6 1152.0,1162.7 1159.3,1168.6C1166.7,1174.5 1177.7,1187.0 1181.4,1190.7" stroke="#A2142F"/>
<path d="M740.0,1120.1C742.9,1120.8 752.1,1121.5 757.7,1124.5C763.2,1127.4 766.9,1133.0 773.1,1137.7C779.4,1142.5 789.7,1151.3 795.2,1153.2C800.7,1155.0 802.5,1151.0 806.2,1148.8C809.9,1146.6 813.6,1144.7 817.2,1139.9C820.9,1135.2 824.6,1126.3 828.3,1120.1C832.0,1113.8 835.6,1107.6 839.3,1102.4C843.0,1097.3 844.8,1092.5 850.4,1089.2C855.9,1085.9 865.1,1086.2 872.4,1082.6C879.8,1078.9 887.1,1071.7 894.5,1067.1C901.8,1062.5 909.2,1056.4 916.6,1055.0C923.9,1053.5 931.3,1055.9 938.6,1058.3C946.0,1060.7 953.3,1065.6 960.7,1069.3C968.1,1073.0 977.3,1077.0 982.8,1080.4C988.3,1083.7 988.3,1087.0 993.8,1089.2C999.3,1091.4 1008.5,1092.1 1015.9,1093.6C1023.2,1095.1 1030.6,1094.7 1037.9,1098.0C1045.3,1101.3 1052.7,1107.9 1060.0,1113.5C1067.4,1119.0 1074.7,1126.7 1082.1,1131.1C1089.4,1135.5 1096.8,1140.3 1104.2,1139.9C1111.5,1139.6 1118.9,1131.8 1126.2,1128.9C1133.6,1126.0 1140.9,1123.4 1148.3,1122.3C1155.7,1121.2 1164.9,1121.5 1170.4,1122.3C1175.9,1123.0 1179.6,1126.0 1181.4,1126.7" stroke="#77AC30"/>
<path d="M766.5,1250.1C769.4,1245.7 777.5,1230.0 784.1,1223.8C790.8,1217.6 798.9,1213.5 806.2,1212.8C813.6,1212.0 820.9,1215.7 828.3,1219.4C835.6,1223.1 843.0,1232.6 850.4,1234.8C857.7,1237.0 865.1,1232.3 872.4,1232.6C879.8,1233.0 888.6,1234.1 894.5,1237.0C900.4,1240.0 905.5,1247.9 907.7,1250.1" stroke="#77AC30"/>
<path d="M817.2,1250.1C820.9,1246.8 832.0,1237.4 839.3,1230.4C846.7,1223.5 854.0,1215.3 861.4,1208.4C868.7,1201.4 876.1,1193.6 883.5,1188.5C890.8,1183.3 898.2,1180.8 905.5,1177.5C912.9,1174.1 920.2,1170.5 927.6,1168.6C935.0,1166.8 942.3,1164.6 949.7,1166.4C957.0,1168.3 964.4,1174.5 971.7,1179.7C979.1,1184.8 986.5,1192.5 993.8,1197.3C1001.2,1202.1 1008.5,1205.4 1015.9,1208.4C1023.2,1211.3 1032.4,1212.8 1037.9,1215.0C1043.5,1217.2 1047.1,1220.5 1049.0,1221.6" stroke="#4DBEEE"/>
<path d="M982.8,1248.1C986.5,1244.4 997.5,1231.5 1004.8,1226.0C1012.2,1220.5 1019.6,1218.3 1026.9,1215.0C1034.3,1211.7 1041.6,1211.7 1049.0,1206.2C1056.3,1200.6 1063.7,1186.7 1071.1,1181.9C1078.4,1177.1 1085.8,1177.5 1093.1,1177.5C1100.5,1177.5 1107.8,1177.5 1115.2,1181.9C1122.5,1186.3 1129.9,1197.7 1137.3,1203.9C1144.6,1210.2 1152.0,1213.5 1159.3,1219.4C1166.7,1225.3 1177.7,1235.9 1181.4,1239.3" stroke="#4DBEEE"/>
<path d="M1033.5,1217.2C1035.4,1220.1 1041.3,1229.4 1044.6,1234.8C1047.9,1240.3 1051.9,1247.5 1053.4,1250.1" stroke="#4DBEEE"/>
<path d="M932.0,1250.1C936.8,1249.0 952.2,1244.4 960.7,1243.7C969.2,1243.0 975.4,1245.7 982.8,1245.9C990.1,1246.1 997.5,1244.6 1004.8,1244.8C1012.2,1245.0 1019.6,1246.1 1026.9,1247.0C1034.3,1247.9 1045.3,1249.6 1049.0,1250.1" stroke="#D95319"/>
<path d="M740.0,1498.2C741.8,1497.9 745.5,1494.5 751.0,1496.0C756.6,1497.5 765.7,1505.6 773.1,1507.0C780.5,1508.5 786.0,1503.4 795.2,1504.8C804.4,1506.3 819.1,1514.4 828.3,1515.9C837.5,1517.3 843.0,1513.7 850.4,1513.7C857.7,1513.7 865.1,1515.9 872.4,1515.9C879.8,1515.9 887.1,1515.5 894.5,1513.7C901.8,1511.8 909.2,1508.2 916.6,1504.8C923.9,1501.5 931.3,1499.0 938.6,1493.8C946.0,1488.7 953.3,1480.9 960.7,1473.9C968.1,1467.0 975.4,1460.0 982.8,1451.9C990.1,1443.8 999.3,1431.3 1004.8,1425.4C1010.4,1419.5 1012.2,1415.8 1015.9,1416.6C1019.6,1417.3 1023.2,1423.9 1026.9,1429.8C1030.6,1435.7 1034.3,1445.3 1037.9,1451.9C1041.6,1458.5 1045.3,1464.7 1049.0,1469.5C1052.7,1474.3 1054.5,1478.0 1060.0,1480.6C1065.5,1483.1 1074.7,1484.6 1082.1,1485.0C1089.4,1485.3 1096.8,1484.2 1104.2,1482.8C1111.5,1481.3 1118.9,1477.6 1126.2,1476.2C1133.6,1474.7 1140.9,1473.2 1148.3,1473.9C1155.7,1474.7 1164.9,1480.0 1170.4,1480.6C1175.9,1481.1 1179.6,1477.8 1181.4,1477.3" stroke="#4DBEEE"/>
<path d="M740.0,1279.7C743.7,1278.6 754.7,1275.7 762.1,1273.1C769.4,1270.5 776.8,1267.2 784.1,1264.3C791.5,1261.3 798.9,1258.4 806.2,1255.4C813.6,1252.5 822.8,1249.2 828.3,1246.6C833.8,1244.0 837.5,1241.1 839.3,1240.0" stroke="#4DBEEE"/>
<path d="M773.1,1259.9C776.8,1261.7 787.8,1265.4 795.2,1270.9C802.5,1276.4 812.5,1286.0 817.2,1293.0C822.0,1300.0 821.3,1306.9 823.9,1312.8C826.4,1318.7 829.4,1324.6 832.7,1328.3C836.0,1332.0 838.9,1336.0 843.7,1334.9C848.5,1333.8 854.8,1325.7 861.4,1321.7C868.0,1317.6 876.1,1313.2 883.5,1310.6C890.8,1308.0 898.2,1307.7 905.5,1306.2C912.9,1304.7 920.2,1304.7 927.6,1301.8C935.0,1298.9 942.3,1290.0 949.7,1288.6C957.0,1287.1 964.4,1291.5 971.7,1293.0C979.1,1294.4 986.5,1296.6 993.8,1297.4C1001.2,1298.1 1008.5,1300.0 1015.9,1297.4C1023.2,1294.8 1030.6,1286.0 1037.9,1281.9C1045.3,1277.9 1052.7,1272.7 1060.0,1273.1C1067.4,1273.5 1074.7,1280.5 1082.1,1284.1C1089.4,1287.8 1096.8,1294.1 1104.2,1295.2C1111.5,1296.3 1118.9,1291.9 1126.2,1290.8C1133.6,1289.7 1140.9,1287.8 1148.3,1288.6C1155.7,1289.3 1164.9,1292.6 1170.4,1295.2C1175.9,1297.8 1179.6,1302.5 1181.4,1304.0" stroke="#4DBEEE"/>
<path d="M740.0,1328.3C743.7,1329.0 752.9,1332.3 762.1,1332.7C771.3,1333.1 786.7,1330.5 795.2,1330.5C803.6,1330.5 807.3,1334.2 812.8,1332.7C818.3,1331.2 822.0,1324.6 828.3,1321.7C834.5,1318.7 843.0,1316.9 850.4,1315.0C857.7,1313.2 865.1,1312.8 872.4,1310.6C879.8,1308.4 887.1,1306.2 894.5,1301.8C901.8,1297.4 909.2,1290.4 916.6,1284.1C923.9,1277.9 931.3,1269.4 938.6,1264.3C946.0,1259.1 953.3,1257.3 960.7,1253.2C968.1,1249.2 979.1,1242.2 982.8,1240.0" stroke="#4DBEEE"/>
<path d="M1049.0,1240.0C1052.7,1243.7 1063.7,1254.7 1071.1,1262.1C1078.4,1269.4 1085.8,1277.2 1093.1,1284.1C1100.5,1291.1 1107.8,1299.6 1115.2,1304.0C1122.5,1308.4 1129.9,1312.8 1137.3,1310.6C1144.6,1308.4 1152.0,1295.9 1159.3,1290.8C1166.7,1285.6 1177.7,1281.6 1181.4,1279.7" stroke="#4DBEEE"/>
<path d="M740.0,1328.3C743.7,1327.5 756.6,1326.1 762.1,1323.9C767.6,1321.7 767.6,1319.1 773.1,1315.0C778.6,1311.0 789.7,1302.5 795.2,1299.6C800.7,1296.6 800.7,1296.3 806.2,1297.4C811.7,1298.5 822.8,1303.3 828.3,1306.2C833.8,1309.2 835.6,1311.4 839.3,1315.0C843.0,1318.7 846.7,1323.5 850.4,1328.3C854.0,1333.1 855.9,1339.3 861.4,1343.7C866.9,1348.1 876.1,1352.6 883.5,1354.8C890.8,1357.0 898.2,1354.0 905.5,1357.0C912.9,1359.9 920.2,1367.6 927.6,1372.4C935.0,1377.2 942.3,1384.6 949.7,1385.7C957.0,1386.8 964.4,1381.6 971.7,1379.0C979.1,1376.5 986.5,1373.2 993.8,1370.2C1001.2,1367.3 1008.5,1364.7 1015.9,1361.4C1023.2,1358.1 1030.6,1353.3 1037.9,1350.4C1045.3,1347.4 1052.7,1343.7 1060.0,1343.7C1067.4,1343.7 1074.7,1348.1 1082.1,1350.4C1089.4,1352.6 1096.8,1354.8 1104.2,1357.0C1111.5,1359.2 1118.9,1361.9 1126.2,1363.6C1133.6,1365.2 1139.1,1366.0 1148.3,1366.9C1157.5,1367.8 1175.9,1368.7 1181.4,1369.1" stroke="#7E2F8E"/>
<path d="M740.0,1240.0C743.7,1241.1 754.7,1244.4 762.1,1246.6C769.4,1248.8 776.8,1250.7 784.1,1253.2C791.5,1255.8 798.9,1260.6 806.2,1262.1C813.6,1263.5 820.9,1263.2 828.3,1262.1C835.6,1261.0 843.0,1257.3 850.4,1255.4C857.7,1253.6 865.1,1252.1 872.4,1251.0C879.8,1249.9 887.1,1248.8 894.5,1248.8C901.8,1248.8 911.0,1249.9 916.6,1251.0C922.1,1252.1 922.1,1255.4 927.6,1255.4C933.1,1255.4 942.3,1253.6 949.7,1251.0C957.0,1248.5 968.1,1241.8 971.7,1240.0" stroke="#7E2F8E"/>
<path d="M740.0,1246.6C743.7,1247.4 754.7,1249.2 762.1,1251.0C769.4,1252.9 776.8,1256.2 784.1,1257.7C791.5,1259.1 798.9,1258.4 806.2,1259.9C813.6,1261.3 820.9,1264.3 828.3,1266.5C835.6,1268.7 843.0,1270.2 850.4,1273.1C857.7,1276.0 865.1,1282.7 872.4,1284.1C879.8,1285.6 887.1,1284.5 894.5,1281.9C901.8,1279.4 909.2,1274.2 916.6,1268.7C923.9,1263.2 931.3,1252.9 938.6,1248.8C946.0,1244.8 953.3,1244.8 960.7,1244.4C968.1,1244.0 975.4,1246.4 982.8,1246.6C990.1,1246.8 997.5,1245.1 1004.8,1245.5C1012.2,1245.9 1019.6,1247.9 1026.9,1248.8C1034.3,1249.7 1041.6,1247.4 1049.0,1251.0C1056.3,1254.7 1063.7,1263.5 1071.1,1270.9C1078.4,1278.3 1085.8,1288.2 1093.1,1295.2C1100.5,1302.2 1107.8,1308.8 1115.2,1312.8C1122.5,1316.9 1129.9,1319.5 1137.3,1319.5C1144.6,1319.5 1152.0,1314.7 1159.3,1312.8C1166.7,1311.0 1177.7,1309.2 1181.4,1308.4" stroke="#D95319"/>
<path d="M740.0,1365.8C743.7,1362.1 756.6,1348.1 762.1,1343.7C767.6,1339.3 767.6,1339.7 773.1,1339.3C778.6,1338.9 787.8,1339.7 795.2,1341.5C802.5,1343.4 811.7,1348.3 817.2,1350.4C822.8,1352.4 824.6,1353.7 828.3,1353.7C832.0,1353.7 835.6,1353.1 839.3,1350.4C843.0,1347.6 844.8,1342.6 850.4,1337.1C855.9,1331.6 865.1,1320.6 872.4,1317.2C879.8,1313.9 887.1,1318.3 894.5,1317.2C901.8,1316.1 909.2,1312.1 916.6,1310.6C923.9,1309.2 931.3,1308.0 938.6,1308.4C946.0,1308.8 953.3,1313.6 960.7,1312.8C968.1,1312.1 975.4,1304.6 982.8,1304.0C990.1,1303.5 999.3,1308.6 1004.8,1309.5C1010.4,1310.4 1012.2,1307.5 1015.9,1309.5C1019.6,1311.5 1023.2,1316.0 1026.9,1321.7C1030.6,1327.4 1034.3,1338.2 1037.9,1343.7C1041.6,1349.2 1043.5,1349.6 1049.0,1354.8C1054.5,1359.9 1065.5,1369.8 1071.1,1374.6C1076.6,1379.4 1078.4,1381.2 1082.1,1383.5C1085.8,1385.7 1087.6,1385.3 1093.1,1387.9C1098.6,1390.4 1107.8,1397.8 1115.2,1398.9C1122.5,1400.0 1129.9,1398.2 1137.3,1394.5C1144.6,1390.8 1152.0,1380.1 1159.3,1376.8C1166.7,1373.5 1177.7,1375.0 1181.4,1374.6" stroke="#D95319"/>
<path d="M740.0,1376.8C743.7,1375.4 754.7,1370.6 762.1,1368.0C769.4,1365.4 776.8,1361.8 784.1,1361.4C791.5,1361.0 798.9,1363.2 806.2,1365.8C813.6,1368.4 820.9,1372.4 828.3,1376.8C835.6,1381.2 843.0,1386.0 850.4,1392.3C857.7,1398.5 865.1,1407.7 872.4,1414.4C879.8,1421.0 887.1,1427.2 894.5,1432.0C901.8,1436.8 909.2,1439.0 916.6,1443.0C923.9,1447.1 931.3,1453.3 938.6,1456.3C946.0,1459.2 953.3,1459.4 960.7,1460.7C968.1,1462.0 975.4,1464.4 982.8,1464.0C990.1,1463.6 997.5,1460.5 1004.8,1458.5C1012.2,1456.5 1019.6,1454.4 1026.9,1451.9C1034.3,1449.3 1041.6,1445.6 1049.0,1443.0C1056.3,1440.5 1063.7,1438.3 1071.1,1436.4C1078.4,1434.6 1085.8,1436.1 1093.1,1432.0C1100.5,1428.0 1107.8,1419.9 1115.2,1412.1C1122.5,1404.4 1129.9,1393.8 1137.3,1385.7C1144.6,1377.6 1152.0,1370.9 1159.3,1363.6C1166.7,1356.2 1177.7,1345.2 1181.4,1341.5" stroke="#D95319"/>
<path d="M740.0,1414.4C743.7,1413.3 754.7,1409.6 762.1,1407.7C769.4,1405.9 776.8,1404.4 784.1,1403.3C791.5,1402.2 798.9,1402.6 806.2,1401.1C813.6,1399.6 820.9,1396.7 828.3,1394.5C835.6,1392.3 843.0,1390.4 850.4,1387.9C857.7,1385.3 866.2,1381.2 872.4,1379.0C878.7,1376.8 883.5,1373.5 887.9,1374.6C892.3,1375.7 896.0,1377.9 898.9,1385.7C901.8,1393.4 901.5,1412.5 905.5,1421.0C909.6,1429.4 917.7,1434.6 923.2,1436.4C928.7,1438.3 932.4,1433.1 938.6,1432.0C944.9,1430.9 953.3,1429.4 960.7,1429.8C968.1,1430.2 975.4,1432.4 982.8,1434.2C990.1,1436.1 997.5,1440.1 1004.8,1440.8C1012.2,1441.6 1019.6,1440.5 1026.9,1438.6C1034.3,1436.8 1041.6,1430.5 1049.0,1429.8C1056.3,1429.1 1063.7,1432.0 1071.1,1434.2C1078.4,1436.4 1085.8,1438.6 1093.1,1443.0C1100.5,1447.5 1107.8,1455.2 1115.2,1460.7C1122.5,1466.2 1129.9,1471.4 1137.3,1476.2C1144.6,1480.9 1152.0,1485.9 1159.3,1489.4C1166.7,1492.9 1177.7,1495.8 1181.4,1497.1" stroke="#D95319"/>
<path d="M740.0,1379.0C743.7,1377.9 754.7,1375.4 762.1,1372.4C769.4,1369.5 776.8,1362.7 784.1,1361.4C791.5,1360.1 798.9,1363.6 806.2,1364.7C813.6,1365.8 820.9,1366.4 828.3,1368.0C835.6,1369.7 843.0,1373.2 850.4,1374.6C857.7,1376.1 865.1,1375.0 872.4,1376.8C879.8,1378.7 887.1,1382.7 894.5,1385.7C901.8,1388.6 909.2,1393.8 916.6,1394.5C923.9,1395.2 931.3,1391.4 938.6,1390.1C946.0,1388.8 953.3,1388.8 960.7,1386.8C968.1,1384.7 975.4,1379.0 982.8,1377.9C990.1,1376.8 997.5,1379.6 1004.8,1380.1C1012.2,1380.7 1019.6,1379.2 1026.9,1381.2C1034.3,1383.3 1041.6,1389.7 1049.0,1392.3C1056.3,1394.9 1063.7,1395.2 1071.1,1396.7C1078.4,1398.2 1085.8,1399.3 1093.1,1401.1C1100.5,1403.0 1109.7,1405.9 1115.2,1407.7C1120.7,1409.6 1120.7,1412.7 1126.2,1412.1C1131.7,1411.6 1139.1,1405.3 1148.3,1404.4C1157.5,1403.5 1175.9,1406.3 1181.4,1406.6" stroke="#A2142F"/>
<path d="M740.0,1306.2C741.8,1309.9 747.4,1322.4 751.0,1328.3C754.7,1334.2 756.6,1337.1 762.1,1341.5C767.6,1345.9 778.6,1350.4 784.1,1354.8C789.7,1359.2 791.5,1360.7 795.2,1368.0C798.9,1375.4 802.5,1388.2 806.2,1398.9C809.9,1409.6 813.6,1423.2 817.2,1432.0C820.9,1440.8 822.8,1446.7 828.3,1451.9C833.8,1457.0 843.0,1460.3 850.4,1462.9C857.7,1465.5 865.1,1465.5 872.4,1467.3C879.8,1469.2 887.1,1472.5 894.5,1473.9C901.8,1475.4 909.2,1476.2 916.6,1476.2C923.9,1476.2 931.3,1474.7 938.6,1473.9C946.0,1473.2 953.3,1472.8 960.7,1471.7C968.1,1470.6 975.4,1468.6 982.8,1467.3C990.1,1466.0 997.5,1464.2 1004.8,1464.0C1012.2,1463.8 1019.6,1467.5 1026.9,1466.2C1034.3,1464.9 1041.6,1462.4 1049.0,1456.3C1056.3,1450.2 1065.5,1437.9 1071.1,1429.8C1076.6,1421.7 1078.4,1415.1 1082.1,1407.7C1085.8,1400.4 1089.4,1391.2 1093.1,1385.7C1096.8,1380.1 1098.6,1376.5 1104.2,1374.6C1109.7,1372.8 1118.9,1373.5 1126.2,1374.6C1133.6,1375.7 1140.9,1377.6 1148.3,1381.2C1155.7,1384.9 1164.9,1393.8 1170.4,1396.7C1175.9,1399.6 1179.6,1398.5 1181.4,1398.9" stroke="#EDB120"/>
<path d="M740.0,1337.1C743.7,1337.8 754.7,1340.4 762.1,1341.5C769.4,1342.6 776.8,1345.2 784.1,1343.7C791.5,1342.3 798.9,1338.2 806.2,1332.7C813.6,1327.2 820.9,1316.1 828.3,1310.6C835.6,1305.1 843.0,1302.2 850.4,1299.6C857.7,1297.0 865.1,1295.4 872.4,1295.2C879.8,1295.0 887.1,1298.5 894.5,1298.5C901.8,1298.5 909.2,1296.1 916.6,1295.2C923.9,1294.3 931.3,1294.4 938.6,1293.0C946.0,1291.5 953.3,1288.9 960.7,1286.3C968.1,1283.8 975.4,1279.4 982.8,1277.5C990.1,1275.7 997.5,1274.6 1004.8,1275.3C1012.2,1276.0 1019.6,1280.1 1026.9,1281.9C1034.3,1283.8 1041.6,1284.5 1049.0,1286.3C1056.3,1288.2 1063.7,1291.1 1071.1,1293.0C1078.4,1294.8 1085.8,1295.9 1093.1,1297.4C1100.5,1298.9 1107.8,1300.7 1115.2,1301.8C1122.5,1302.9 1129.9,1302.5 1137.3,1304.0C1144.6,1305.5 1152.0,1307.7 1159.3,1310.6C1166.7,1313.6 1177.7,1319.8 1181.4,1321.7" stroke="#EDB120"/>
<path d="M740.0,1262.1C743.7,1262.8 754.7,1264.3 762.1,1266.5C769.4,1268.7 776.8,1273.1 784.1,1275.3C791.5,1277.5 798.9,1277.9 806.2,1279.7C813.6,1281.6 820.9,1285.1 828.3,1286.3C835.6,1287.6 843.0,1286.3 850.4,1287.5C857.7,1288.6 865.1,1293.5 872.4,1293.0C879.8,1292.4 887.1,1287.8 894.5,1284.1C901.8,1280.5 909.2,1274.6 916.6,1270.9C923.9,1267.2 931.3,1264.6 938.6,1262.1C946.0,1259.5 953.3,1256.9 960.7,1255.4C968.1,1254.0 975.4,1252.5 982.8,1253.2C990.1,1254.0 997.5,1257.3 1004.8,1259.9C1012.2,1262.4 1019.6,1267.6 1026.9,1268.7C1034.3,1269.8 1041.6,1267.0 1049.0,1266.5C1056.3,1265.9 1063.7,1264.6 1071.1,1265.4C1078.4,1266.1 1085.8,1269.2 1093.1,1270.9C1100.5,1272.6 1107.8,1274.9 1115.2,1275.3C1122.5,1275.7 1129.9,1275.3 1137.3,1273.1C1144.6,1270.9 1152.0,1264.3 1159.3,1262.1C1166.7,1259.9 1177.7,1260.2 1181.4,1259.9" stroke="#77AC30"/>
<path d="M740.0,1299.6C741.8,1297.0 747.4,1290.4 751.0,1284.1C754.7,1277.9 758.4,1268.7 762.1,1262.1C765.7,1255.4 770.5,1248.1 773.1,1244.4C775.7,1240.7 776.8,1240.7 777.5,1240.0" stroke="#77AC30"/>
<path d="M901.1,1240.0C903.7,1244.4 910.3,1257.7 916.6,1266.5C922.8,1275.3 931.3,1284.5 938.6,1293.0C946.0,1301.4 955.2,1310.6 960.7,1317.2C966.2,1323.9 968.1,1327.5 971.7,1332.7C975.4,1337.8 977.3,1343.7 982.8,1348.1C988.3,1352.6 997.5,1355.1 1004.8,1359.2C1012.2,1363.2 1019.6,1369.1 1026.9,1372.4C1034.3,1375.7 1041.6,1379.0 1049.0,1379.0C1056.3,1379.0 1063.7,1376.1 1071.1,1372.4C1078.4,1368.7 1085.8,1362.9 1093.1,1357.0C1100.5,1351.1 1107.8,1343.4 1115.2,1337.1C1122.5,1330.9 1129.9,1325.7 1137.3,1319.5C1144.6,1313.2 1152.0,1306.2 1159.3,1299.6C1166.7,1293.0 1177.7,1283.0 1181.4,1279.7" stroke="#77AC30"/>
<path d="M740.0,1458.5C743.7,1458.7 754.7,1458.1 762.1,1459.6C769.4,1461.1 774.9,1464.6 784.1,1467.3C793.3,1470.1 808.0,1475.4 817.2,1476.2C826.4,1476.9 832.0,1471.7 839.3,1471.7C846.7,1471.7 854.0,1474.7 861.4,1476.2C868.7,1477.6 876.1,1480.2 883.5,1480.6C890.8,1480.9 898.2,1480.6 905.5,1478.4C912.9,1476.2 921.3,1472.5 927.6,1467.3C933.8,1462.2 937.5,1451.5 943.0,1447.5C948.6,1443.4 954.1,1444.9 960.7,1443.0C967.3,1441.2 975.4,1438.6 982.8,1436.4C990.1,1434.2 999.3,1430.5 1004.8,1429.8C1010.4,1429.1 1012.2,1429.8 1015.9,1432.0C1019.6,1434.2 1023.2,1438.6 1026.9,1443.0C1030.6,1447.5 1034.3,1456.3 1037.9,1458.5C1041.6,1460.7 1045.3,1457.0 1049.0,1456.3C1052.7,1455.6 1054.5,1455.2 1060.0,1454.1C1065.5,1453.0 1074.7,1450.4 1082.1,1449.7C1089.4,1448.9 1096.8,1448.9 1104.2,1449.7C1111.5,1450.4 1118.9,1451.1 1126.2,1454.1C1133.6,1457.0 1140.9,1464.4 1148.3,1467.3C1155.7,1470.3 1164.9,1471.0 1170.4,1471.7C1175.9,1472.5 1179.6,1471.7 1181.4,1471.7" stroke="#77AC30"/>
<path d="M1060.0,1240.0C1063.7,1241.5 1074.7,1248.1 1082.1,1248.8C1089.4,1249.6 1096.8,1245.9 1104.2,1244.4C1111.5,1242.9 1122.5,1240.7 1126.2,1240.0" stroke="#0072BD"/>
</g>
<text x="345.2" y="974.2" fill="#ff0000" stroke="#ff0000" stroke-width="0.9">STD 0.09</text>
<text x="850" y="934.7" fill="#000" stroke="#000" stroke-width="0.9">(1,0,0)</text>
<line x1="481.5" y1="1626.5" x2="481.5" y2="1615.0" stroke="#262626" stroke-width="4.8"/>
<line x1="481.5" y1="866.5" x2="481.5" y2="878.0" stroke="#262626" stroke-width="4.8"/>
<line x1="665.9" y1="1626.5" x2="665.9" y2="1615.0" stroke="#262626" stroke-width="4.8"/>
<line x1="665.9" y1="866.5" x2="665.9" y2="878.0" stroke="#262626" stroke-width="4.8"/>
<line x1="850.2" y1="1626.5" x2="850.2" y2="1615.0" stroke="#262626" stroke-width="4.8"/>
<line x1="850.2" y1="866.5" x2="850.2" y2="878.0" stroke="#262626" stroke-width="4.8"/>
<line x1="1034.5" y1="1626.5" x2="1034.5" y2="1615.0" stroke="#262626" stroke-width="4.8"/>
<line x1="1034.5" y1="866.5" x2="1034.5" y2="878.0" stroke="#262626" stroke-width="4.8"/>
<line x1="297.5" y1="866.5" x2="309.0" y2="866.5" stroke="#262626" stroke-width="4.8"/>
<line x1="1182.5" y1="866.5" x2="1171.0" y2="866.5" stroke="#262626" stroke-width="4.8"/>
<line x1="297.5" y1="1056.5" x2="309.0" y2="1056.5" stroke="#262626" stroke-width="4.8"/>
<line x1="1182.5" y1="1056.5" x2="1171.0" y2="1056.5" stroke="#262626" stroke-width="4.8"/>
<line x1="297.5" y1="1246.5" x2="309.0" y2="1246.5" stroke="#262626" stroke-width="4.8"/>
<line x1="1182.5" y1="1246.5" x2="1171.0" y2="1246.5" stroke="#262626" stroke-width="4.8"/>
<line x1="297.5" y1="1436.5" x2="309.0" y2="1436.5" stroke="#262626" stroke-width="4.8"/>
<line x1="1182.5" y1="1436.5" x2="1171.0" y2="1436.5" stroke="#262626" stroke-width="4.8"/>
<line x1="297.5" y1="1626.5" x2="309.0" y2="1626.5" stroke="#262626" stroke-width="4.8"/>
<line x1="1182.5" y1="1626.5" x2="1171.0" y2="1626.5" stroke="#262626" stroke-width="4.8"/>
<rect x="297.5" y="866.5" width="885.0" height="760.0" fill="none" stroke="#262626" stroke-width="5" stroke-linejoin="miter"/>
<clipPath id="clipBR"><rect x="1194.5" y="866.5" width="891.5" height="754.0"/></clipPath>
<line x1="1380.4" y1="866.5" x2="1380.4" y2="1620.5" stroke="#dfdfdf" stroke-width="4.8"/>
<line x1="1566.1" y1="866.5" x2="1566.1" y2="1620.5" stroke="#dfdfdf" stroke-width="4.8"/>
<line x1="1751.8" y1="866.5" x2="1751.8" y2="1620.5" stroke="#dfdfdf" stroke-width="4.8"/>
<line x1="1937.5" y1="866.5" x2="1937.5" y2="1620.5" stroke="#dfdfdf" stroke-width="4.8"/>
<line x1="1194.5" y1="1055.0" x2="2086.0" y2="1055.0" stroke="#dfdfdf" stroke-width="4.8"/>
<line x1="1194.5" y1="1243.5" x2="2086.0" y2="1243.5" stroke="#dfdfdf" stroke-width="4.8"/>
<line x1="1194.5" y1="1432.0" x2="2086.0" y2="1432.0" stroke="#dfdfdf" stroke-width="4.8"/>
<g clip-path="url(#clipBR)" fill="none" stroke-width="4.8" stroke-linejoin="round" stroke-linecap="round">
<path d="M1202.8,1086.4C1205.0,1079.4 1212.0,1056.6 1216.1,1044.5C1220.1,1032.4 1223.4,1022.8 1227.1,1013.6C1230.8,1004.4 1232.6,997.8 1238.1,989.3C1243.7,980.9 1252.9,972.0 1260.2,962.8C1267.6,953.6 1276.8,942.2 1282.3,934.1C1287.8,926.0 1289.6,919.8 1293.3,914.3C1297.0,908.8 1300.7,904.0 1304.4,901.0C1308.0,898.1 1311.0,896.3 1315.4,896.6C1319.8,897.0 1325.3,898.8 1330.8,903.2C1336.4,907.7 1342.6,915.0 1348.5,923.1C1354.4,931.2 1361.4,942.6 1366.1,951.8C1370.9,961.0 1373.5,969.1 1377.2,978.3C1380.9,987.5 1383.8,1001.1 1388.2,1007.0C1392.6,1012.9 1398.5,1011.8 1403.7,1013.6C1408.8,1015.4 1415.1,1015.8 1419.1,1018.0C1423.2,1020.2 1425.0,1022.4 1427.9,1026.8C1430.9,1031.2 1433.8,1036.0 1436.8,1044.5C1439.7,1053.0 1442.7,1066.6 1445.6,1077.6C1448.5,1088.6 1451.1,1099.7 1454.4,1110.7C1457.7,1121.7 1461.0,1135.3 1465.5,1143.8C1469.9,1152.3 1474.7,1157.8 1480.9,1161.5C1487.2,1165.1 1495.6,1165.5 1503.0,1165.9C1510.3,1166.2 1517.7,1161.8 1525.1,1163.7C1532.4,1165.5 1539.8,1171.8 1547.1,1176.9C1554.5,1182.1 1565.5,1191.6 1569.2,1194.6" stroke="#77AC30"/>
<path d="M1202.8,1059.9C1205.0,1058.5 1210.2,1054.1 1216.1,1051.1C1222.0,1048.2 1230.8,1044.1 1238.1,1042.3C1245.5,1040.4 1252.9,1040.6 1260.2,1040.1C1267.6,1039.5 1274.9,1039.0 1282.3,1039.0C1289.6,1039.0 1298.8,1037.7 1304.4,1040.1C1309.9,1042.5 1311.7,1048.2 1315.4,1053.3C1319.1,1058.5 1320.9,1065.5 1326.4,1071.0C1331.9,1076.5 1341.1,1084.6 1348.5,1086.4C1355.8,1088.3 1363.2,1084.2 1370.6,1082.0C1377.9,1079.8 1385.3,1076.5 1392.6,1073.2C1400.0,1069.9 1409.2,1064.7 1414.7,1062.1C1420.2,1059.6 1422.1,1061.4 1425.7,1057.7C1429.4,1054.1 1431.3,1044.1 1436.8,1040.1C1442.3,1036.0 1451.5,1033.5 1458.8,1033.5C1466.2,1033.5 1473.6,1037.5 1480.9,1040.1C1488.3,1042.7 1495.6,1046.7 1503.0,1048.9C1510.3,1051.1 1517.7,1052.6 1525.1,1053.3C1532.4,1054.1 1539.8,1051.5 1547.1,1053.3C1554.5,1055.2 1561.8,1058.5 1569.2,1064.4C1576.5,1070.2 1583.9,1082.0 1591.3,1088.6C1598.6,1095.3 1606.0,1101.1 1613.3,1104.1C1620.7,1107.0 1630.3,1106.1 1635.4,1106.3C1640.5,1106.5 1642.6,1105.4 1644.0,1105.2" stroke="#77AC30"/>
<path d="M1580.2,1200.1C1583.9,1196.2 1594.9,1184.8 1602.3,1176.9C1609.7,1169.0 1617.4,1161.8 1624.4,1152.6C1631.3,1143.4 1640.7,1126.9 1644.0,1121.7" stroke="#77AC30"/>
<path d="M1207.2,1099.7C1210.6,1088.6 1220.1,1051.1 1227.1,1033.5C1234.1,1015.8 1242.6,1003.3 1249.2,993.7C1255.8,984.2 1262.0,978.3 1266.8,976.1C1271.6,973.9 1274.2,975.3 1277.9,980.5C1281.5,985.6 1284.5,998.5 1288.9,1007.0C1293.3,1015.4 1299.9,1024.3 1304.4,1031.2C1308.8,1038.2 1311.7,1044.1 1315.4,1048.9C1319.1,1053.7 1320.9,1057.7 1326.4,1059.9C1331.9,1062.1 1343.0,1062.1 1348.5,1062.1C1354.0,1062.1 1355.8,1058.5 1359.5,1059.9C1363.2,1061.4 1366.9,1070.2 1370.6,1071.0C1374.2,1071.7 1377.9,1065.5 1381.6,1064.4C1385.3,1063.3 1389.0,1063.3 1392.6,1064.4C1396.3,1065.5 1398.1,1068.0 1403.7,1071.0C1409.2,1073.9 1418.4,1079.1 1425.7,1082.0C1433.1,1085.0 1440.5,1083.8 1447.8,1088.6C1455.2,1093.4 1464.4,1105.9 1469.9,1110.7C1475.4,1115.5 1479.1,1116.2 1480.9,1117.3" stroke="#7E2F8E"/>
<path d="M1202.8,1082.0C1205.0,1080.9 1210.2,1077.6 1216.1,1075.4C1222.0,1073.2 1230.8,1067.3 1238.1,1068.8C1245.5,1070.2 1252.9,1080.2 1260.2,1084.2C1267.6,1088.3 1274.9,1091.9 1282.3,1093.0C1289.6,1094.1 1297.0,1091.2 1304.4,1090.8C1311.7,1090.5 1319.1,1089.7 1326.4,1090.8C1333.8,1091.9 1341.1,1096.7 1348.5,1097.5C1355.8,1098.2 1363.2,1095.6 1370.6,1095.3C1377.9,1094.9 1385.3,1095.6 1392.6,1095.3C1400.0,1094.9 1407.3,1094.1 1414.7,1093.0C1422.1,1091.9 1429.4,1088.6 1436.8,1088.6C1444.1,1088.6 1455.2,1092.3 1458.8,1093.0" stroke="#7E2F8E"/>
<path d="M1202.8,1108.5C1205.0,1105.2 1212.0,1092.3 1216.1,1088.6C1220.1,1085.0 1221.6,1086.8 1227.1,1086.4C1232.6,1086.1 1241.8,1085.7 1249.2,1086.4C1256.5,1087.2 1263.9,1089.0 1271.2,1090.8C1278.6,1092.7 1286.0,1096.0 1293.3,1097.5C1300.7,1098.9 1308.0,1100.0 1315.4,1099.7C1322.7,1099.3 1330.1,1097.1 1337.5,1095.3C1344.8,1093.4 1355.8,1089.7 1359.5,1088.6" stroke="#7E2F8E"/>
<path d="M1238.1,1115.1C1240.0,1115.5 1243.7,1119.2 1249.2,1117.3C1254.7,1115.5 1263.9,1109.6 1271.2,1104.1C1278.6,1098.6 1286.0,1091.2 1293.3,1084.2C1300.7,1077.2 1308.0,1069.1 1315.4,1062.1C1322.7,1055.2 1330.1,1047.4 1337.5,1042.3C1344.8,1037.1 1352.2,1034.4 1359.5,1031.2C1366.9,1028.1 1374.2,1023.9 1381.6,1023.5C1389.0,1023.2 1396.3,1027.0 1403.7,1029.0C1411.0,1031.1 1420.2,1034.9 1425.7,1035.7C1431.3,1036.4 1433.1,1029.8 1436.8,1033.5C1440.5,1037.1 1444.1,1049.6 1447.8,1057.7C1451.5,1065.8 1455.2,1073.2 1458.8,1082.0C1462.5,1090.8 1466.9,1104.4 1469.9,1110.7C1472.8,1117.0 1472.8,1119.5 1476.5,1119.5C1480.2,1119.5 1485.7,1115.9 1491.9,1110.7C1498.2,1105.6 1506.7,1096.0 1514.0,1088.6C1521.4,1081.3 1529.8,1073.2 1536.1,1066.6C1542.3,1059.9 1546.0,1052.2 1551.5,1048.9C1557.1,1045.6 1562.6,1049.3 1569.2,1046.7C1575.8,1044.1 1585.7,1037.1 1591.3,1033.5C1596.8,1029.8 1596.8,1027.6 1602.3,1024.6C1607.8,1021.7 1617.4,1016.5 1624.4,1015.8C1631.3,1015.1 1640.7,1019.5 1644.0,1020.2" stroke="#7E2F8E"/>
<path d="M1491.9,1110.7C1495.6,1109.2 1506.7,1104.1 1514.0,1101.9C1521.4,1099.7 1530.6,1098.2 1536.1,1097.5C1541.6,1096.7 1541.6,1096.7 1547.1,1097.5C1552.6,1098.2 1561.8,1098.9 1569.2,1101.9C1576.5,1104.8 1583.9,1110.7 1591.3,1115.1C1598.6,1119.5 1606.0,1124.3 1613.3,1128.4C1620.7,1132.4 1631.7,1137.6 1635.4,1139.4" stroke="#7E2F8E"/>
<path d="M1525.1,1126.2C1526.9,1125.0 1530.6,1121.0 1536.1,1119.5C1541.6,1118.1 1550.8,1117.7 1558.2,1117.3C1565.5,1117.0 1572.9,1118.1 1580.2,1117.3C1587.6,1116.6 1596.8,1118.8 1602.3,1112.9C1607.8,1107.0 1609.7,1091.6 1613.3,1082.0C1617.0,1072.4 1620.7,1059.2 1624.4,1055.5C1628.0,1051.8 1632.1,1057.7 1635.4,1059.9C1638.7,1062.1 1642.6,1067.3 1644.0,1068.8" stroke="#7E2F8E"/>
<path d="M1602.3,1031.2C1606.0,1029.8 1617.4,1023.2 1624.4,1022.4C1631.3,1021.7 1640.7,1026.1 1644.0,1026.8" stroke="#7E2F8E"/>
<path d="M1304.4,1141.6C1308.0,1143.8 1319.1,1149.7 1326.4,1154.8C1333.8,1160.0 1341.1,1167.0 1348.5,1172.5C1355.8,1178.0 1363.2,1183.5 1370.6,1187.9C1377.9,1192.4 1389.0,1197.1 1392.6,1199.0" stroke="#7E2F8E"/>
<path d="M1469.9,1199.0C1473.6,1194.6 1484.6,1181.7 1491.9,1172.5C1499.3,1163.3 1508.5,1151.2 1514.0,1143.8C1519.5,1136.5 1523.2,1130.9 1525.1,1128.4" stroke="#7E2F8E"/>
<path d="M1202.8,1075.4C1205.0,1072.4 1210.2,1062.9 1216.1,1057.7C1222.0,1052.6 1230.8,1050.0 1238.1,1044.5C1245.5,1039.0 1251.0,1029.0 1260.2,1024.6C1269.4,1020.2 1284.1,1019.8 1293.3,1018.0C1302.5,1016.2 1309.9,1014.7 1315.4,1013.6C1320.9,1012.5 1322.7,1009.9 1326.4,1011.4C1330.1,1012.9 1333.0,1017.6 1337.5,1022.4C1341.9,1027.2 1347.4,1033.5 1352.9,1040.1C1358.4,1046.7 1364.7,1056.6 1370.6,1062.1C1376.4,1067.7 1380.9,1069.5 1388.2,1073.2C1395.6,1076.9 1406.6,1082.0 1414.7,1084.2C1422.8,1086.4 1429.4,1088.3 1436.8,1086.4C1444.1,1084.6 1451.5,1075.0 1458.8,1073.2C1466.2,1071.3 1473.6,1074.7 1480.9,1075.4C1488.3,1076.1 1495.6,1076.1 1503.0,1077.6C1510.3,1079.1 1519.5,1080.2 1525.1,1084.2C1530.6,1088.3 1532.4,1093.8 1536.1,1101.9C1539.8,1110.0 1543.4,1123.9 1547.1,1132.8C1550.8,1141.6 1554.5,1148.2 1558.2,1154.8C1561.8,1161.5 1563.7,1168.5 1569.2,1172.5C1574.7,1176.5 1585.7,1179.1 1591.3,1179.1C1596.8,1179.1 1598.6,1174.7 1602.3,1172.5C1606.0,1170.3 1611.5,1167.0 1613.3,1165.9" stroke="#D95319"/>
<path d="M1308.8,1200.1C1309.9,1196.2 1312.4,1186.3 1315.4,1176.9C1318.3,1167.5 1322.7,1154.8 1326.4,1143.8C1330.1,1132.8 1333.8,1121.0 1337.5,1110.7C1341.1,1100.4 1343.0,1090.5 1348.5,1082.0C1354.0,1073.6 1363.2,1065.5 1370.6,1059.9C1377.9,1054.4 1385.3,1052.6 1392.6,1048.9C1400.0,1045.2 1409.2,1042.3 1414.7,1037.9C1420.2,1033.5 1422.1,1026.5 1425.7,1022.4C1429.4,1018.4 1431.3,1016.9 1436.8,1013.6C1442.3,1010.3 1451.5,1005.1 1458.8,1002.6C1466.2,1000.0 1475.4,999.2 1480.9,998.1C1486.4,997.0 1487.5,994.1 1491.9,995.9C1496.4,997.8 1501.9,1007.0 1507.4,1009.2C1512.9,1011.4 1518.4,1007.3 1525.1,1009.2C1531.7,1011.0 1539.8,1014.3 1547.1,1020.2C1554.5,1026.1 1561.8,1036.8 1569.2,1044.5C1576.5,1052.2 1583.9,1060.7 1591.3,1066.6C1598.6,1072.4 1606.0,1075.8 1613.3,1079.8C1620.7,1083.8 1630.3,1088.6 1635.4,1090.8C1640.5,1093.0 1642.6,1092.7 1644.0,1093.0" stroke="#D95319"/>
<path d="M1202.8,1101.9C1203.6,1103.3 1205.0,1103.7 1207.2,1110.7C1209.4,1117.7 1213.5,1132.8 1216.1,1143.8C1218.6,1154.8 1220.9,1167.5 1222.7,1176.9C1224.5,1186.3 1226.4,1196.2 1227.1,1200.1" stroke="#D95319"/>
<path d="M1202.8,1101.9C1205.0,1101.5 1210.9,1101.5 1216.1,1099.7C1221.2,1097.8 1228.2,1089.4 1233.7,1090.8C1239.2,1092.3 1242.9,1103.0 1249.2,1108.5C1255.4,1114.0 1263.9,1120.3 1271.2,1123.9C1278.6,1127.6 1286.0,1130.6 1293.3,1130.6C1300.7,1130.6 1308.0,1126.5 1315.4,1123.9C1322.7,1121.4 1330.1,1118.8 1337.5,1115.1C1344.8,1111.4 1352.2,1105.9 1359.5,1101.9C1366.9,1097.8 1374.2,1093.0 1381.6,1090.8C1389.0,1088.6 1396.3,1089.2 1403.7,1088.6C1411.0,1088.1 1418.4,1086.4 1425.7,1087.5C1433.1,1088.6 1440.5,1094.3 1447.8,1095.3C1455.2,1096.2 1462.5,1093.8 1469.9,1093.0C1477.2,1092.3 1484.6,1089.4 1491.9,1090.8C1499.3,1092.3 1506.7,1096.4 1514.0,1101.9C1521.4,1107.4 1528.7,1117.7 1536.1,1123.9C1543.4,1130.2 1550.8,1135.7 1558.2,1139.4C1565.5,1143.1 1572.9,1142.7 1580.2,1146.0C1587.6,1149.3 1594.9,1157.8 1602.3,1159.3C1609.7,1160.7 1617.4,1154.8 1624.4,1154.8C1631.3,1154.8 1640.7,1158.5 1644.0,1159.3" stroke="#A2142F"/>
<path d="M1202.8,1160.4C1206.9,1160.9 1219.4,1162.0 1227.1,1163.7C1234.8,1165.3 1241.8,1168.1 1249.2,1170.3C1256.5,1172.5 1265.7,1177.6 1271.2,1176.9C1276.8,1176.2 1278.6,1171.0 1282.3,1165.9C1286.0,1160.7 1289.6,1152.6 1293.3,1146.0C1297.0,1139.4 1300.7,1130.2 1304.4,1126.2C1308.0,1122.1 1311.7,1122.1 1315.4,1121.7C1319.1,1121.4 1324.6,1123.6 1326.4,1123.9" stroke="#A2142F"/>
<path d="M1337.5,1150.4C1341.1,1153.0 1352.2,1163.7 1359.5,1165.9C1366.9,1168.1 1374.2,1165.1 1381.6,1163.7C1389.0,1162.2 1396.3,1158.2 1403.7,1157.0C1411.0,1155.9 1420.2,1155.6 1425.7,1157.0C1431.3,1158.5 1433.1,1161.5 1436.8,1165.9C1440.5,1170.3 1444.1,1177.8 1447.8,1183.5C1451.5,1189.2 1457.0,1197.3 1458.8,1200.1" stroke="#A2142F"/>
<path d="M1202.8,1117.3C1206.9,1114.7 1219.4,1106.7 1227.1,1101.9C1234.8,1097.1 1241.8,1091.6 1249.2,1088.6C1256.5,1085.7 1262.0,1085.0 1271.2,1084.2C1280.4,1083.5 1297.0,1081.6 1304.4,1084.2C1311.7,1086.8 1311.7,1093.4 1315.4,1099.7C1319.1,1105.9 1323.8,1114.4 1326.4,1121.7C1329.0,1129.1 1329.0,1136.5 1330.8,1143.8C1332.7,1151.2 1334.5,1156.5 1337.5,1165.9C1340.4,1175.3 1346.7,1194.4 1348.5,1200.1" stroke="#0072BD"/>
<path d="M1202.8,1110.7C1205.0,1103.3 1211.3,1076.1 1216.1,1066.6C1220.9,1057.0 1226.0,1052.6 1231.5,1053.3C1237.0,1054.1 1242.6,1064.4 1249.2,1071.0C1255.8,1077.6 1263.9,1085.7 1271.2,1093.0C1278.6,1100.4 1286.0,1109.2 1293.3,1115.1C1300.7,1121.0 1308.0,1125.4 1315.4,1128.4C1322.7,1131.3 1330.1,1133.5 1337.5,1132.8C1344.8,1132.0 1352.2,1126.9 1359.5,1123.9C1366.9,1121.0 1374.2,1118.8 1381.6,1115.1C1389.0,1111.4 1396.3,1105.6 1403.7,1101.9C1411.0,1098.2 1418.4,1091.6 1425.7,1093.0C1433.1,1094.5 1440.5,1106.3 1447.8,1110.7C1455.2,1115.1 1462.5,1118.8 1469.9,1119.5C1477.2,1120.3 1484.6,1115.5 1491.9,1115.1C1499.3,1114.7 1506.7,1115.9 1514.0,1117.3C1521.4,1118.8 1528.7,1123.6 1536.1,1123.9C1543.4,1124.3 1550.8,1119.9 1558.2,1119.5C1565.5,1119.2 1572.9,1123.2 1580.2,1121.7C1587.6,1120.3 1594.9,1115.1 1602.3,1110.7C1609.7,1106.3 1617.4,1098.9 1624.4,1095.3C1631.3,1091.6 1640.7,1089.7 1644.0,1088.6" stroke="#0072BD"/>
<path d="M1315.4,1199.0C1319.1,1196.0 1330.1,1186.5 1337.5,1181.3C1344.8,1176.2 1352.2,1170.7 1359.5,1168.1C1366.9,1165.5 1374.2,1164.4 1381.6,1165.9C1389.0,1167.3 1396.3,1174.7 1403.7,1176.9C1411.0,1179.1 1418.4,1181.0 1425.7,1179.1C1433.1,1177.3 1440.5,1171.8 1447.8,1165.9C1455.2,1160.0 1462.5,1150.4 1469.9,1143.8C1477.2,1137.2 1484.6,1129.8 1491.9,1126.2C1499.3,1122.5 1506.7,1121.7 1514.0,1121.7C1521.4,1121.7 1528.7,1126.2 1536.1,1126.2C1543.4,1126.2 1550.8,1121.4 1558.2,1121.7C1565.5,1122.1 1572.9,1124.7 1580.2,1128.4C1587.6,1132.0 1594.9,1140.1 1602.3,1143.8C1609.7,1147.5 1617.4,1149.0 1624.4,1150.4C1631.3,1151.9 1640.7,1152.3 1644.0,1152.6" stroke="#0072BD"/>
<path d="M1375.0,1200.1C1379.8,1197.0 1393.4,1187.4 1403.7,1181.3C1414.0,1175.3 1427.6,1168.1 1436.8,1163.7C1446.0,1159.3 1451.5,1154.1 1458.8,1154.8C1466.2,1155.6 1475.4,1162.9 1480.9,1168.1C1486.4,1173.2 1486.4,1180.6 1491.9,1185.7C1497.5,1190.9 1510.3,1196.8 1514.0,1199.0" stroke="#0072BD"/>
<path d="M1207.2,1117.3C1210.6,1119.9 1220.1,1127.3 1227.1,1132.8C1234.1,1138.3 1241.8,1145.6 1249.2,1150.4C1256.5,1155.2 1263.9,1158.5 1271.2,1161.5C1278.6,1164.4 1286.0,1167.3 1293.3,1168.1C1300.7,1168.8 1308.0,1167.3 1315.4,1165.9C1322.7,1164.4 1330.1,1160.7 1337.5,1159.3C1344.8,1157.8 1352.2,1159.6 1359.5,1157.0C1366.9,1154.5 1374.2,1149.7 1381.6,1143.8C1389.0,1137.9 1396.3,1129.1 1403.7,1121.7C1411.0,1114.4 1418.4,1104.8 1425.7,1099.7C1433.1,1094.5 1440.5,1092.3 1447.8,1090.8C1455.2,1089.4 1462.5,1089.0 1469.9,1090.8C1477.2,1092.7 1484.6,1097.1 1491.9,1101.9C1499.3,1106.7 1506.7,1115.1 1514.0,1119.5C1521.4,1123.9 1528.7,1125.8 1536.1,1128.4C1543.4,1130.9 1550.8,1133.5 1558.2,1135.0C1565.5,1136.5 1572.9,1137.6 1580.2,1137.2C1587.6,1136.8 1594.9,1130.9 1602.3,1132.8C1609.7,1134.6 1617.4,1143.1 1624.4,1148.2C1631.3,1153.4 1640.7,1161.1 1644.0,1163.7" stroke="#EDB120"/>
<path d="M1227.1,1194.6C1228.9,1193.1 1232.6,1187.9 1238.1,1185.7C1243.7,1183.5 1254.7,1180.6 1260.2,1181.3C1265.7,1182.1 1265.7,1189.8 1271.2,1190.2C1276.8,1190.5 1287.8,1182.8 1293.3,1183.5C1298.8,1184.3 1302.5,1192.7 1304.4,1194.6" stroke="#EDB120"/>
<path d="M1207.2,1088.6C1210.6,1092.3 1222.0,1103.3 1227.1,1110.7C1232.3,1118.1 1232.6,1125.4 1238.1,1132.8C1243.7,1140.1 1252.9,1149.0 1260.2,1154.8C1267.6,1160.7 1274.9,1165.5 1282.3,1168.1C1289.6,1170.7 1297.0,1170.7 1304.4,1170.3C1311.7,1169.9 1319.1,1168.1 1326.4,1165.9C1333.8,1163.7 1339.3,1159.3 1348.5,1157.0C1357.7,1154.8 1372.4,1151.5 1381.6,1152.6C1390.8,1153.7 1396.3,1163.3 1403.7,1163.7C1411.0,1164.0 1418.4,1159.3 1425.7,1154.8C1433.1,1150.4 1438.6,1141.6 1447.8,1137.2C1457.0,1132.8 1469.9,1130.9 1480.9,1128.4C1491.9,1125.8 1504.8,1121.7 1514.0,1121.7C1523.2,1121.7 1528.7,1125.8 1536.1,1128.4C1543.4,1130.9 1550.8,1134.2 1558.2,1137.2C1565.5,1140.1 1574.7,1142.3 1580.2,1146.0C1585.7,1149.7 1587.6,1153.0 1591.3,1159.3C1594.9,1165.5 1599.4,1176.7 1602.3,1183.5C1605.2,1190.3 1607.8,1197.3 1608.9,1200.1" stroke="#4DBEEE"/>
<path d="M1202.8,1236.3C1205.0,1238.9 1210.2,1245.9 1216.1,1251.8C1222.0,1257.7 1230.8,1269.5 1238.1,1271.7C1245.5,1273.9 1252.9,1268.7 1260.2,1265.0C1267.6,1261.4 1274.9,1251.8 1282.3,1249.6C1289.6,1247.4 1297.0,1252.2 1304.4,1251.8C1311.7,1251.4 1319.1,1248.9 1326.4,1247.4C1333.8,1245.9 1341.1,1247.0 1348.5,1243.0C1355.8,1238.9 1363.2,1230.8 1370.6,1223.1C1377.9,1215.4 1387.8,1202.1 1392.6,1196.6C1397.4,1191.1 1398.1,1191.1 1399.3,1190.0" stroke="#0072BD"/>
<path d="M1202.8,1315.8C1206.9,1310.7 1219.4,1291.9 1227.1,1284.9C1234.8,1277.9 1243.7,1276.4 1249.2,1273.9C1254.7,1271.3 1254.7,1274.6 1260.2,1269.5C1265.7,1264.3 1274.9,1252.5 1282.3,1243.0C1289.6,1233.4 1297.7,1220.9 1304.4,1212.1C1311.0,1203.2 1319.1,1193.7 1322.0,1190.0" stroke="#0072BD"/>
<path d="M1202.8,1344.5C1206.9,1341.5 1219.4,1333.5 1227.1,1326.8C1234.8,1320.2 1243.7,1310.3 1249.2,1304.8C1254.7,1299.2 1256.5,1296.3 1260.2,1293.7C1263.9,1291.2 1267.6,1287.5 1271.2,1289.3C1274.9,1291.2 1278.6,1300.0 1282.3,1304.8C1286.0,1309.5 1287.8,1315.1 1293.3,1318.0C1298.8,1320.9 1308.8,1320.6 1315.4,1322.4C1322.0,1324.3 1327.5,1329.8 1333.0,1329.0C1338.6,1328.3 1342.2,1322.1 1348.5,1318.0C1354.7,1314.0 1363.2,1308.4 1370.6,1304.8C1377.9,1301.1 1385.3,1297.4 1392.6,1295.9C1400.0,1294.5 1407.3,1294.1 1414.7,1295.9C1422.1,1297.8 1429.4,1302.9 1436.8,1307.0C1444.1,1311.0 1451.5,1315.8 1458.8,1320.2C1466.2,1324.6 1473.6,1329.4 1480.9,1333.5C1488.3,1337.5 1495.6,1339.7 1503.0,1344.5C1510.3,1349.3 1517.7,1358.1 1525.1,1362.1C1532.4,1366.2 1539.8,1368.8 1547.1,1368.8C1554.5,1368.8 1561.8,1365.5 1569.2,1362.1C1576.5,1358.8 1583.9,1354.8 1591.3,1348.9C1598.6,1343.0 1607.8,1331.6 1613.3,1326.8C1618.9,1322.1 1619.3,1320.2 1624.4,1320.2C1629.5,1320.2 1640.7,1325.7 1644.0,1326.8" stroke="#0072BD"/>
<path d="M1344.1,1190.0C1345.5,1192.2 1350.0,1199.6 1352.9,1203.2C1355.8,1206.9 1357.0,1213.5 1361.7,1212.1C1366.5,1210.6 1378.3,1197.4 1381.6,1194.4" stroke="#0072BD"/>
<path d="M1491.9,1190.0C1493.8,1197.4 1499.3,1221.3 1503.0,1234.1C1506.7,1247.0 1510.3,1256.9 1514.0,1267.2C1517.7,1277.5 1521.4,1288.2 1525.1,1295.9C1528.7,1303.7 1532.4,1308.4 1536.1,1313.6C1539.8,1318.7 1543.4,1322.4 1547.1,1326.8C1550.8,1331.2 1552.6,1337.1 1558.2,1340.1C1563.7,1343.0 1572.9,1343.4 1580.2,1344.5C1587.6,1345.6 1594.9,1346.3 1602.3,1346.7C1609.7,1347.1 1620.7,1346.7 1624.4,1346.7" stroke="#0072BD"/>
<path d="M1414.7,1190.0C1418.4,1191.5 1429.4,1196.6 1436.8,1198.8C1444.1,1201.0 1451.5,1204.0 1458.8,1203.2C1466.2,1202.5 1473.6,1196.6 1480.9,1194.4C1488.3,1192.2 1499.3,1190.7 1503.0,1190.0" stroke="#0072BD"/>
<path d="M1503.0,1192.2C1506.7,1193.7 1517.7,1198.5 1525.1,1201.0C1532.4,1203.6 1539.8,1205.8 1547.1,1207.7C1554.5,1209.5 1561.8,1212.8 1569.2,1212.1C1576.5,1211.3 1587.6,1204.7 1591.3,1203.2" stroke="#0072BD"/>
<path d="M1602.3,1207.7C1606.0,1211.3 1617.4,1227.2 1624.4,1229.7C1631.3,1232.3 1640.7,1224.2 1644.0,1223.1" stroke="#0072BD"/>
<path d="M1227.1,1190.0C1228.9,1195.5 1234.5,1213.9 1238.1,1223.1C1241.8,1232.3 1245.5,1239.3 1249.2,1245.2C1252.9,1251.1 1256.5,1255.1 1260.2,1258.4C1263.9,1261.7 1266.8,1265.4 1271.2,1265.0C1275.7,1264.7 1281.9,1261.4 1286.7,1256.2C1291.5,1251.1 1296.3,1241.5 1299.9,1234.1C1303.6,1226.8 1306.6,1219.4 1308.8,1212.1C1311.0,1204.7 1312.4,1193.7 1313.2,1190.0" stroke="#D95319"/>
<path d="M1202.8,1287.1C1204.3,1282.7 1207.6,1267.2 1211.7,1260.6C1215.7,1254.0 1220.9,1250.7 1227.1,1247.4C1233.4,1244.1 1241.8,1241.9 1249.2,1240.8C1256.5,1239.7 1263.9,1239.7 1271.2,1240.8C1278.6,1241.9 1286.0,1244.8 1293.3,1247.4C1300.7,1250.0 1308.0,1252.2 1315.4,1256.2C1322.7,1260.3 1330.1,1265.0 1337.5,1271.7C1344.8,1278.3 1352.2,1288.2 1359.5,1295.9C1366.9,1303.7 1374.2,1308.8 1381.6,1318.0C1389.0,1327.2 1398.1,1344.1 1403.7,1351.1C1409.2,1358.1 1409.2,1360.3 1414.7,1359.9C1420.2,1359.6 1429.4,1351.1 1436.8,1348.9C1444.1,1346.7 1451.5,1347.8 1458.8,1346.7C1466.2,1345.6 1473.6,1344.5 1480.9,1342.3C1488.3,1340.1 1495.6,1338.6 1503.0,1333.5C1510.3,1328.3 1517.7,1317.6 1525.1,1311.4C1532.4,1305.1 1539.8,1301.8 1547.1,1295.9C1554.5,1290.1 1561.8,1282.7 1569.2,1276.1C1576.5,1269.5 1583.9,1261.0 1591.3,1256.2C1598.6,1251.4 1607.8,1245.5 1613.3,1247.4C1618.9,1249.2 1619.3,1262.8 1624.4,1267.2C1629.5,1271.7 1640.7,1272.8 1644.0,1273.9" stroke="#D95319"/>
<path d="M1202.8,1362.1C1206.9,1362.5 1219.4,1365.8 1227.1,1364.4C1234.8,1362.9 1241.8,1353.0 1249.2,1353.3C1256.5,1353.7 1263.9,1362.1 1271.2,1366.6C1278.6,1371.0 1286.0,1372.8 1293.3,1379.8C1300.7,1386.8 1308.0,1403.3 1315.4,1408.5C1322.7,1413.6 1330.1,1413.3 1337.5,1410.7C1344.8,1408.1 1352.2,1397.1 1359.5,1393.0C1366.9,1389.0 1374.2,1387.9 1381.6,1386.4C1389.0,1385.0 1396.3,1385.3 1403.7,1384.2C1411.0,1383.1 1418.4,1382.7 1425.7,1379.8C1433.1,1376.9 1440.5,1370.2 1447.8,1366.6C1455.2,1362.9 1462.5,1358.8 1469.9,1357.7C1477.2,1356.6 1484.6,1359.2 1491.9,1359.9C1499.3,1360.7 1510.3,1361.8 1514.0,1362.1" stroke="#D95319"/>
<path d="M1202.8,1320.2C1206.9,1322.4 1219.4,1332.4 1227.1,1333.5C1234.8,1334.6 1241.8,1328.3 1249.2,1326.8C1256.5,1325.4 1263.9,1325.7 1271.2,1324.6C1278.6,1323.5 1286.0,1321.7 1293.3,1320.2C1300.7,1318.7 1308.0,1317.6 1315.4,1315.8C1322.7,1314.0 1330.1,1311.0 1337.5,1309.2C1344.8,1307.3 1352.2,1308.1 1359.5,1304.8C1366.9,1301.5 1374.2,1295.9 1381.6,1289.3C1389.0,1282.7 1396.3,1271.3 1403.7,1265.0C1411.0,1258.8 1420.2,1254.7 1425.7,1251.8C1431.3,1248.9 1431.3,1244.1 1436.8,1247.4C1442.3,1250.7 1451.5,1265.0 1458.8,1271.7C1466.2,1278.3 1473.6,1283.4 1480.9,1287.1C1488.3,1290.8 1495.6,1291.5 1503.0,1293.7C1510.3,1295.9 1517.7,1298.1 1525.1,1300.4C1532.4,1302.6 1539.8,1305.5 1547.1,1307.0C1554.5,1308.4 1561.8,1306.6 1569.2,1309.2C1576.5,1311.8 1583.9,1319.1 1591.3,1322.4C1598.6,1325.7 1604.5,1327.9 1613.3,1329.0C1622.1,1330.1 1638.9,1329.0 1644.0,1329.0" stroke="#D95319"/>
<path d="M1469.9,1359.9C1473.6,1361.0 1484.6,1366.9 1491.9,1366.6C1499.3,1366.2 1506.7,1359.6 1514.0,1357.7C1521.4,1355.9 1528.7,1355.9 1536.1,1355.5C1543.4,1355.2 1550.8,1355.2 1558.2,1355.5C1565.5,1355.9 1572.9,1357.0 1580.2,1357.7C1587.6,1358.5 1594.9,1358.8 1602.3,1359.9C1609.7,1361.0 1617.4,1364.4 1624.4,1364.4C1631.3,1364.4 1640.7,1360.7 1644.0,1359.9" stroke="#D95319"/>
<path d="M1202.8,1236.3C1205.0,1233.4 1212.0,1224.6 1216.1,1218.7C1220.1,1212.8 1224.2,1205.8 1227.1,1201.0C1230.0,1196.3 1232.6,1191.8 1233.7,1190.0" stroke="#EDB120"/>
<path d="M1202.8,1335.7C1205.0,1333.8 1210.2,1329.0 1216.1,1324.6C1222.0,1320.2 1230.8,1313.6 1238.1,1309.2C1245.5,1304.8 1253.6,1301.1 1260.2,1298.1C1266.8,1295.2 1273.1,1288.9 1277.9,1291.5C1282.6,1294.1 1284.5,1306.6 1288.9,1313.6C1293.3,1320.6 1298.1,1328.7 1304.4,1333.5C1310.6,1338.2 1319.1,1339.7 1326.4,1342.3C1333.8,1344.9 1341.1,1347.1 1348.5,1348.9C1355.8,1350.7 1363.2,1354.8 1370.6,1353.3C1377.9,1351.8 1385.3,1343.4 1392.6,1340.1C1400.0,1336.8 1407.3,1335.7 1414.7,1333.5C1422.1,1331.2 1429.4,1330.9 1436.8,1326.8C1444.1,1322.8 1451.5,1314.7 1458.8,1309.2C1466.2,1303.7 1473.6,1295.2 1480.9,1293.7C1488.3,1292.3 1495.6,1298.5 1503.0,1300.4C1510.3,1302.2 1517.7,1304.0 1525.1,1304.8C1532.4,1305.5 1539.8,1307.0 1547.1,1304.8C1554.5,1302.6 1561.8,1294.5 1569.2,1291.5C1576.5,1288.6 1583.9,1288.2 1591.3,1287.1C1598.6,1286.0 1604.5,1285.3 1613.3,1284.9C1622.1,1284.5 1638.9,1284.9 1644.0,1284.9" stroke="#EDB120"/>
<path d="M1202.8,1404.1C1206.9,1403.0 1219.4,1401.1 1227.1,1397.5C1234.8,1393.8 1241.8,1389.0 1249.2,1382.0C1256.5,1375.0 1263.9,1365.5 1271.2,1355.5C1278.6,1345.6 1287.8,1330.9 1293.3,1322.4C1298.8,1314.0 1302.5,1307.7 1304.4,1304.8" stroke="#EDB120"/>
<path d="M1202.8,1351.1C1205.0,1347.1 1210.2,1328.3 1216.1,1326.8C1222.0,1325.4 1230.8,1334.9 1238.1,1342.3C1245.5,1349.6 1252.9,1361.8 1260.2,1371.0C1267.6,1380.2 1276.8,1387.9 1282.3,1397.5C1287.8,1407.0 1287.8,1422.5 1293.3,1428.4C1298.8,1434.2 1308.0,1432.4 1315.4,1432.8C1322.7,1433.1 1330.1,1430.9 1337.5,1430.6C1344.8,1430.2 1352.2,1428.4 1359.5,1430.6C1366.9,1432.8 1374.2,1439.4 1381.6,1443.8C1389.0,1448.2 1396.3,1455.9 1403.7,1457.0C1411.0,1458.2 1418.4,1454.1 1425.7,1450.4C1433.1,1446.7 1440.5,1442.7 1447.8,1435.0C1455.2,1427.3 1462.5,1414.7 1469.9,1404.1C1477.2,1393.4 1486.4,1381.6 1491.9,1371.0C1497.5,1360.3 1499.3,1349.6 1503.0,1340.1C1506.7,1330.5 1508.5,1323.5 1514.0,1313.6C1519.5,1303.7 1528.7,1291.5 1536.1,1280.5C1543.4,1269.5 1550.8,1255.5 1558.2,1247.4C1565.5,1239.3 1572.9,1233.8 1580.2,1231.9C1587.6,1230.1 1594.9,1236.0 1602.3,1236.3C1609.7,1236.7 1617.4,1234.5 1624.4,1234.1C1631.3,1233.8 1640.7,1234.1 1644.0,1234.1" stroke="#EDB120"/>
<path d="M1293.3,1190.0C1297.0,1191.8 1308.0,1195.5 1315.4,1201.0C1322.7,1206.6 1330.1,1213.2 1337.5,1223.1C1344.8,1233.0 1352.2,1248.9 1359.5,1260.6C1366.9,1272.4 1374.2,1285.3 1381.6,1293.7C1389.0,1302.2 1396.3,1307.0 1403.7,1311.4C1411.0,1315.8 1418.4,1318.4 1425.7,1320.2C1433.1,1322.1 1440.5,1320.9 1447.8,1322.4C1455.2,1323.9 1466.2,1327.9 1469.9,1329.0" stroke="#EDB120"/>
<path d="M1447.8,1366.6C1451.5,1369.1 1462.5,1380.2 1469.9,1382.0C1477.2,1383.8 1486.4,1380.9 1491.9,1377.6C1497.5,1374.3 1499.3,1369.5 1503.0,1362.1C1506.7,1354.8 1510.3,1342.7 1514.0,1333.5C1517.7,1324.3 1521.4,1314.0 1525.1,1307.0C1528.7,1300.0 1532.4,1295.6 1536.1,1291.5C1539.8,1287.5 1543.4,1286.0 1547.1,1282.7C1550.8,1279.4 1554.5,1275.0 1558.2,1271.7C1561.8,1268.3 1563.7,1265.8 1569.2,1262.8C1574.7,1259.9 1583.9,1255.8 1591.3,1254.0C1598.6,1252.2 1604.5,1251.8 1613.3,1251.8C1622.1,1251.8 1638.9,1253.6 1644.0,1254.0" stroke="#EDB120"/>
<path d="M1202.8,1359.9C1206.9,1357.4 1219.4,1350.0 1227.1,1344.5C1234.8,1339.0 1241.8,1333.1 1249.2,1326.8C1256.5,1320.6 1263.9,1311.4 1271.2,1307.0C1278.6,1302.6 1286.0,1300.7 1293.3,1300.4C1300.7,1300.0 1308.8,1301.8 1315.4,1304.8C1322.0,1307.7 1328.3,1312.1 1333.0,1318.0C1337.8,1323.9 1339.7,1332.4 1344.1,1340.1C1348.5,1347.8 1353.3,1358.5 1359.5,1364.4C1365.8,1370.2 1374.2,1373.2 1381.6,1375.4C1389.0,1377.6 1396.3,1376.5 1403.7,1377.6C1411.0,1378.7 1420.2,1383.1 1425.7,1382.0C1431.3,1380.9 1431.3,1375.0 1436.8,1371.0C1442.3,1366.9 1453.3,1363.6 1458.8,1357.7C1464.4,1351.8 1464.4,1340.1 1469.9,1335.7C1475.4,1331.2 1484.6,1332.0 1491.9,1331.2C1499.3,1330.5 1506.7,1330.5 1514.0,1331.2C1521.4,1332.0 1528.7,1333.8 1536.1,1335.7C1543.4,1337.5 1550.8,1340.8 1558.2,1342.3C1565.5,1343.8 1572.9,1342.7 1580.2,1344.5C1587.6,1346.3 1594.9,1350.7 1602.3,1353.3C1609.7,1355.9 1617.4,1359.2 1624.4,1359.9C1631.3,1360.7 1640.7,1358.1 1644.0,1357.7" stroke="#A2142F"/>
<path d="M1447.8,1190.0C1451.5,1192.9 1462.5,1202.9 1469.9,1207.7C1477.2,1212.4 1484.6,1214.6 1491.9,1218.7C1499.3,1222.7 1506.7,1230.5 1514.0,1231.9C1521.4,1233.4 1528.7,1230.1 1536.1,1227.5C1543.4,1224.9 1550.8,1219.8 1558.2,1216.5C1565.5,1213.2 1572.9,1209.1 1580.2,1207.7C1587.6,1206.2 1594.9,1207.7 1602.3,1207.7C1609.7,1207.7 1617.4,1208.4 1624.4,1207.7C1631.3,1206.9 1640.7,1204.0 1644.0,1203.2" stroke="#A2142F"/>
<path d="M1202.8,1320.2C1205.0,1320.9 1212.0,1318.7 1216.1,1324.6C1220.1,1330.5 1223.4,1347.4 1227.1,1355.5C1230.8,1363.6 1232.6,1369.9 1238.1,1373.2C1243.7,1376.5 1252.9,1373.6 1260.2,1375.4C1267.6,1377.2 1274.9,1384.2 1282.3,1384.2C1289.6,1384.2 1297.0,1378.0 1304.4,1375.4C1311.7,1372.8 1319.1,1368.0 1326.4,1368.8C1333.8,1369.5 1341.1,1377.2 1348.5,1379.8C1355.8,1382.4 1363.2,1383.8 1370.6,1384.2C1377.9,1384.6 1387.1,1381.3 1392.6,1382.0C1398.1,1382.7 1398.1,1388.3 1403.7,1388.6C1409.2,1389.0 1418.4,1385.0 1425.7,1384.2C1433.1,1383.5 1442.3,1383.5 1447.8,1384.2C1453.3,1385.0 1455.2,1384.2 1458.8,1388.6C1462.5,1393.0 1466.2,1404.8 1469.9,1410.7C1473.6,1416.6 1475.4,1418.4 1480.9,1423.9C1486.4,1429.5 1495.6,1441.2 1503.0,1443.8C1510.3,1446.4 1517.7,1442.7 1525.1,1439.4C1532.4,1436.1 1539.8,1427.3 1547.1,1423.9C1554.5,1420.6 1560.0,1420.3 1569.2,1419.5C1578.4,1418.8 1593.1,1419.2 1602.3,1419.5C1611.5,1419.9 1617.4,1422.1 1624.4,1421.7C1631.3,1421.4 1640.7,1418.1 1644.0,1417.3" stroke="#77AC30"/>
<path d="M1202.8,1408.5C1205.0,1412.5 1210.2,1423.9 1216.1,1432.8C1222.0,1441.6 1230.8,1455.2 1238.1,1461.5C1245.5,1467.7 1253.6,1465.1 1260.2,1470.3C1266.8,1475.4 1274.2,1494.2 1277.9,1492.4C1281.5,1490.5 1280.4,1469.9 1282.3,1459.3C1284.1,1448.6 1285.2,1435.0 1288.9,1428.4C1292.6,1421.7 1298.1,1422.1 1304.4,1419.5C1310.6,1417.0 1319.1,1418.1 1326.4,1412.9C1333.8,1407.8 1341.1,1394.9 1348.5,1388.6C1355.8,1382.4 1363.2,1378.7 1370.6,1375.4C1377.9,1372.1 1385.3,1370.6 1392.6,1368.8C1400.0,1366.9 1407.3,1366.2 1414.7,1364.4C1422.1,1362.5 1429.4,1360.7 1436.8,1357.7C1444.1,1354.8 1451.5,1350.4 1458.8,1346.7C1466.2,1343.0 1473.6,1339.3 1480.9,1335.7C1488.3,1332.0 1495.6,1326.1 1503.0,1324.6C1510.3,1323.2 1517.7,1323.5 1525.1,1326.8C1532.4,1330.1 1539.8,1339.3 1547.1,1344.5C1554.5,1349.6 1561.8,1353.7 1569.2,1357.7C1576.5,1361.8 1583.9,1365.1 1591.3,1368.8C1598.6,1372.4 1604.5,1376.1 1613.3,1379.8C1622.1,1383.5 1638.9,1389.0 1644.0,1390.8" stroke="#77AC30"/>
<path d="M1569.2,1190.0C1571.0,1192.6 1574.7,1204.7 1580.2,1205.4C1585.7,1206.2 1598.6,1196.3 1602.3,1194.4" stroke="#77AC30"/>
<path d="M1202.8,1368.8C1206.9,1371.3 1219.4,1379.8 1227.1,1384.2C1234.8,1388.6 1241.8,1391.6 1249.2,1395.3C1256.5,1398.9 1263.9,1403.7 1271.2,1406.3C1278.6,1408.9 1286.0,1411.1 1293.3,1410.7C1300.7,1410.3 1308.0,1406.7 1315.4,1404.1C1322.7,1401.5 1330.1,1400.4 1337.5,1395.3C1344.8,1390.1 1352.2,1379.8 1359.5,1373.2C1366.9,1366.6 1374.2,1359.6 1381.6,1355.5C1389.0,1351.5 1396.3,1351.5 1403.7,1348.9C1411.0,1346.3 1418.4,1344.5 1425.7,1340.1C1433.1,1335.7 1440.5,1326.5 1447.8,1322.4C1455.2,1318.4 1464.4,1316.5 1469.9,1315.8C1475.4,1315.1 1475.4,1317.6 1480.9,1318.0C1486.4,1318.4 1497.5,1316.5 1503.0,1318.0C1508.5,1319.5 1510.3,1322.4 1514.0,1326.8C1517.7,1331.2 1519.5,1339.3 1525.1,1344.5C1530.6,1349.6 1539.8,1352.2 1547.1,1357.7C1554.5,1363.3 1561.8,1371.0 1569.2,1377.6C1576.5,1384.2 1583.9,1390.1 1591.3,1397.5C1598.6,1404.8 1606.0,1412.9 1613.3,1421.7C1620.7,1430.6 1631.7,1445.6 1635.4,1450.4" stroke="#4DBEEE"/>
<path d="M1202.8,1390.8C1206.9,1394.1 1219.4,1405.2 1227.1,1410.7C1234.8,1416.2 1241.8,1421.0 1249.2,1423.9C1256.5,1426.9 1263.9,1428.7 1271.2,1428.4C1278.6,1428.0 1287.8,1423.2 1293.3,1421.7C1298.8,1420.3 1298.8,1417.3 1304.4,1419.5C1309.9,1421.7 1319.1,1430.9 1326.4,1435.0C1333.8,1439.0 1341.1,1443.8 1348.5,1443.8C1355.8,1443.8 1363.2,1439.0 1370.6,1435.0C1377.9,1430.9 1385.3,1425.4 1392.6,1419.5C1400.0,1413.6 1407.3,1406.3 1414.7,1399.7C1422.1,1393.0 1429.4,1388.3 1436.8,1379.8C1444.1,1371.3 1451.5,1357.7 1458.8,1348.9C1466.2,1340.1 1477.2,1330.5 1480.9,1326.8" stroke="#4DBEEE"/>
<path d="M1476.5,1289.3C1479.1,1287.8 1485.7,1280.5 1491.9,1280.5C1498.2,1280.5 1506.7,1285.6 1514.0,1289.3C1521.4,1293.0 1528.7,1298.1 1536.1,1302.6C1543.4,1307.0 1550.8,1311.0 1558.2,1315.8C1565.5,1320.6 1572.9,1325.0 1580.2,1331.2C1587.6,1337.5 1594.9,1346.3 1602.3,1353.3C1609.7,1360.3 1617.4,1368.0 1624.4,1373.2C1631.3,1378.3 1640.7,1382.4 1644.0,1384.2" stroke="#4DBEEE"/>
<path d="M1602.3,1190.0C1604.1,1193.7 1609.7,1206.9 1613.3,1212.1C1617.0,1217.2 1619.3,1219.8 1624.4,1220.9C1629.5,1222.0 1640.7,1219.1 1644.0,1218.7" stroke="#4DBEEE"/>
<path d="M1381.6,1194.4C1385.3,1196.6 1396.3,1204.3 1403.7,1207.7C1411.0,1211.0 1418.4,1214.3 1425.7,1214.3C1433.1,1214.3 1440.5,1210.2 1447.8,1207.7C1455.2,1205.1 1464.4,1201.8 1469.9,1198.8C1475.4,1195.9 1479.1,1191.5 1480.9,1190.0" stroke="#7E2F8E"/>
<path d="M1640.0,1018.0C1643.7,1019.1 1654.7,1022.4 1662.1,1024.6C1669.4,1026.8 1676.8,1029.4 1684.1,1031.2C1691.5,1033.1 1697.0,1033.8 1706.2,1035.7C1715.4,1037.5 1728.3,1040.4 1739.3,1042.3C1750.4,1044.1 1763.2,1044.1 1772.4,1046.7C1781.6,1049.3 1787.1,1053.3 1794.5,1057.7C1801.8,1062.1 1809.2,1068.8 1816.6,1073.2C1823.9,1077.6 1831.3,1080.9 1838.6,1084.2C1846.0,1087.5 1855.2,1090.5 1860.7,1093.0C1866.2,1095.6 1869.9,1098.6 1871.7,1099.7" stroke="#7E2F8E"/>
<path d="M1640.0,1066.6C1643.7,1066.2 1654.7,1068.0 1662.1,1064.4C1669.4,1060.7 1676.8,1050.6 1684.1,1044.5C1691.5,1038.4 1698.9,1029.4 1706.2,1027.9C1713.6,1026.5 1721.7,1032.9 1728.3,1035.7C1734.9,1038.4 1740.4,1040.1 1745.9,1044.5C1751.5,1048.9 1755.1,1056.6 1761.4,1062.1C1767.6,1067.7 1777.9,1072.1 1783.5,1077.6C1789.0,1083.1 1791.9,1089.7 1794.5,1095.3C1797.1,1100.8 1796.7,1104.4 1798.9,1110.7C1801.1,1117.0 1804.8,1125.4 1807.7,1132.8C1810.7,1140.1 1813.3,1148.2 1816.6,1154.8C1819.9,1161.5 1822.1,1168.1 1827.6,1172.5C1833.1,1176.9 1842.3,1182.4 1849.7,1181.3C1857.0,1180.2 1864.4,1171.8 1871.7,1165.9C1879.1,1160.0 1886.5,1151.9 1893.8,1146.0C1901.2,1140.1 1908.5,1135.0 1915.9,1130.6C1923.2,1126.2 1930.6,1121.7 1937.9,1119.5C1945.3,1117.3 1952.7,1120.3 1960.0,1117.3C1967.4,1114.4 1974.7,1111.1 1982.1,1101.9C1989.4,1092.7 1996.8,1074.3 2004.2,1062.1C2011.5,1050.0 2018.9,1038.2 2026.2,1029.0C2033.6,1019.8 2040.9,1013.6 2048.3,1007.0C2055.7,1000.4 2064.1,993.7 2070.4,989.3C2076.6,984.9 2083.2,982.0 2085.8,980.5" stroke="#7E2F8E"/>
<path d="M1706.2,1031.2C1709.2,1033.8 1719.5,1040.8 1723.9,1046.7C1728.3,1052.6 1728.3,1063.3 1732.7,1066.6C1737.1,1069.9 1745.6,1066.9 1750.4,1066.6C1755.1,1066.2 1755.9,1061.4 1761.4,1064.4C1766.9,1067.3 1777.9,1079.1 1783.5,1084.2C1789.0,1089.4 1792.7,1093.4 1794.5,1095.3" stroke="#7E2F8E"/>
<path d="M1871.7,1143.8C1875.4,1140.1 1886.5,1127.6 1893.8,1121.7C1901.2,1115.9 1908.5,1113.3 1915.9,1108.5C1923.2,1103.7 1930.6,1097.1 1937.9,1093.0C1945.3,1089.0 1952.7,1084.6 1960.0,1084.2C1967.4,1083.8 1974.7,1087.9 1982.1,1090.8C1989.4,1093.8 1996.8,1098.9 2004.2,1101.9C2011.5,1104.8 2018.9,1106.3 2026.2,1108.5C2033.6,1110.7 2040.9,1113.6 2048.3,1115.1C2055.7,1116.6 2064.1,1116.6 2070.4,1117.3C2076.6,1118.1 2083.2,1119.2 2085.8,1119.5" stroke="#7E2F8E"/>
<path d="M2070.4,1052.2 L2085.8,1048.9" stroke="#7E2F8E"/>
<path d="M1860.7,1159.3C1864.4,1158.2 1875.4,1154.8 1882.8,1152.6C1890.1,1150.4 1897.5,1147.5 1904.8,1146.0C1912.2,1144.5 1919.6,1144.5 1926.9,1143.8C1934.3,1143.1 1945.3,1142.0 1949.0,1141.6" stroke="#7E2F8E"/>
<path d="M1640.0,1159.3C1643.7,1161.5 1654.7,1168.8 1662.1,1172.5C1669.4,1176.2 1674.9,1177.6 1684.1,1181.3C1693.3,1185.0 1708.0,1192.7 1717.2,1194.6C1726.4,1196.4 1732.0,1194.2 1739.3,1192.4C1746.7,1190.5 1752.2,1186.1 1761.4,1183.5C1770.6,1181.0 1783.5,1176.9 1794.5,1176.9C1805.5,1176.9 1818.4,1183.5 1827.6,1183.5C1836.8,1183.5 1846.0,1178.0 1849.7,1176.9" stroke="#7E2F8E"/>
<path d="M2048.3,1132.8C2052.0,1132.0 2064.1,1128.7 2070.4,1128.4C2076.6,1128.0 2083.2,1130.2 2085.8,1130.6" stroke="#7E2F8E"/>
<path d="M1640.0,1132.8C1643.7,1123.6 1654.7,1094.1 1662.1,1077.6C1669.4,1061.0 1675.7,1044.1 1684.1,1033.5C1692.6,1022.8 1703.6,1014.7 1712.8,1013.6C1722.0,1012.5 1731.2,1022.4 1739.3,1026.8C1747.4,1031.2 1754.0,1039.3 1761.4,1040.1C1768.7,1040.8 1777.2,1031.2 1783.5,1031.2C1789.7,1031.2 1794.5,1035.7 1798.9,1040.1C1803.3,1044.5 1806.3,1050.4 1809.9,1057.7C1813.6,1065.1 1817.3,1076.9 1821.0,1084.2C1824.7,1091.6 1828.3,1096.0 1832.0,1101.9C1835.7,1107.8 1839.0,1114.0 1843.0,1119.5C1847.1,1125.0 1851.5,1129.1 1856.3,1135.0C1861.1,1140.9 1867.3,1148.6 1871.7,1154.8C1876.2,1161.1 1877.3,1167.0 1882.8,1172.5C1888.3,1178.0 1898.2,1183.3 1904.8,1187.9C1911.5,1192.5 1919.6,1198.1 1922.5,1200.1" stroke="#77AC30"/>
<path d="M1640.0,1106.3C1643.7,1106.7 1654.7,1107.4 1662.1,1108.5C1669.4,1109.6 1674.9,1111.4 1684.1,1112.9C1693.3,1114.4 1706.2,1116.2 1717.2,1117.3C1728.3,1118.4 1741.2,1118.1 1750.4,1119.5C1759.5,1121.0 1765.1,1124.7 1772.4,1126.2C1779.8,1127.6 1787.1,1129.5 1794.5,1128.4C1801.8,1127.3 1809.9,1123.9 1816.6,1119.5C1823.2,1115.1 1828.7,1107.4 1834.2,1101.9C1839.7,1096.4 1843.4,1090.1 1849.7,1086.4C1855.9,1082.7 1864.4,1082.4 1871.7,1079.8C1879.1,1077.2 1886.5,1073.6 1893.8,1071.0C1901.2,1068.4 1910.4,1064.0 1915.9,1064.4C1921.4,1064.7 1923.2,1066.9 1926.9,1073.2C1930.6,1079.4 1932.4,1097.8 1937.9,1101.9C1943.5,1105.9 1952.7,1098.9 1960.0,1097.5C1967.4,1096.0 1974.7,1094.5 1982.1,1093.0C1989.4,1091.6 1996.8,1089.0 2004.2,1088.6C2011.5,1088.3 2018.9,1087.2 2026.2,1090.8C2033.6,1094.5 2040.9,1107.0 2048.3,1110.7C2055.7,1114.4 2064.1,1112.5 2070.4,1112.9C2076.6,1113.3 2083.2,1112.9 2085.8,1112.9" stroke="#77AC30"/>
<path d="M1993.1,1200.1C1996.8,1195.5 2007.8,1180.8 2015.2,1172.5C2022.5,1164.2 2029.9,1158.5 2037.3,1150.4C2044.6,1142.3 2051.2,1134.2 2059.3,1123.9C2067.4,1113.6 2081.4,1094.5 2085.8,1088.6" stroke="#77AC30"/>
<path d="M1640.0,1126.2C1643.7,1123.2 1654.7,1113.3 1662.1,1108.5C1669.4,1103.7 1676.8,1098.2 1684.1,1097.5C1691.5,1096.7 1698.9,1101.1 1706.2,1104.1C1713.6,1107.0 1722.0,1114.7 1728.3,1115.1C1734.5,1115.5 1738.2,1111.4 1743.7,1106.3C1749.2,1101.1 1754.8,1091.2 1761.4,1084.2C1768.0,1077.2 1776.1,1070.2 1783.5,1064.4C1790.8,1058.5 1798.2,1054.1 1805.5,1048.9C1812.9,1043.8 1820.2,1039.0 1827.6,1033.5C1835.0,1027.9 1842.3,1021.3 1849.7,1015.8C1857.0,1010.3 1864.4,1002.6 1871.7,1000.4C1879.1,998.1 1888.7,1000.7 1893.8,1002.6C1899.0,1004.4 1900.1,1004.4 1902.6,1011.4C1905.2,1018.4 1907.0,1034.6 1909.3,1044.5C1911.5,1054.4 1912.9,1062.9 1915.9,1071.0C1918.8,1079.1 1922.1,1086.4 1926.9,1093.0C1931.7,1099.7 1939.1,1105.6 1944.6,1110.7C1950.1,1115.9 1953.8,1118.4 1960.0,1123.9C1966.3,1129.5 1974.7,1137.2 1982.1,1143.8C1989.4,1150.4 1996.8,1157.4 2004.2,1163.7C2011.5,1169.9 2019.6,1175.3 2026.2,1181.3C2032.8,1187.4 2040.9,1197.0 2043.9,1200.1" stroke="#D95319"/>
<path d="M1640.0,1093.0C1643.7,1094.1 1654.7,1098.7 1662.1,1099.7C1669.4,1100.6 1676.8,1097.8 1684.1,1098.6C1691.5,1099.3 1698.9,1101.3 1706.2,1104.1C1713.6,1106.8 1724.6,1113.3 1728.3,1115.1" stroke="#D95319"/>
<path d="M1783.5,1071.0C1787.1,1069.5 1798.2,1064.7 1805.5,1062.1C1812.9,1059.6 1820.2,1055.9 1827.6,1055.5C1835.0,1055.2 1842.3,1059.2 1849.7,1059.9C1857.0,1060.7 1866.2,1061.8 1871.7,1059.9C1877.3,1058.1 1879.1,1050.7 1882.8,1048.9C1886.5,1047.1 1888.3,1047.8 1893.8,1048.9C1899.3,1050.0 1910.4,1052.6 1915.9,1055.5C1921.4,1058.5 1923.2,1061.0 1926.9,1066.6C1930.6,1072.1 1935.0,1081.6 1937.9,1088.6C1940.9,1095.6 1940.9,1101.1 1944.6,1108.5C1948.2,1115.9 1953.8,1125.0 1960.0,1132.8C1966.3,1140.5 1974.7,1149.0 1982.1,1154.8C1989.4,1160.7 1996.8,1165.5 2004.2,1168.1C2011.5,1170.7 2018.9,1172.5 2026.2,1170.3C2033.6,1168.1 2040.9,1162.2 2048.3,1154.8C2055.7,1147.5 2064.1,1135.3 2070.4,1126.2C2076.6,1117.0 2083.2,1104.1 2085.8,1099.7" stroke="#D95319"/>
<path d="M1640.0,1088.6C1643.7,1086.8 1652.9,1081.3 1662.1,1077.6C1671.3,1073.9 1686.0,1067.3 1695.2,1066.6C1704.4,1065.8 1709.9,1071.7 1717.2,1073.2C1724.6,1074.7 1733.1,1073.6 1739.3,1075.4C1745.6,1077.2 1750.7,1081.3 1754.8,1084.2C1758.8,1087.2 1758.8,1090.5 1763.6,1093.0C1768.4,1095.6 1776.5,1097.1 1783.5,1099.7C1790.4,1102.2 1798.2,1105.9 1805.5,1108.5C1812.9,1111.1 1820.2,1114.7 1827.6,1115.1C1835.0,1115.5 1844.1,1110.7 1849.7,1110.7C1855.2,1110.7 1857.0,1112.2 1860.7,1115.1C1864.4,1118.1 1868.1,1123.2 1871.7,1128.4C1875.4,1133.5 1879.1,1141.6 1882.8,1146.0C1886.5,1150.4 1888.3,1152.3 1893.8,1154.8C1899.3,1157.4 1908.5,1161.5 1915.9,1161.5C1923.2,1161.5 1930.6,1157.8 1937.9,1154.8C1945.3,1151.9 1952.7,1145.3 1960.0,1143.8C1967.4,1142.3 1974.7,1145.3 1982.1,1146.0C1989.4,1146.7 1996.8,1146.7 2004.2,1148.2C2011.5,1149.7 2018.9,1151.5 2026.2,1154.8C2033.6,1158.2 2040.9,1165.1 2048.3,1168.1C2055.7,1171.0 2064.1,1172.9 2070.4,1172.5C2076.6,1172.1 2083.2,1167.0 2085.8,1165.9" stroke="#0072BD"/>
<path d="M1640.0,1152.6C1643.7,1154.1 1654.7,1160.7 1662.1,1161.5C1669.4,1162.2 1676.8,1158.9 1684.1,1157.0C1691.5,1155.2 1698.9,1150.8 1706.2,1150.4C1713.6,1150.1 1720.9,1152.3 1728.3,1154.8C1735.6,1157.4 1743.0,1165.9 1750.4,1165.9C1757.7,1165.9 1765.1,1159.3 1772.4,1154.8C1779.8,1150.4 1787.1,1144.5 1794.5,1139.4C1801.8,1134.2 1810.3,1128.7 1816.6,1123.9C1822.8,1119.2 1828.3,1111.1 1832.0,1110.7C1835.7,1110.3 1835.7,1117.3 1838.6,1121.7C1841.6,1126.2 1846.0,1131.7 1849.7,1137.2C1853.3,1142.7 1855.2,1149.7 1860.7,1154.8C1866.2,1160.0 1875.4,1164.8 1882.8,1168.1C1890.1,1171.4 1897.5,1175.1 1904.8,1174.7C1912.2,1174.3 1919.6,1169.9 1926.9,1165.9C1934.3,1161.8 1941.6,1153.7 1949.0,1150.4C1956.3,1147.1 1963.7,1145.3 1971.1,1146.0C1978.4,1146.7 1985.8,1152.6 1993.1,1154.8C2000.5,1157.0 2007.8,1157.8 2015.2,1159.3C2022.5,1160.7 2029.9,1161.8 2037.3,1163.7C2044.6,1165.5 2051.2,1168.1 2059.3,1170.3C2067.4,1172.5 2081.4,1175.8 2085.8,1176.9" stroke="#0072BD"/>
<path d="M1926.9,1200.1C1928.8,1199.2 1932.4,1194.8 1937.9,1194.6C1943.5,1194.4 1956.3,1198.2 1960.0,1199.0" stroke="#0072BD"/>
<path d="M1640.0,1199.0C1643.7,1194.2 1654.7,1178.0 1662.1,1170.3C1669.4,1162.6 1676.8,1158.2 1684.1,1152.6C1691.5,1147.1 1698.9,1142.0 1706.2,1137.2C1713.6,1132.4 1720.9,1126.9 1728.3,1123.9C1735.6,1121.0 1743.0,1118.4 1750.4,1119.5C1757.7,1120.6 1765.1,1126.9 1772.4,1130.6C1779.8,1134.2 1787.1,1138.3 1794.5,1141.6C1801.8,1144.9 1809.2,1150.1 1816.6,1150.4C1823.9,1150.8 1831.3,1145.6 1838.6,1143.8C1846.0,1142.0 1853.3,1140.9 1860.7,1139.4C1868.1,1137.9 1875.4,1135.0 1882.8,1135.0C1890.1,1135.0 1897.5,1137.6 1904.8,1139.4C1912.2,1141.2 1919.6,1146.4 1926.9,1146.0C1934.3,1145.6 1941.6,1139.4 1949.0,1137.2C1956.3,1135.0 1963.7,1132.4 1971.1,1132.8C1978.4,1133.1 1985.8,1138.7 1993.1,1139.4C2000.5,1140.1 2009.7,1138.3 2015.2,1137.2C2020.7,1136.1 2020.7,1132.8 2026.2,1132.8C2031.7,1132.8 2040.9,1133.5 2048.3,1137.2C2055.7,1140.9 2064.1,1148.2 2070.4,1154.8C2076.6,1161.5 2083.2,1173.2 2085.8,1176.9" stroke="#A2142F"/>
<path d="M1640.0,1176.9C1643.7,1176.2 1654.7,1174.0 1662.1,1172.5C1669.4,1171.0 1676.8,1169.2 1684.1,1168.1C1691.5,1167.0 1698.9,1167.7 1706.2,1165.9C1713.6,1164.0 1722.8,1157.4 1728.3,1157.0C1733.8,1156.7 1735.6,1160.4 1739.3,1163.7C1743.0,1167.0 1746.7,1173.2 1750.4,1176.9C1754.0,1180.6 1755.9,1183.9 1761.4,1185.7C1766.9,1187.6 1776.1,1188.7 1783.5,1187.9C1790.8,1187.2 1798.2,1181.0 1805.5,1181.3C1812.9,1181.7 1822.1,1187.0 1827.6,1190.2C1833.1,1193.3 1836.8,1198.4 1838.6,1200.1" stroke="#A2142F"/>
<path d="M1893.8,1200.1C1897.5,1197.7 1908.5,1190.7 1915.9,1185.7C1923.2,1180.8 1930.6,1175.4 1937.9,1170.3C1945.3,1165.1 1952.7,1157.8 1960.0,1154.8C1967.4,1151.9 1974.7,1152.6 1982.1,1152.6C1989.4,1152.6 1996.8,1153.0 2004.2,1154.8C2011.5,1156.7 2018.9,1162.6 2026.2,1163.7C2033.6,1164.8 2040.9,1160.7 2048.3,1161.5C2055.7,1162.2 2064.1,1165.1 2070.4,1168.1C2076.6,1171.0 2083.2,1177.3 2085.8,1179.1" stroke="#A2142F"/>
<path d="M1706.2,1200.1C1709.9,1196.2 1720.9,1183.0 1728.3,1176.9C1735.6,1170.8 1743.0,1167.3 1750.4,1163.7C1757.7,1160.0 1765.1,1155.9 1772.4,1154.8C1779.8,1153.7 1787.1,1157.0 1794.5,1157.0C1801.8,1157.0 1809.2,1155.9 1816.6,1154.8C1823.9,1153.7 1831.3,1151.9 1838.6,1150.4C1846.0,1149.0 1853.3,1148.6 1860.7,1146.0C1868.1,1143.4 1875.4,1137.6 1882.8,1135.0C1890.1,1132.4 1897.5,1130.6 1904.8,1130.6C1912.2,1130.6 1919.6,1132.8 1926.9,1135.0C1934.3,1137.2 1941.6,1142.0 1949.0,1143.8C1956.3,1145.6 1963.7,1144.9 1971.1,1146.0C1978.4,1147.1 1985.8,1149.0 1993.1,1150.4C2000.5,1151.9 2007.8,1153.7 2015.2,1154.8C2022.5,1155.9 2029.9,1155.6 2037.3,1157.0C2044.6,1158.5 2051.2,1160.7 2059.3,1163.7C2067.4,1166.6 2081.4,1172.9 2085.8,1174.7" stroke="#EDB120"/>
<path d="M1640.0,1183.5 L1651.0,1200.1" stroke="#EDB120"/>
<path d="M1849.7,1200.1C1853.3,1196.6 1864.4,1188.5 1871.7,1179.1C1879.1,1169.7 1886.1,1155.6 1893.8,1143.8C1901.5,1132.0 1912.6,1111.1 1918.1,1108.5C1923.6,1105.9 1923.6,1120.6 1926.9,1128.4C1930.2,1136.1 1934.3,1146.7 1937.9,1154.8C1941.6,1162.9 1945.3,1171.4 1949.0,1176.9C1952.7,1182.4 1954.5,1185.7 1960.0,1187.9C1965.5,1190.2 1974.7,1190.2 1982.1,1190.2C1989.4,1190.2 1996.8,1189.4 2004.2,1187.9C2011.5,1186.5 2018.9,1183.2 2026.2,1181.3C2033.6,1179.5 2040.9,1177.3 2048.3,1176.9C2055.7,1176.5 2064.1,1178.4 2070.4,1179.1C2076.6,1179.9 2083.2,1181.0 2085.8,1181.3" stroke="#4DBEEE"/>
<path d="M1648.8,1190.0C1652.1,1194.0 1662.4,1210.2 1668.7,1214.3C1674.9,1218.3 1680.1,1217.2 1686.3,1214.3C1692.6,1211.3 1701.8,1200.7 1706.2,1196.6C1710.6,1192.6 1711.7,1191.1 1712.8,1190.0" stroke="#EDB120"/>
<path d="M1640.0,1234.1C1643.7,1234.9 1654.3,1236.0 1662.1,1238.6C1669.8,1241.1 1679.0,1250.3 1686.3,1249.6C1693.7,1248.9 1699.2,1236.3 1706.2,1234.1C1713.2,1231.9 1720.9,1236.5 1728.3,1236.3C1735.6,1236.2 1744.1,1233.0 1750.4,1233.0C1756.6,1233.0 1760.3,1232.1 1765.8,1236.3C1771.3,1240.6 1776.8,1251.1 1783.5,1258.4C1790.1,1265.8 1798.2,1272.8 1805.5,1280.5C1812.9,1288.2 1820.2,1299.6 1827.6,1304.8C1835.0,1309.9 1842.3,1309.2 1849.7,1311.4C1857.0,1313.6 1864.4,1314.7 1871.7,1318.0C1879.1,1321.3 1886.5,1327.9 1893.8,1331.2C1901.2,1334.6 1908.5,1337.5 1915.9,1337.9C1923.2,1338.2 1930.6,1335.7 1937.9,1333.5C1945.3,1331.2 1952.7,1327.9 1960.0,1324.6C1967.4,1321.3 1974.7,1315.8 1982.1,1313.6C1989.4,1311.4 1998.6,1310.7 2004.2,1311.4C2009.7,1312.1 2009.7,1315.4 2015.2,1318.0C2020.7,1320.6 2029.9,1323.2 2037.3,1326.8C2044.6,1330.5 2051.2,1336.8 2059.3,1340.1C2067.4,1343.4 2081.4,1345.6 2085.8,1346.7" stroke="#EDB120"/>
<path d="M1640.0,1256.2C1643.7,1259.2 1655.8,1266.5 1662.1,1273.9C1668.3,1281.2 1673.1,1292.3 1677.5,1300.4C1681.9,1308.4 1685.2,1315.1 1688.6,1322.4C1691.9,1329.8 1694.4,1335.3 1697.4,1344.5C1700.3,1353.7 1703.6,1366.6 1706.2,1377.6C1708.8,1388.6 1710.3,1401.1 1712.8,1410.7C1715.4,1420.3 1717.2,1428.4 1721.7,1435.0C1726.1,1441.6 1732.7,1446.0 1739.3,1450.4C1745.9,1454.8 1754.0,1458.9 1761.4,1461.5C1768.7,1464.0 1776.1,1464.4 1783.5,1465.9C1790.8,1467.3 1798.2,1469.6 1805.5,1470.3C1812.9,1471.0 1820.2,1471.0 1827.6,1470.3C1835.0,1469.6 1842.3,1466.6 1849.7,1465.9C1857.0,1465.1 1864.4,1467.3 1871.7,1465.9C1879.1,1464.4 1886.5,1458.2 1893.8,1457.0C1901.2,1455.9 1908.5,1459.6 1915.9,1459.3C1923.2,1458.9 1930.6,1458.5 1937.9,1454.8C1945.3,1451.2 1954.5,1444.5 1960.0,1437.2C1965.5,1429.8 1967.4,1420.6 1971.1,1410.7C1974.7,1400.8 1978.4,1387.2 1982.1,1377.6C1985.8,1368.0 1989.4,1359.2 1993.1,1353.3C1996.8,1347.4 2002.3,1344.1 2004.2,1342.3" stroke="#EDB120"/>
<path d="M1640.0,1282.7C1643.7,1285.3 1654.7,1293.0 1662.1,1298.1C1669.4,1303.3 1676.8,1308.8 1684.1,1313.6C1691.5,1318.4 1698.9,1324.6 1706.2,1326.8C1713.6,1329.0 1722.8,1329.0 1728.3,1326.8C1733.8,1324.6 1735.6,1318.0 1739.3,1313.6C1743.0,1309.2 1746.7,1302.2 1750.4,1300.4C1754.0,1298.5 1757.7,1298.9 1761.4,1302.6C1765.1,1306.2 1768.7,1316.2 1772.4,1322.4C1776.1,1328.7 1777.9,1335.3 1783.5,1340.1C1789.0,1344.9 1798.2,1348.9 1805.5,1351.1C1812.9,1353.3 1820.2,1353.0 1827.6,1353.3C1835.0,1353.7 1842.3,1352.6 1849.7,1353.3C1857.0,1354.1 1864.4,1357.7 1871.7,1357.7C1879.1,1357.7 1886.5,1355.9 1893.8,1353.3C1901.2,1350.7 1908.5,1345.2 1915.9,1342.3C1923.2,1339.3 1930.6,1338.2 1937.9,1335.7C1945.3,1333.1 1952.7,1330.1 1960.0,1326.8C1967.4,1323.5 1974.7,1318.4 1982.1,1315.8C1989.4,1313.2 2000.5,1312.1 2004.2,1311.4" stroke="#EDB120"/>
<path d="M1640.0,1284.9C1643.7,1289.7 1654.7,1305.9 1662.1,1313.6C1669.4,1321.3 1678.6,1322.4 1684.1,1331.2C1689.7,1340.1 1691.5,1358.5 1695.2,1366.6C1698.9,1374.7 1700.7,1376.5 1706.2,1379.8C1711.7,1383.1 1720.9,1383.8 1728.3,1386.4C1735.6,1389.0 1743.0,1391.6 1750.4,1395.3C1757.7,1398.9 1765.1,1405.2 1772.4,1408.5C1779.8,1411.8 1787.1,1413.6 1794.5,1415.1C1801.8,1416.6 1809.2,1416.6 1816.6,1417.3C1823.9,1418.1 1833.1,1418.1 1838.6,1419.5C1844.1,1421.0 1844.1,1426.5 1849.7,1426.2C1855.2,1425.8 1864.4,1421.4 1871.7,1417.3C1879.1,1413.3 1886.5,1408.1 1893.8,1401.9C1901.2,1395.6 1908.5,1387.9 1915.9,1379.8C1923.2,1371.7 1930.6,1362.1 1937.9,1353.3C1945.3,1344.5 1952.7,1335.7 1960.0,1326.8C1967.4,1318.0 1976.6,1309.2 1982.1,1300.4C1987.6,1291.5 1987.6,1281.6 1993.1,1273.9C1998.6,1266.1 2007.8,1259.9 2015.2,1254.0C2022.5,1248.1 2029.9,1240.4 2037.3,1238.6C2044.6,1236.7 2052.0,1238.6 2059.3,1243.0C2066.7,1247.4 2077.7,1261.4 2081.4,1265.0" stroke="#EDB120"/>
<path d="M1915.9,1348.9C1921.4,1347.4 1937.9,1341.9 1949.0,1340.1C1960.0,1338.2 1971.1,1339.3 1982.1,1337.9C1993.1,1336.4 2004.2,1333.5 2015.2,1331.2C2026.2,1329.0 2039.1,1326.5 2048.3,1324.6C2057.5,1322.8 2064.1,1321.7 2070.4,1320.2C2076.6,1318.7 2083.2,1316.5 2085.8,1315.8" stroke="#EDB120"/>
<path d="M2004.2,1322.4C2007.8,1323.9 2018.9,1327.9 2026.2,1331.2C2033.6,1334.6 2040.9,1337.1 2048.3,1342.3C2055.7,1347.4 2064.1,1357.4 2070.4,1362.1C2076.6,1366.9 2083.2,1369.5 2085.8,1371.0" stroke="#EDB120"/>
<path d="M1640.0,1220.9C1643.7,1222.4 1654.7,1226.8 1662.1,1229.7C1669.4,1232.7 1676.8,1239.7 1684.1,1238.6C1691.5,1237.5 1699.6,1226.8 1706.2,1223.1C1712.8,1219.4 1718.3,1216.5 1723.9,1216.5C1729.4,1216.5 1734.9,1220.5 1739.3,1223.1C1743.7,1225.7 1744.8,1229.7 1750.4,1231.9C1755.9,1234.1 1765.1,1236.0 1772.4,1236.3C1779.8,1236.7 1787.9,1234.5 1794.5,1234.1C1801.1,1233.8 1806.6,1231.6 1812.1,1234.1C1817.7,1236.7 1821.3,1245.2 1827.6,1249.6C1833.8,1254.0 1842.3,1260.3 1849.7,1260.6C1857.0,1261.0 1865.5,1254.4 1871.7,1251.8C1878.0,1249.2 1881.7,1248.5 1887.2,1245.2C1892.7,1241.9 1898.2,1240.4 1904.8,1231.9C1911.5,1223.5 1919.6,1201.0 1926.9,1194.4C1934.3,1187.8 1941.6,1189.6 1949.0,1192.2C1956.3,1194.8 1963.7,1204.0 1971.1,1209.9C1978.4,1215.7 1985.8,1220.2 1993.1,1227.5C2000.5,1234.9 2007.8,1248.5 2015.2,1254.0C2022.5,1259.5 2031.7,1259.5 2037.3,1260.6C2042.8,1261.7 2042.8,1263.6 2048.3,1260.6C2053.8,1257.7 2066.7,1245.9 2070.4,1243.0" stroke="#0072BD"/>
<path d="M1640.0,1346.7C1643.7,1345.6 1654.7,1343.4 1662.1,1340.1C1669.4,1336.8 1676.8,1331.6 1684.1,1326.8C1691.5,1322.1 1698.9,1316.9 1706.2,1311.4C1713.6,1305.9 1720.9,1299.2 1728.3,1293.7C1735.6,1288.2 1743.0,1283.8 1750.4,1278.3C1757.7,1272.8 1765.1,1266.1 1772.4,1260.6C1779.8,1255.1 1787.1,1251.4 1794.5,1245.2C1801.8,1238.9 1811.0,1229.7 1816.6,1223.1C1822.1,1216.5 1823.9,1208.0 1827.6,1205.4C1831.3,1202.9 1834.2,1205.4 1838.6,1207.7C1843.0,1209.9 1848.6,1215.4 1854.1,1218.7C1859.6,1222.0 1865.1,1223.5 1871.7,1227.5C1878.4,1231.6 1886.5,1238.2 1893.8,1243.0C1901.2,1247.8 1908.5,1250.3 1915.9,1256.2C1923.2,1262.1 1930.6,1270.6 1937.9,1278.3C1945.3,1286.0 1952.7,1295.6 1960.0,1302.6C1967.4,1309.5 1974.7,1315.4 1982.1,1320.2C1989.4,1325.0 1996.8,1327.6 2004.2,1331.2C2011.5,1334.9 2018.9,1336.8 2026.2,1342.3C2033.6,1347.8 2040.9,1358.1 2048.3,1364.4C2055.7,1370.6 2064.1,1378.3 2070.4,1379.8C2076.6,1381.3 2083.2,1374.3 2085.8,1373.2" stroke="#0072BD"/>
<path d="M1640.0,1324.6C1641.8,1326.1 1645.5,1333.8 1651.0,1333.5C1656.6,1333.1 1667.6,1325.7 1673.1,1322.4C1678.6,1319.1 1678.6,1316.5 1684.1,1313.6C1689.7,1310.7 1700.7,1309.2 1706.2,1304.8C1711.7,1300.4 1712.8,1291.2 1717.2,1287.1C1721.7,1283.1 1727.2,1279.0 1732.7,1280.5C1738.2,1282.0 1743.7,1293.0 1750.4,1295.9C1757.0,1298.9 1765.8,1298.5 1772.4,1298.1C1779.0,1297.8 1784.2,1297.4 1790.1,1293.7C1796.0,1290.1 1801.5,1278.6 1807.7,1276.1C1814.0,1273.5 1818.8,1279.4 1827.6,1278.3C1836.4,1277.2 1853.3,1269.5 1860.7,1269.5C1868.1,1269.5 1867.0,1274.6 1871.7,1278.3C1876.5,1282.0 1884.6,1286.0 1889.4,1291.5C1894.2,1297.0 1896.0,1303.7 1900.4,1311.4C1904.8,1319.1 1910.7,1329.4 1915.9,1337.9C1921.0,1346.3 1925.8,1355.2 1931.3,1362.1C1936.8,1369.1 1943.1,1373.2 1949.0,1379.8C1954.9,1386.4 1961.1,1397.1 1966.6,1401.9C1972.2,1406.7 1975.8,1408.5 1982.1,1408.5C1988.3,1408.5 1996.8,1404.4 2004.2,1401.9C2011.5,1399.3 2018.9,1398.2 2026.2,1393.0C2033.6,1387.9 2040.9,1377.2 2048.3,1371.0C2055.7,1364.7 2064.1,1359.2 2070.4,1355.5C2076.6,1351.8 2083.2,1350.0 2085.8,1348.9" stroke="#0072BD"/>
<path d="M1640.0,1273.9C1643.7,1272.0 1652.9,1265.8 1662.1,1262.8C1671.3,1259.9 1686.0,1254.7 1695.2,1256.2C1704.4,1257.7 1709.9,1266.5 1717.2,1271.7C1724.6,1276.8 1732.0,1281.2 1739.3,1287.1C1746.7,1293.0 1754.0,1299.2 1761.4,1307.0C1768.7,1314.7 1776.1,1325.4 1783.5,1333.5C1790.8,1341.5 1798.2,1350.0 1805.5,1355.5C1812.9,1361.0 1820.2,1364.0 1827.6,1366.6C1835.0,1369.1 1842.3,1369.9 1849.7,1371.0C1857.0,1372.1 1864.4,1374.3 1871.7,1373.2C1879.1,1372.1 1886.5,1365.8 1893.8,1364.4C1901.2,1362.9 1908.5,1364.7 1915.9,1364.4C1923.2,1364.0 1930.6,1361.8 1937.9,1362.1C1945.3,1362.5 1952.7,1366.9 1960.0,1366.6C1967.4,1366.2 1974.7,1364.4 1982.1,1359.9C1989.4,1355.5 1996.8,1349.6 2004.2,1340.1C2011.5,1330.5 2018.9,1312.9 2026.2,1302.6C2033.6,1292.3 2040.9,1282.3 2048.3,1278.3C2055.7,1274.2 2064.1,1279.0 2070.4,1278.3C2076.6,1277.5 2083.2,1274.6 2085.8,1273.9" stroke="#D95319"/>
<path d="M1640.0,1326.8C1643.7,1325.4 1654.7,1319.8 1662.1,1318.0C1669.4,1316.2 1676.8,1316.9 1684.1,1315.8C1691.5,1314.7 1698.9,1313.2 1706.2,1311.4C1713.6,1309.5 1722.8,1307.3 1728.3,1304.8C1733.8,1302.2 1733.8,1298.1 1739.3,1295.9C1744.8,1293.7 1752.9,1294.5 1761.4,1291.5C1769.8,1288.6 1783.8,1278.3 1790.1,1278.3C1796.3,1278.3 1796.3,1284.2 1798.9,1291.5C1801.5,1298.9 1803.3,1313.2 1805.5,1322.4C1807.7,1331.6 1808.5,1341.2 1812.1,1346.7C1815.8,1352.2 1821.3,1355.9 1827.6,1355.5C1833.8,1355.2 1842.3,1346.3 1849.7,1344.5C1857.0,1342.7 1864.4,1343.8 1871.7,1344.5C1879.1,1345.2 1886.5,1346.0 1893.8,1348.9C1901.2,1351.8 1908.5,1358.1 1915.9,1362.1C1923.2,1366.2 1930.6,1369.9 1937.9,1373.2C1945.3,1376.5 1952.7,1379.4 1960.0,1382.0C1967.4,1384.6 1974.7,1385.3 1982.1,1388.6C1989.4,1391.9 1996.8,1398.2 2004.2,1401.9C2011.5,1405.6 2018.9,1408.5 2026.2,1410.7C2033.6,1412.9 2044.6,1414.4 2048.3,1415.1" stroke="#D95319"/>
<path d="M1640.0,1362.1C1643.7,1362.9 1654.7,1363.6 1662.1,1366.6C1669.4,1369.5 1676.8,1378.7 1684.1,1379.8C1691.5,1380.9 1698.9,1372.8 1706.2,1373.2C1713.6,1373.6 1720.9,1378.3 1728.3,1382.0C1735.6,1385.7 1743.0,1390.5 1750.4,1395.3C1757.7,1400.0 1766.9,1407.4 1772.4,1410.7C1777.9,1414.0 1777.9,1415.9 1783.5,1415.1C1789.0,1414.4 1798.2,1412.2 1805.5,1406.3C1812.9,1400.4 1820.2,1386.4 1827.6,1379.8C1835.0,1373.2 1842.3,1369.5 1849.7,1366.6C1857.0,1363.6 1864.4,1363.3 1871.7,1362.1C1879.1,1361.0 1886.5,1360.7 1893.8,1359.9C1901.2,1359.2 1908.5,1360.3 1915.9,1357.7C1923.2,1355.2 1930.6,1347.4 1937.9,1344.5C1945.3,1341.5 1952.7,1340.1 1960.0,1340.1C1967.4,1340.1 1974.7,1343.0 1982.1,1344.5C1989.4,1346.0 1996.8,1341.5 2004.2,1348.9C2011.5,1356.3 2018.9,1378.3 2026.2,1388.6C2033.6,1398.9 2040.9,1404.8 2048.3,1410.7C2055.7,1416.6 2064.1,1421.4 2070.4,1423.9C2076.6,1426.5 2083.2,1425.8 2085.8,1426.2" stroke="#D95319"/>
<path d="M2037.3,1190.0C2040.9,1195.5 2053.8,1213.9 2059.3,1223.1C2064.9,1232.3 2066.7,1237.8 2070.4,1245.2C2074.0,1252.5 2078.8,1261.7 2081.4,1267.2C2084.0,1272.8 2085.1,1276.4 2085.8,1278.3" stroke="#D95319"/>
<path d="M1960.0,1390.8C1963.7,1394.1 1974.7,1403.0 1982.1,1410.7C1989.4,1418.4 1996.8,1429.8 2004.2,1437.2C2011.5,1444.5 2018.9,1451.5 2026.2,1454.8C2033.6,1458.2 2040.9,1458.2 2048.3,1457.0C2055.7,1455.9 2064.1,1450.4 2070.4,1448.2C2076.6,1446.0 2083.2,1444.5 2085.8,1443.8" stroke="#D95319"/>
<path d="M1640.0,1362.1C1643.7,1361.4 1654.7,1361.4 1662.1,1357.7C1669.4,1354.1 1676.8,1342.7 1684.1,1340.1C1691.5,1337.5 1698.9,1341.5 1706.2,1342.3C1713.6,1343.0 1720.9,1342.7 1728.3,1344.5C1735.6,1346.3 1743.0,1351.1 1750.4,1353.3C1757.7,1355.5 1765.1,1355.5 1772.4,1357.7C1779.8,1359.9 1787.1,1363.6 1794.5,1366.6C1801.8,1369.5 1809.2,1373.9 1816.6,1375.4C1823.9,1376.9 1831.3,1376.1 1838.6,1375.4C1846.0,1374.7 1853.3,1372.8 1860.7,1371.0C1868.1,1369.1 1875.4,1366.2 1882.8,1364.4C1890.1,1362.5 1897.5,1360.3 1904.8,1359.9C1912.2,1359.6 1919.6,1359.9 1926.9,1362.1C1934.3,1364.4 1941.6,1369.9 1949.0,1373.2C1956.3,1376.5 1963.7,1379.8 1971.1,1382.0C1978.4,1384.2 1985.8,1384.6 1993.1,1386.4C2000.5,1388.3 2009.7,1390.5 2015.2,1393.0C2020.7,1395.6 2020.7,1401.5 2026.2,1401.9C2031.7,1402.2 2040.9,1397.1 2048.3,1395.3C2055.7,1393.4 2064.1,1390.8 2070.4,1390.8C2076.6,1390.8 2083.2,1394.5 2085.8,1395.3" stroke="#A2142F"/>
<path d="M1838.6,1190.0C1842.3,1193.7 1855.2,1208.0 1860.7,1212.1C1866.2,1216.1 1866.2,1216.1 1871.7,1214.3C1877.3,1212.4 1887.6,1205.1 1893.8,1201.0C1900.1,1197.0 1906.7,1191.8 1909.3,1190.0" stroke="#A2142F"/>
<path d="M1640.0,1205.4 L1651.0,1192.2" stroke="#A2142F"/>
<path d="M1640.0,1390.8C1643.7,1393.4 1654.7,1400.4 1662.1,1406.3C1669.4,1412.2 1676.8,1421.7 1684.1,1426.2C1691.5,1430.6 1698.9,1429.1 1706.2,1432.8C1713.6,1436.5 1720.9,1446.0 1728.3,1448.2C1735.6,1450.4 1743.0,1444.5 1750.4,1446.0C1757.7,1447.5 1765.1,1457.8 1772.4,1457.0C1779.8,1456.3 1787.1,1446.4 1794.5,1441.6C1801.8,1436.8 1809.2,1432.8 1816.6,1428.4C1823.9,1423.9 1831.3,1418.4 1838.6,1415.1C1846.0,1411.8 1853.3,1410.3 1860.7,1408.5C1868.1,1406.7 1875.4,1403.7 1882.8,1404.1C1890.1,1404.4 1897.5,1407.4 1904.8,1410.7C1912.2,1414.0 1919.6,1421.4 1926.9,1423.9C1934.3,1426.5 1941.6,1426.5 1949.0,1426.2C1956.3,1425.8 1963.7,1422.1 1971.1,1421.7C1978.4,1421.4 1985.8,1422.5 1993.1,1423.9C2000.5,1425.4 2007.8,1429.8 2015.2,1430.6C2022.5,1431.3 2029.9,1430.6 2037.3,1428.4C2044.6,1426.2 2051.2,1419.9 2059.3,1417.3C2067.4,1414.7 2081.4,1413.6 2085.8,1412.9" stroke="#77AC30"/>
<path d="M1640.0,1417.3C1643.7,1417.7 1654.7,1417.7 1662.1,1419.5C1669.4,1421.4 1676.8,1426.9 1684.1,1428.4C1691.5,1429.8 1700.7,1431.3 1706.2,1428.4C1711.7,1425.4 1713.6,1418.4 1717.2,1410.7C1720.9,1403.0 1724.6,1389.4 1728.3,1382.0C1732.0,1374.7 1733.8,1372.1 1739.3,1366.6C1744.8,1361.0 1754.0,1352.6 1761.4,1348.9C1768.7,1345.2 1776.1,1348.9 1783.5,1344.5C1790.8,1340.1 1800.0,1327.4 1805.5,1322.4C1811.0,1317.5 1811.0,1315.1 1816.6,1314.7C1822.1,1314.3 1831.3,1317.5 1838.6,1320.2C1846.0,1323.0 1854.1,1327.9 1860.7,1331.2C1867.3,1334.6 1872.8,1336.0 1878.4,1340.1C1883.9,1344.1 1887.6,1351.8 1893.8,1355.5C1900.1,1359.2 1908.5,1359.6 1915.9,1362.1C1923.2,1364.7 1930.6,1367.7 1937.9,1371.0C1945.3,1374.3 1952.7,1376.5 1960.0,1382.0C1967.4,1387.5 1974.7,1398.2 1982.1,1404.1C1989.4,1410.0 1996.8,1417.7 2004.2,1417.3C2011.5,1417.0 2018.9,1405.9 2026.2,1401.9C2033.6,1397.8 2038.4,1394.5 2048.3,1393.0C2058.2,1391.6 2079.6,1393.0 2085.8,1393.0" stroke="#77AC30"/>
<path d="M1893.8,1190.0C1897.5,1192.2 1908.5,1198.1 1915.9,1203.2C1923.2,1208.4 1932.4,1217.2 1937.9,1220.9C1943.5,1224.6 1943.5,1226.0 1949.0,1225.3C1954.5,1224.6 1963.7,1221.3 1971.1,1216.5C1978.4,1211.7 1988.3,1201.0 1993.1,1196.6C1997.9,1192.2 1998.6,1191.1 1999.7,1190.0" stroke="#77AC30"/>
<path d="M1640.0,1384.2C1643.7,1385.7 1654.7,1388.3 1662.1,1393.0C1669.4,1397.8 1677.5,1407.0 1684.1,1412.9C1690.8,1418.8 1697.0,1422.8 1701.8,1428.4C1706.6,1433.9 1710.3,1439.8 1712.8,1446.0C1715.4,1452.3 1714.7,1457.8 1717.2,1465.9C1719.8,1474.0 1723.9,1487.2 1728.3,1494.6C1732.7,1501.9 1738.9,1508.9 1743.7,1510.0C1748.5,1511.1 1752.2,1505.2 1757.0,1501.2C1761.8,1497.1 1766.2,1491.3 1772.4,1485.7C1778.7,1480.2 1787.9,1476.2 1794.5,1468.1C1801.1,1460.0 1806.6,1445.6 1812.1,1437.2C1817.7,1428.7 1821.3,1423.2 1827.6,1417.3C1833.8,1411.4 1842.3,1405.2 1849.7,1401.9C1857.0,1398.6 1864.4,1397.5 1871.7,1397.5C1879.1,1397.5 1886.5,1401.1 1893.8,1401.9C1901.2,1402.6 1910.4,1404.1 1915.9,1401.9C1921.4,1399.7 1921.4,1392.3 1926.9,1388.6C1932.4,1385.0 1941.6,1382.0 1949.0,1379.8C1956.3,1377.6 1963.7,1375.0 1971.1,1375.4C1978.4,1375.8 1985.8,1378.0 1993.1,1382.0C2000.5,1386.1 2007.8,1396.4 2015.2,1399.7C2022.5,1403.0 2029.9,1401.5 2037.3,1401.9C2044.6,1402.2 2051.2,1400.4 2059.3,1401.9C2067.4,1403.3 2081.4,1409.2 2085.8,1410.7" stroke="#4DBEEE"/>
<path d="M1640.0,1220.9C1641.8,1220.2 1645.5,1215.4 1651.0,1216.5C1656.6,1217.6 1665.7,1225.7 1673.1,1227.5C1680.5,1229.4 1687.8,1225.7 1695.2,1227.5C1702.5,1229.4 1709.9,1236.3 1717.2,1238.6C1724.6,1240.8 1732.0,1240.8 1739.3,1240.8C1746.7,1240.8 1754.0,1238.2 1761.4,1238.6C1768.7,1238.9 1776.1,1243.7 1783.5,1243.0C1790.8,1242.2 1798.2,1237.5 1805.5,1234.1C1812.9,1230.8 1820.2,1228.6 1827.6,1223.1C1835.0,1217.6 1844.5,1206.6 1849.7,1201.0C1854.8,1195.5 1857.0,1191.8 1858.5,1190.0" stroke="#4DBEEE"/>
<path d="M1640.0,1450.4C1643.7,1451.9 1654.7,1458.5 1662.1,1459.3C1669.4,1460.0 1676.8,1455.2 1684.1,1454.8C1691.5,1454.5 1698.9,1459.3 1706.2,1457.0C1713.6,1454.8 1721.7,1446.0 1728.3,1441.6C1734.9,1437.2 1738.6,1432.8 1745.9,1430.6C1753.3,1428.4 1764.3,1429.8 1772.4,1428.4C1780.5,1426.9 1787.1,1423.9 1794.5,1421.7C1801.8,1419.5 1809.2,1418.4 1816.6,1415.1C1823.9,1411.8 1831.3,1405.6 1838.6,1401.9C1846.0,1398.2 1853.3,1396.4 1860.7,1393.0C1868.1,1389.7 1875.4,1386.4 1882.8,1382.0C1890.1,1377.6 1897.5,1371.7 1904.8,1366.6C1912.2,1361.4 1919.6,1355.5 1926.9,1351.1C1934.3,1346.7 1941.6,1344.9 1949.0,1340.1C1956.3,1335.3 1965.5,1327.2 1971.1,1322.4C1976.6,1317.6 1976.6,1312.9 1982.1,1311.4C1987.6,1309.9 1996.8,1310.3 2004.2,1313.6C2011.5,1316.9 2018.9,1324.3 2026.2,1331.2C2033.6,1338.2 2040.9,1348.2 2048.3,1355.5C2055.7,1362.9 2064.1,1370.6 2070.4,1375.4C2076.6,1380.2 2083.2,1382.7 2085.8,1384.2" stroke="#4DBEEE"/>
<path d="M1960.0,1190.0C1963.7,1190.4 1972.9,1192.2 1982.1,1192.2C1991.3,1192.2 2009.7,1190.4 2015.2,1190.0" stroke="#4DBEEE"/>
</g>
<text x="1245" y="977.2" fill="#ff0000" stroke="#ff0000" stroke-width="0.9">STD 0.11</text>
<text x="1750.4" y="945.8" fill="#000" stroke="#000" stroke-width="0.9">(0,1,0)</text>
<line x1="1380.4" y1="1620.5" x2="1380.4" y2="1609.0" stroke="#262626" stroke-width="4.8"/>
<line x1="1380.4" y1="866.5" x2="1380.4" y2="878.0" stroke="#262626" stroke-width="4.8"/>
<line x1="1566.1" y1="1620.5" x2="1566.1" y2="1609.0" stroke="#262626" stroke-width="4.8"/>
<line x1="1566.1" y1="866.5" x2="1566.1" y2="878.0" stroke="#262626" stroke-width="4.8"/>
<line x1="1751.8" y1="1620.5" x2="1751.8" y2="1609.0" stroke="#262626" stroke-width="4.8"/>
<line x1="1751.8" y1="866.5" x2="1751.8" y2="878.0" stroke="#262626" stroke-width="4.8"/>
<line x1="1937.5" y1="1620.5" x2="1937.5" y2="1609.0" stroke="#262626" stroke-width="4.8"/>
<line x1="1937.5" y1="866.5" x2="1937.5" y2="878.0" stroke="#262626" stroke-width="4.8"/>
<line x1="1194.5" y1="866.5" x2="1206.0" y2="866.5" stroke="#262626" stroke-width="4.8"/>
<line x1="2086.0" y1="866.5" x2="2074.5" y2="866.5" stroke="#262626" stroke-width="4.8"/>
<line x1="1194.5" y1="1055.0" x2="1206.0" y2="1055.0" stroke="#262626" stroke-width="4.8"/>
<line x1="2086.0" y1="1055.0" x2="2074.5" y2="1055.0" stroke="#262626" stroke-width="4.8"/>
<line x1="1194.5" y1="1243.5" x2="1206.0" y2="1243.5" stroke="#262626" stroke-width="4.8"/>
<line x1="2086.0" y1="1243.5" x2="2074.5" y2="1243.5" stroke="#262626" stroke-width="4.8"/>
<line x1="1194.5" y1="1432.0" x2="1206.0" y2="1432.0" stroke="#262626" stroke-width="4.8"/>
<line x1="2086.0" y1="1432.0" x2="2074.5" y2="1432.0" stroke="#262626" stroke-width="4.8"/>
<line x1="1194.5" y1="1620.5" x2="1206.0" y2="1620.5" stroke="#262626" stroke-width="4.8"/>
<line x1="2086.0" y1="1620.5" x2="2074.5" y2="1620.5" stroke="#262626" stroke-width="4.8"/>
<rect x="1194.5" y="866.5" width="891.5" height="754.0" fill="none" stroke="#262626" stroke-width="5" stroke-linejoin="miter"/>
<text x="257.5" y="96.0" fill="#262626" stroke="#262626" text-anchor="end">1</text>
<text x="257.5" y="286.0" fill="#262626" stroke="#262626" text-anchor="end">0.5</text>
<text x="257.5" y="476.0" fill="#262626" stroke="#262626" text-anchor="end">0</text>
<text x="257.5" y="666.0" fill="#262626" stroke="#262626" text-anchor="end">-0.5</text>
<text x="257.5" y="856.0" fill="#262626" stroke="#262626" text-anchor="end">-1</text>
<text x="257.5" y="1083.0" fill="#262626" stroke="#262626" text-anchor="end">0.5</text>
<text x="257.5" y="1273.0" fill="#262626" stroke="#262626" text-anchor="end">0</text>
<text x="257.5" y="1463.0" fill="#262626" stroke="#262626" text-anchor="end">-0.5</text>
<text x="257.5" y="1653.0" fill="#262626" stroke="#262626" text-anchor="end">-1</text>
<text x="480.0" y="1732.5" fill="#262626" stroke="#262626" text-anchor="middle">5</text>
<text x="664.4" y="1732.5" fill="#262626" stroke="#262626" text-anchor="middle">10</text>
<text x="848.7" y="1732.5" fill="#262626" stroke="#262626" text-anchor="middle">15</text>
<text x="1033.0" y="1732.5" fill="#262626" stroke="#262626" text-anchor="middle">20</text>
<text x="1378.9" y="1726" fill="#262626" stroke="#262626" text-anchor="middle">5</text>
<text x="1564.6" y="1726" fill="#262626" stroke="#262626" text-anchor="middle">10</text>
<text x="1750.3" y="1726" fill="#262626" stroke="#262626" text-anchor="middle">15</text>
<text x="1936.0" y="1726" fill="#262626" stroke="#262626" text-anchor="middle">20</text>
<text x="1184.5" y="1853.3" fill="#262626" stroke="#262626" text-anchor="middle">UTC [hour]</text>
<text transform="translate(103.3,890) rotate(-90)" x="0" y="0" fill="#262626" stroke="#262626" text-anchor="middle">GPS FCB [cycle]</text>
</svg></body></html>
